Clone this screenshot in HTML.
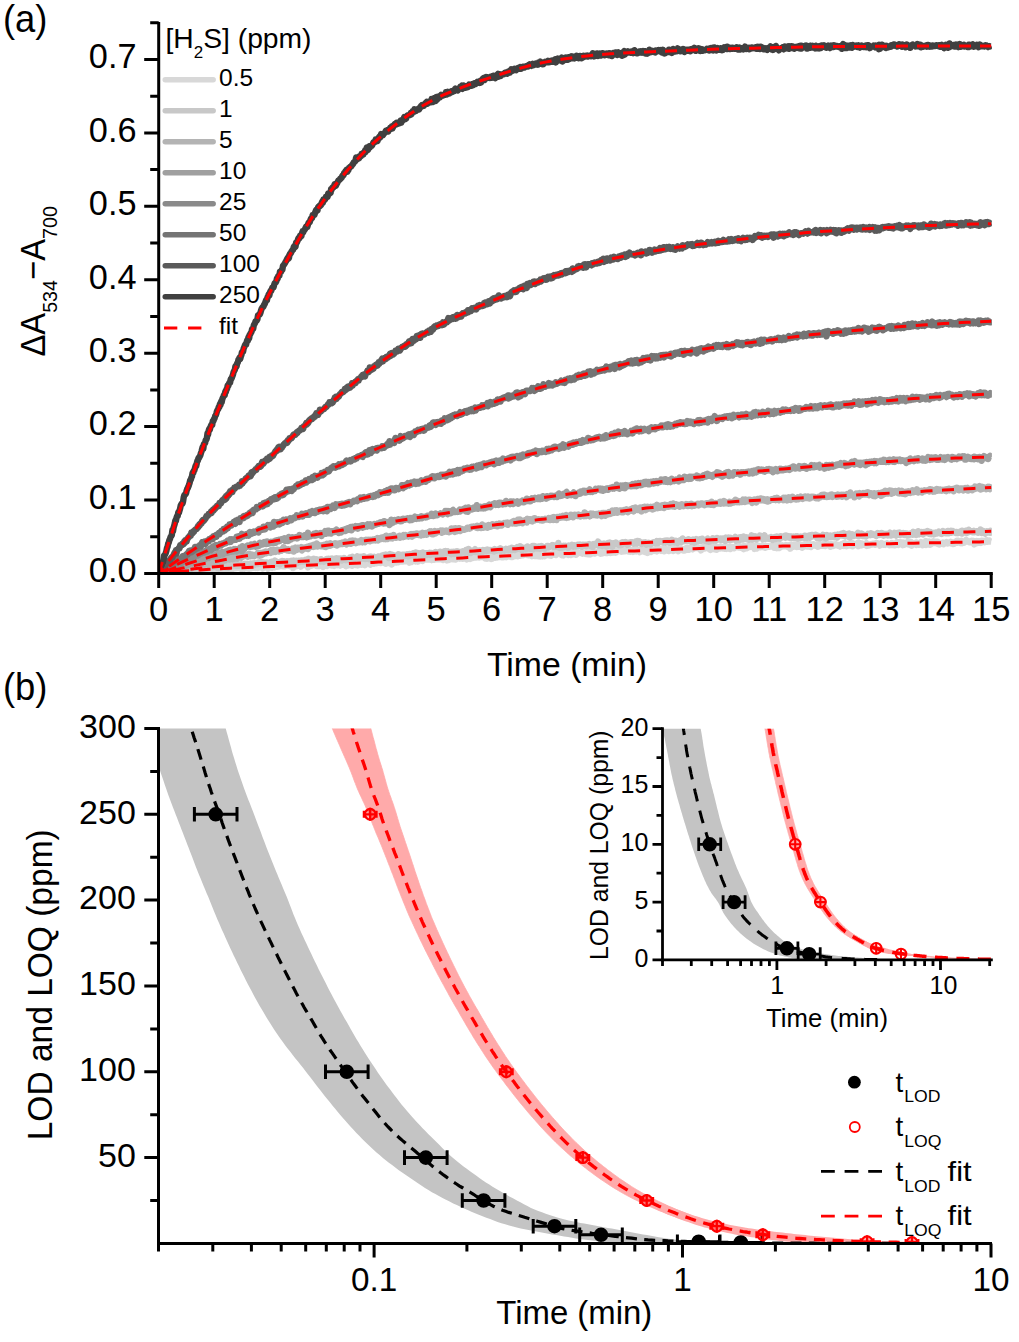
<!DOCTYPE html>
<html><head><meta charset="utf-8"><title>Figure</title>
<style>html,body{margin:0;padding:0;background:#fff}body{width:1019px;height:1342px;overflow:hidden;font-family:"Liberation Sans",sans-serif}</style></head>
<body>
<svg width="1019" height="1342" viewBox="0 0 1019 1342" style="display:block">
<rect width="1019" height="1342" fill="#fff"/>
<defs>
<clipPath id="ca"><rect x="158.7" y="20" width="833.2" height="553.4"/></clipPath>
<clipPath id="cb"><rect x="158.5" y="728.5" width="833" height="515"/></clipPath>
<clipPath id="ci"><rect x="662.5" y="728.7" width="329" height="231.3"/></clipPath>
<clipPath id="cbm"><rect x="150" y="720" width="860" height="523.4"/></clipPath>
<clipPath id="cim"><rect x="650" y="720" width="360" height="239.9"/></clipPath>
</defs>
<g clip-path="url(#ca)" fill="none" stroke-linejoin="round" stroke-linecap="butt">
<path d="M158.7,571.9 L159.3,572.9 L159.9,573.1 L160.5,574.6 L161.1,573.3 L161.7,573.3 L162.3,572.9 L162.9,573.3 L163.5,572.9 L164.1,573.3 L164.6,573.8 L165.2,571.8 L165.8,571.9 L166.4,571.1 L167.0,572.6 L167.6,573.1 L168.2,573.5 L168.8,574.4 L169.4,572.1 L170.0,573.6 L170.6,573.8 L171.2,572.9 L171.8,571.3 L172.4,572.1 L173.0,573.3 L173.6,572.9 L174.2,571.8 L174.8,572.4 L175.3,572.7 L175.9,572.0 L176.5,570.9 L177.1,569.4 L177.7,572.1 L178.3,571.8 L178.9,571.9 L179.5,573.2 L180.1,571.8 L180.7,571.9 L181.3,570.1 L181.9,570.9 L182.5,572.3 L183.1,570.3 L183.7,571.1 L184.3,572.3 L184.9,571.3 L185.5,571.5 L186.1,571.7 L186.6,571.0 L187.2,572.6 L187.8,571.0 L188.4,569.9 L189.0,569.9 L189.6,569.7 L190.2,569.7 L190.8,569.5 L191.4,571.6 L192.0,569.8 L192.6,572.0 L193.2,570.9 L193.8,572.0 L194.4,569.3 L195.0,568.9 L195.6,570.1 L196.2,568.3 L196.8,570.3 L197.4,569.4 L197.9,569.3 L198.5,570.2 L199.1,568.8 L199.7,567.2 L200.3,569.6 L200.9,568.2 L201.5,569.1 L202.1,567.5 L202.7,568.6 L203.3,568.4 L203.9,568.5 L204.5,568.7 L205.1,570.4 L205.7,567.9 L206.3,570.5 L206.9,569.3 L207.5,569.2 L208.1,570.4 L208.6,569.6 L209.2,568.8 L209.8,569.6 L210.4,570.2 L211.0,571.8 L211.6,570.1 L212.2,569.9 L212.8,570.0 L213.4,570.5 L214.0,569.2 L214.6,570.0 L215.2,569.5 L215.8,568.5 L216.4,569.7 L217.0,569.4 L217.6,567.2 L218.2,568.1 L218.8,569.9 L219.4,569.0 L219.9,568.4 L220.5,567.8 L221.1,568.5 L221.7,568.9 L222.3,568.9 L222.9,567.9 L223.5,568.3 L224.1,568.8 L224.7,568.8 L225.3,568.9 L225.9,567.7 L226.5,568.9 L227.1,568.1 L227.7,567.7 L228.3,567.8 L228.9,569.1 L229.5,567.2 L230.1,568.9 L230.7,568.1 L231.2,569.1 L231.8,569.8 L232.4,567.9 L233.0,567.9 L233.6,568.0 L234.2,567.6 L234.8,568.3 L235.4,568.3 L236.0,567.9 L236.6,566.2 L237.2,567.1 L237.8,567.9 L238.4,567.0 L239.0,568.0 L239.6,567.9 L240.2,566.7 L240.8,568.0 L241.4,569.1 L241.9,568.3 L242.5,567.5 L243.1,567.4 L243.7,566.7 L244.3,568.6 L244.9,567.2 L245.5,567.4 L246.1,568.1 L246.7,567.3 L247.3,567.4 L247.9,568.5 L248.5,566.8 L249.1,568.6 L249.7,567.4 L250.3,567.4 L250.9,567.1 L251.5,568.1 L252.1,567.5 L252.7,567.5 L253.2,566.3 L253.8,567.6 L254.4,567.0 L255.0,567.0 L255.6,567.8 L256.2,564.6 L256.8,566.8 L257.4,567.9 L258.0,565.5 L258.6,567.7 L259.2,566.3 L259.8,565.9 L260.4,567.3 L261.0,567.2 L261.6,567.4 L262.2,567.0 L262.8,568.3 L263.4,567.8 L264.0,566.8 L264.5,565.9 L265.1,566.2 L265.7,565.4 L266.3,566.4 L266.9,567.5 L267.5,567.0 L268.1,568.7 L268.7,567.7 L269.3,567.6 L269.9,566.3 L270.5,566.0 L271.1,566.9 L271.7,567.0 L272.3,567.8 L272.9,566.9 L273.5,566.5 L274.1,566.2 L274.7,567.3 L275.2,564.7 L275.8,565.4 L276.4,566.6 L277.0,566.8 L277.6,566.6 L278.2,566.1 L278.8,566.4 L279.4,565.8 L280.0,565.5 L280.6,565.0 L281.2,565.1 L281.8,566.0 L282.4,565.6 L283.0,566.4 L283.6,566.3 L284.2,564.3 L284.8,566.1 L285.4,563.9 L286.0,565.8 L286.5,565.4 L287.1,564.6 L287.7,565.5 L288.3,565.4 L288.9,565.8 L289.5,565.9 L290.1,565.7 L290.7,566.2 L291.3,564.2 L291.9,565.6 L292.5,564.3 L293.1,568.1 L293.7,565.8 L294.3,565.4 L294.9,566.1 L295.5,564.9 L296.1,565.3 L296.7,566.0 L297.3,565.4 L297.8,563.6 L298.4,565.5 L299.0,565.5 L299.6,565.9 L300.2,565.4 L300.8,566.7 L301.4,565.6 L302.0,563.3 L302.6,564.6 L303.2,565.0 L303.8,564.7 L304.4,564.0 L305.0,565.0 L305.6,563.7 L306.2,564.5 L306.8,565.3 L307.4,564.0 L308.0,567.4 L308.6,566.1 L309.1,565.3 L309.7,566.0 L310.3,565.1 L310.9,565.6 L311.5,565.7 L312.1,562.7 L312.7,564.4 L313.3,564.8 L313.9,563.8 L314.5,564.9 L315.1,563.8 L315.7,564.3 L316.3,563.4 L316.9,566.0 L317.5,564.0 L318.1,564.6 L318.7,566.0 L319.3,564.3 L319.8,565.9 L320.4,563.7 L321.0,564.7 L321.6,564.5 L322.2,565.0 L322.8,564.4 L323.4,567.0 L324.0,565.3 L324.6,565.8 L325.2,565.1 L325.8,565.3 L326.4,564.9 L327.0,566.0 L327.6,563.5 L328.2,563.0 L328.8,565.1 L329.4,564.6 L330.0,564.4 L330.6,563.7 L331.1,563.2 L331.7,565.6 L332.3,564.8 L332.9,565.4 L333.5,565.4 L334.1,565.8 L334.7,564.0 L335.3,565.2 L335.9,563.0 L336.5,563.6 L337.1,565.2 L337.7,565.0 L338.3,564.9 L338.9,563.1 L339.5,565.0 L340.1,565.5 L340.7,564.3 L341.3,564.0 L341.8,564.8 L342.4,562.8 L343.0,564.0 L343.6,563.9 L344.2,564.9 L344.8,564.3 L345.4,564.3 L346.0,566.1 L346.6,563.9 L347.2,565.6 L347.8,564.1 L348.4,565.4 L349.0,562.3 L349.6,563.8 L350.2,563.3 L350.8,563.0 L351.4,565.0 L352.0,565.7 L352.6,563.9 L353.1,563.0 L353.7,563.6 L354.3,563.0 L354.9,562.9 L355.5,565.0 L356.1,563.4 L356.7,561.9 L357.3,564.0 L357.9,565.3 L358.5,563.5 L359.1,563.5 L359.7,562.9 L360.3,563.9 L360.9,563.0 L361.5,564.8 L362.1,562.1 L362.7,561.5 L363.3,561.5 L363.9,563.9 L364.4,562.3 L365.0,565.2 L365.6,562.5 L366.2,562.7 L366.8,563.2 L367.4,562.2 L368.0,562.6 L368.6,561.9 L369.2,562.6 L369.8,562.7 L370.4,564.6 L371.0,564.0 L371.6,563.2 L372.2,562.7 L372.8,562.8 L373.4,561.6 L374.0,563.6 L374.6,562.9 L375.1,562.4 L375.7,562.9 L376.3,562.2 L376.9,563.1 L377.5,561.4 L378.1,562.8 L378.7,561.4 L379.3,562.2 L379.9,560.8 L380.5,563.1 L381.1,561.4 L381.7,562.3 L382.3,561.6 L382.9,560.8 L383.5,562.8 L384.1,563.0 L384.7,563.0 L385.3,562.0 L385.9,563.8 L386.4,562.2 L387.0,563.2 L387.6,563.1 L388.2,562.5 L388.8,561.8 L389.4,562.9 L390.0,562.6 L390.6,562.2 L391.2,562.4 L391.8,564.5 L392.4,562.6 L393.0,562.0 L393.6,560.8 L394.2,560.0 L394.8,561.0 L395.4,561.4 L396.0,562.5 L396.6,561.7 L397.2,560.9 L397.7,560.6 L398.3,562.2 L398.9,561.1 L399.5,560.6 L400.1,559.6 L400.7,560.8 L401.3,561.4 L401.9,561.6 L402.5,561.4 L403.1,561.5 L403.7,560.2 L404.3,560.0 L404.9,560.3 L405.5,559.7 L406.1,561.3 L406.7,560.6 L407.3,561.1 L407.9,560.9 L408.4,559.9 L409.0,560.9 L409.6,562.6 L410.2,561.1 L410.8,561.5 L411.4,562.0 L412.0,561.5 L412.6,560.1 L413.2,559.3 L413.8,561.0 L414.4,559.8 L415.0,559.5 L415.6,561.4 L416.2,560.5 L416.8,560.5 L417.4,560.1 L418.0,561.6 L418.6,560.4 L419.2,559.2 L419.7,558.9 L420.3,558.6 L420.9,560.2 L421.5,558.1 L422.1,559.1 L422.7,560.9 L423.3,558.9 L423.9,559.8 L424.5,559.1 L425.1,559.5 L425.7,558.3 L426.3,559.1 L426.9,559.4 L427.5,558.3 L428.1,558.8 L428.7,559.4 L429.3,557.8 L429.9,559.3 L430.5,559.6 L431.0,559.5 L431.6,560.1 L432.2,559.3 L432.8,557.3 L433.4,559.5 L434.0,558.7 L434.6,559.6 L435.2,559.1 L435.8,557.4 L436.4,558.0 L437.0,559.2 L437.6,558.6 L438.2,559.2 L438.8,559.2 L439.4,559.3 L440.0,559.4 L440.6,558.5 L441.2,558.2 L441.7,558.4 L442.3,558.9 L442.9,559.9 L443.5,558.9 L444.1,559.5 L444.7,558.0 L445.3,558.2 L445.9,558.2 L446.5,559.2 L447.1,560.4 L447.7,558.1 L448.3,557.8 L448.9,560.0 L449.5,558.4 L450.1,557.5 L450.7,559.3 L451.3,556.8 L451.9,558.7 L452.5,559.1 L453.0,557.1 L453.6,557.8 L454.2,558.7 L454.8,557.2 L455.4,559.6 L456.0,556.3 L456.6,558.5 L457.2,557.6 L457.8,558.1 L458.4,557.4 L459.0,557.2 L459.6,558.6 L460.2,557.3 L460.8,558.2 L461.4,558.6 L462.0,558.2 L462.6,558.8 L463.2,558.7 L463.8,557.2 L464.3,558.2 L464.9,557.2 L465.5,557.6 L466.1,558.6 L466.7,559.4 L467.3,558.3 L467.9,557.2 L468.5,557.4 L469.1,557.9 L469.7,556.5 L470.3,558.9 L470.9,558.5 L471.5,557.4 L472.1,555.4 L472.7,556.6 L473.3,557.9 L473.9,556.5 L474.5,556.4 L475.1,556.3 L475.6,557.3 L476.2,557.6 L476.8,557.1 L477.4,556.7 L478.0,555.7 L478.6,555.2 L479.2,557.5 L479.8,557.2 L480.4,556.9 L481.0,557.0 L481.6,556.6 L482.2,556.5 L482.8,556.7 L483.4,555.7 L484.0,556.9 L484.6,557.8 L485.2,558.4 L485.8,558.0 L486.3,558.1 L486.9,558.7 L487.5,556.5 L488.1,557.0 L488.7,557.5 L489.3,557.7 L489.9,558.3 L490.5,557.8 L491.1,555.4 L491.7,558.9 L492.3,557.1 L492.9,556.6 L493.5,557.1 L494.1,557.2 L494.7,556.1 L495.3,557.8 L495.9,556.4 L496.5,555.6 L497.1,557.5 L497.6,557.2 L498.2,556.6 L498.8,556.0 L499.4,555.7 L500.0,556.2 L500.6,557.1 L501.2,557.2 L501.8,556.1 L502.4,555.8 L503.0,557.2 L503.6,556.1 L504.2,555.8 L504.8,555.2 L505.4,556.9 L506.0,555.5 L506.6,557.1 L507.2,556.3 L507.8,555.9 L508.3,554.5 L508.9,553.0 L509.5,555.8 L510.1,555.6 L510.7,555.0 L511.3,557.1 L511.9,555.2 L512.5,556.9 L513.1,554.3 L513.7,554.4 L514.3,555.1 L514.9,556.1 L515.5,553.9 L516.1,555.0 L516.7,555.0 L517.3,554.4 L517.9,556.3 L518.5,554.3 L519.1,553.7 L519.6,554.3 L520.2,554.5 L520.8,555.7 L521.4,554.4 L522.0,554.6 L522.6,554.9 L523.2,555.2 L523.8,554.1 L524.4,553.7 L525.0,554.6 L525.6,554.1 L526.2,553.8 L526.8,553.6 L527.4,554.7 L528.0,555.2 L528.6,555.3 L529.2,555.0 L529.8,554.4 L530.4,553.9 L530.9,555.3 L531.5,554.9 L532.1,556.1 L532.7,554.3 L533.3,555.6 L533.9,554.9 L534.5,555.9 L535.1,555.5 L535.7,555.9 L536.3,553.9 L536.9,555.3 L537.5,555.8 L538.1,556.3 L538.7,556.0 L539.3,555.0 L539.9,553.9 L540.5,556.4 L541.1,556.0 L541.7,555.2 L542.2,555.5 L542.8,556.3 L543.4,554.8 L544.0,554.2 L544.6,556.1 L545.2,554.6 L545.8,553.8 L546.4,553.8 L547.0,555.1 L547.6,552.7 L548.2,554.1 L548.8,555.2 L549.4,553.7 L550.0,555.4 L550.6,553.7 L551.2,555.6 L551.8,554.0 L552.4,554.9 L552.9,553.3 L553.5,553.5 L554.1,553.6 L554.7,553.9 L555.3,552.9 L555.9,555.1 L556.5,553.4 L557.1,553.5 L557.7,553.3 L558.3,552.9 L558.9,550.4 L559.5,553.5 L560.1,553.0 L560.7,553.1 L561.3,552.1 L561.9,555.2 L562.5,552.1 L563.1,554.2 L563.7,555.3 L564.2,554.2 L564.8,553.3 L565.4,552.9 L566.0,553.0 L566.6,552.2 L567.2,553.1 L567.8,553.2 L568.4,555.0 L569.0,552.7 L569.6,552.4 L570.2,553.6 L570.8,555.0 L571.4,554.4 L572.0,551.6 L572.6,553.6 L573.2,553.9 L573.8,554.1 L574.4,552.6 L575.0,553.7 L575.5,554.2 L576.1,554.7 L576.7,553.6 L577.3,552.5 L577.9,553.2 L578.5,552.3 L579.1,552.8 L579.7,552.6 L580.3,552.7 L580.9,552.9 L581.5,552.2 L582.1,552.6 L582.7,553.6 L583.3,553.1 L583.9,553.2 L584.5,552.6 L585.1,552.8 L585.7,552.3 L586.2,554.0 L586.8,552.7 L587.4,552.0 L588.0,554.2 L588.6,551.6 L589.2,552.7 L589.8,553.1 L590.4,554.4 L591.0,551.9 L591.6,553.5 L592.2,553.0 L592.8,552.0 L593.4,553.3 L594.0,553.3 L594.6,553.5 L595.2,552.5 L595.8,551.6 L596.4,551.7 L597.0,551.7 L597.5,552.3 L598.1,551.8 L598.7,552.5 L599.3,550.2 L599.9,551.7 L600.5,553.6 L601.1,553.0 L601.7,550.8 L602.3,553.4 L602.9,552.5 L603.5,551.7 L604.1,552.9 L604.7,551.2 L605.3,550.6 L605.9,552.9 L606.5,551.3 L607.1,553.0 L607.7,552.9 L608.2,551.6 L608.8,551.6 L609.4,552.3 L610.0,550.9 L610.6,553.0 L611.2,552.3 L611.8,552.6 L612.4,550.9 L613.0,550.8 L613.6,550.7 L614.2,552.5 L614.8,551.2 L615.4,550.9 L616.0,552.6 L616.6,552.0 L617.2,550.9 L617.8,550.8 L618.4,551.1 L619.0,550.8 L619.5,550.7 L620.1,550.8 L620.7,550.9 L621.3,551.7 L621.9,551.1 L622.5,551.5 L623.1,548.9 L623.7,550.7 L624.3,550.9 L624.9,551.2 L625.5,551.0 L626.1,551.1 L626.7,550.5 L627.3,550.9 L627.9,550.1 L628.5,551.5 L629.1,550.5 L629.7,550.1 L630.3,551.8 L630.8,550.6 L631.4,550.2 L632.0,550.7 L632.6,550.6 L633.2,551.8 L633.8,549.3 L634.4,551.0 L635.0,551.1 L635.6,549.3 L636.2,551.5 L636.8,549.2 L637.4,549.8 L638.0,549.8 L638.6,550.5 L639.2,551.4 L639.8,552.1 L640.4,549.4 L641.0,551.0 L641.5,551.3 L642.1,549.5 L642.7,551.3 L643.3,550.9 L643.9,551.0 L644.5,551.0 L645.1,551.9 L645.7,551.2 L646.3,549.5 L646.9,549.9 L647.5,552.9 L648.1,552.2 L648.7,550.2 L649.3,550.8 L649.9,551.1 L650.5,549.7 L651.1,552.0 L651.7,549.6 L652.3,550.5 L652.8,550.3 L653.4,550.5 L654.0,549.8 L654.6,550.8 L655.2,551.0 L655.8,549.7 L656.4,550.2 L657.0,551.3 L657.6,549.0 L658.2,548.9 L658.8,548.6 L659.4,549.7 L660.0,549.6 L660.6,550.0 L661.2,550.8 L661.8,549.9 L662.4,549.7 L663.0,550.5 L663.6,548.5 L664.1,551.3 L664.7,550.8 L665.3,550.6 L665.9,549.0 L666.5,550.4 L667.1,550.4 L667.7,550.7 L668.3,550.6 L668.9,551.0 L669.5,548.9 L670.1,549.0 L670.7,548.4 L671.3,549.7 L671.9,547.0 L672.5,549.9 L673.1,550.9 L673.7,549.4 L674.3,549.1 L674.9,548.5 L675.4,550.1 L676.0,548.7 L676.6,547.9 L677.2,550.3 L677.8,550.2 L678.4,551.1 L679.0,549.3 L679.6,549.0 L680.2,549.2 L680.8,549.1 L681.4,548.6 L682.0,549.8 L682.6,549.0 L683.2,550.6 L683.8,550.5 L684.4,549.5 L685.0,550.4 L685.6,549.0 L686.1,548.2 L686.7,549.0 L687.3,549.7 L687.9,549.7 L688.5,547.9 L689.1,549.7 L689.7,548.9 L690.3,548.8 L690.9,548.4 L691.5,547.4 L692.1,548.7 L692.7,549.3 L693.3,546.8 L693.9,547.8 L694.5,547.4 L695.1,548.0 L695.7,547.3 L696.3,547.0 L696.9,547.0 L697.4,548.2 L698.0,548.3 L698.6,547.7 L699.2,548.1 L699.8,547.8 L700.4,549.0 L701.0,550.4 L701.6,547.9 L702.2,547.5 L702.8,547.6 L703.4,546.9 L704.0,547.5 L704.6,548.5 L705.2,547.2 L705.8,548.1 L706.4,547.1 L707.0,547.7 L707.6,547.3 L708.2,547.5 L708.7,547.7 L709.3,549.1 L709.9,547.8 L710.5,550.0 L711.1,547.5 L711.7,547.2 L712.3,546.0 L712.9,547.4 L713.5,548.5 L714.1,549.0 L714.7,546.0 L715.3,548.8 L715.9,547.0 L716.5,549.8 L717.1,547.9 L717.7,547.1 L718.3,547.4 L718.9,547.8 L719.4,548.4 L720.0,548.5 L720.6,546.6 L721.2,547.3 L721.8,547.8 L722.4,547.4 L723.0,548.5 L723.6,547.1 L724.2,546.9 L724.8,548.8 L725.4,548.2 L726.0,547.4 L726.6,548.9 L727.2,546.5 L727.8,546.8 L728.4,548.2 L729.0,547.1 L729.6,546.6 L730.2,549.1 L730.7,547.3 L731.3,547.8 L731.9,547.9 L732.5,547.0 L733.1,547.9 L733.7,548.4 L734.3,548.2 L734.9,546.9 L735.5,546.4 L736.1,546.9 L736.7,547.0 L737.3,547.0 L737.9,545.9 L738.5,546.5 L739.1,547.6 L739.7,547.5 L740.3,546.4 L740.9,547.8 L741.5,547.6 L742.0,547.2 L742.6,548.1 L743.2,546.4 L743.8,549.2 L744.4,545.8 L745.0,547.3 L745.6,548.1 L746.2,546.7 L746.8,548.3 L747.4,546.3 L748.0,546.0 L748.6,547.0 L749.2,546.7 L749.8,545.6 L750.4,546.8 L751.0,546.4 L751.6,546.1 L752.2,545.1 L752.7,546.9 L753.3,546.5 L753.9,545.7 L754.5,548.9 L755.1,547.1 L755.7,548.6 L756.3,548.6 L756.9,545.2 L757.5,546.8 L758.1,545.6 L758.7,547.2 L759.3,546.5 L759.9,547.2 L760.5,547.4 L761.1,546.9 L761.7,546.6 L762.3,545.5 L762.9,547.0 L763.5,546.3 L764.0,546.7 L764.6,546.3 L765.2,547.7 L765.8,545.7 L766.4,546.9 L767.0,546.7 L767.6,546.9 L768.2,546.0 L768.8,546.4 L769.4,546.8 L770.0,546.7 L770.6,546.5 L771.2,546.1 L771.8,546.0 L772.4,545.4 L773.0,545.2 L773.6,546.2 L774.2,547.7 L774.8,545.1 L775.3,544.8 L775.9,546.8 L776.5,546.5 L777.1,548.1 L777.7,545.5 L778.3,546.9 L778.9,544.4 L779.5,548.0 L780.1,545.8 L780.7,545.4 L781.3,546.4 L781.9,546.6 L782.5,545.4 L783.1,546.0 L783.7,546.0 L784.3,545.9 L784.9,546.3 L785.5,546.1 L786.0,545.2 L786.6,546.3 L787.2,545.9 L787.8,546.8 L788.4,545.4 L789.0,547.2 L789.6,545.4 L790.2,548.7 L790.8,546.8 L791.4,547.4 L792.0,545.1 L792.6,545.6 L793.2,546.8 L793.8,546.3 L794.4,544.7 L795.0,545.8 L795.6,545.2 L796.2,546.9 L796.8,547.0 L797.3,545.3 L797.9,544.0 L798.5,546.5 L799.1,545.4 L799.7,546.8 L800.3,544.9 L800.9,546.6 L801.5,546.6 L802.1,547.7 L802.7,546.2 L803.3,545.6 L803.9,544.5 L804.5,546.5 L805.1,544.7 L805.7,545.7 L806.3,545.6 L806.9,546.1 L807.5,546.5 L808.0,546.2 L808.6,543.7 L809.2,546.3 L809.8,545.6 L810.4,544.2 L811.0,547.0 L811.6,544.8 L812.2,545.7 L812.8,545.1 L813.4,544.5 L814.0,545.4 L814.6,545.5 L815.2,544.7 L815.8,544.7 L816.4,545.9 L817.0,545.6 L817.6,546.7 L818.2,544.3 L818.8,546.4 L819.3,545.1 L819.9,543.8 L820.5,544.7 L821.1,545.5 L821.7,545.8 L822.3,545.8 L822.9,544.5 L823.5,545.0 L824.1,545.4 L824.7,543.0 L825.3,546.0 L825.9,545.7 L826.5,545.6 L827.1,545.0 L827.7,544.8 L828.3,545.2 L828.9,544.3 L829.5,544.4 L830.1,545.1 L830.6,546.7 L831.2,544.0 L831.8,545.3 L832.4,545.2 L833.0,544.7 L833.6,545.8 L834.2,545.4 L834.8,544.6 L835.4,544.9 L836.0,544.3 L836.6,545.2 L837.2,544.9 L837.8,545.7 L838.4,545.1 L839.0,545.0 L839.6,545.7 L840.2,546.5 L840.8,545.5 L841.4,545.0 L841.9,544.1 L842.5,544.9 L843.1,545.3 L843.7,545.9 L844.3,542.9 L844.9,545.6 L845.5,545.8 L846.1,544.9 L846.7,546.2 L847.3,543.9 L847.9,544.6 L848.5,544.2 L849.1,545.5 L849.7,545.3 L850.3,544.2 L850.9,544.2 L851.5,542.5 L852.1,543.8 L852.6,546.3 L853.2,544.8 L853.8,545.1 L854.4,543.9 L855.0,544.9 L855.6,544.4 L856.2,545.0 L856.8,544.1 L857.4,543.2 L858.0,545.0 L858.6,546.2 L859.2,545.2 L859.8,543.0 L860.4,544.2 L861.0,544.7 L861.6,545.3 L862.2,543.6 L862.8,544.0 L863.4,544.4 L863.9,544.7 L864.5,544.3 L865.1,544.4 L865.7,543.6 L866.3,543.1 L866.9,545.9 L867.5,545.4 L868.1,544.2 L868.7,544.1 L869.3,545.4 L869.9,544.5 L870.5,544.3 L871.1,544.3 L871.7,544.6 L872.3,544.3 L872.9,543.6 L873.5,543.7 L874.1,543.6 L874.7,543.9 L875.2,544.7 L875.8,544.3 L876.4,543.2 L877.0,543.9 L877.6,543.4 L878.2,543.9 L878.8,544.2 L879.4,543.9 L880.0,545.6 L880.6,544.2 L881.2,544.4 L881.8,543.1 L882.4,544.4 L883.0,543.9 L883.6,544.6 L884.2,543.9 L884.8,544.0 L885.4,544.8 L885.9,544.2 L886.5,544.1 L887.1,543.5 L887.7,544.4 L888.3,544.2 L888.9,544.6 L889.5,545.2 L890.1,544.3 L890.7,544.1 L891.3,545.0 L891.9,543.0 L892.5,544.7 L893.1,543.3 L893.7,543.5 L894.3,545.2 L894.9,543.9 L895.5,545.1 L896.1,543.9 L896.7,543.3 L897.2,542.1 L897.8,542.9 L898.4,544.9 L899.0,543.9 L899.6,542.4 L900.2,543.6 L900.8,542.2 L901.4,544.3 L902.0,544.3 L902.6,545.0 L903.2,544.0 L903.8,542.6 L904.4,544.6 L905.0,543.1 L905.6,543.2 L906.2,542.8 L906.8,543.8 L907.4,543.5 L908.0,541.6 L908.5,544.5 L909.1,542.9 L909.7,542.1 L910.3,543.0 L910.9,541.9 L911.5,545.8 L912.1,543.8 L912.7,544.5 L913.3,543.8 L913.9,543.4 L914.5,543.0 L915.1,544.2 L915.7,542.8 L916.3,544.9 L916.9,542.6 L917.5,543.4 L918.1,544.6 L918.7,544.8 L919.2,544.8 L919.8,544.0 L920.4,543.1 L921.0,542.1 L921.6,542.4 L922.2,544.3 L922.8,545.2 L923.4,543.5 L924.0,544.4 L924.6,543.2 L925.2,543.7 L925.8,541.1 L926.4,544.9 L927.0,543.0 L927.6,541.5 L928.2,543.4 L928.8,543.9 L929.4,541.6 L930.0,544.8 L930.5,544.5 L931.1,544.1 L931.7,542.9 L932.3,542.4 L932.9,543.2 L933.5,541.2 L934.1,543.0 L934.7,542.7 L935.3,543.0 L935.9,541.9 L936.5,543.2 L937.1,543.6 L937.7,541.8 L938.3,542.2 L938.9,542.6 L939.5,544.4 L940.1,544.1 L940.7,543.5 L941.2,543.5 L941.8,543.6 L942.4,543.4 L943.0,542.7 L943.6,544.2 L944.2,543.1 L944.8,543.5 L945.4,543.3 L946.0,543.2 L946.6,542.1 L947.2,542.7 L947.8,543.4 L948.4,542.6 L949.0,542.7 L949.6,542.3 L950.2,543.0 L950.8,541.9 L951.4,542.5 L952.0,543.7 L952.5,543.9 L953.1,544.0 L953.7,542.5 L954.3,543.6 L954.9,543.1 L955.5,542.8 L956.1,541.7 L956.7,540.8 L957.3,542.6 L957.9,540.7 L958.5,541.9 L959.1,541.1 L959.7,542.4 L960.3,543.0 L960.9,541.6 L961.5,540.9 L962.1,543.2 L962.7,542.0 L963.3,541.5 L963.8,541.3 L964.4,542.6 L965.0,542.0 L965.6,540.8 L966.2,540.0 L966.8,541.5 L967.4,540.8 L968.0,541.5 L968.6,541.3 L969.2,542.2 L969.8,542.1 L970.4,542.3 L971.0,541.8 L971.6,540.8 L972.2,541.6 L972.8,541.1 L973.4,542.3 L974.0,541.1 L974.5,544.4 L975.1,542.9 L975.7,542.0 L976.3,543.3 L976.9,541.1 L977.5,541.3 L978.1,542.3 L978.7,541.3 L979.3,542.7 L979.9,542.1 L980.5,541.8 L981.1,542.8 L981.7,540.7 L982.3,542.1 L982.9,540.7 L983.5,541.6 L984.1,541.1 L984.7,542.1 L985.3,541.6 L985.8,541.9 L986.4,541.4 L987.0,540.1 L987.6,541.8 L988.2,541.4 L988.8,541.1 L989.4,540.6 L990.0,541.5 L990.6,541.7 L991.2,541.8" stroke="#d8d8d8" stroke-width="6.4"/>
<path d="M158.7,574.5 L159.3,573.0 L159.9,574.3 L160.5,574.0 L161.1,574.5 L161.7,574.2 L162.3,572.7 L162.9,573.6 L163.5,574.0 L164.1,573.9 L164.6,573.4 L165.2,572.7 L165.8,571.6 L166.4,572.4 L167.0,572.4 L167.6,572.5 L168.2,571.8 L168.8,573.2 L169.4,572.2 L170.0,573.0 L170.6,572.9 L171.2,571.2 L171.8,571.7 L172.4,571.9 L173.0,572.6 L173.6,571.4 L174.2,569.8 L174.8,571.1 L175.3,571.0 L175.9,571.5 L176.5,570.4 L177.1,571.4 L177.7,568.6 L178.3,570.6 L178.9,570.8 L179.5,569.8 L180.1,571.8 L180.7,571.3 L181.3,570.9 L181.9,570.5 L182.5,568.8 L183.1,571.0 L183.7,567.9 L184.3,569.0 L184.9,568.3 L185.5,569.4 L186.1,570.6 L186.6,570.1 L187.2,568.0 L187.8,569.4 L188.4,568.8 L189.0,568.8 L189.6,567.6 L190.2,567.8 L190.8,568.6 L191.4,568.6 L192.0,567.9 L192.6,569.8 L193.2,569.7 L193.8,570.2 L194.4,569.8 L195.0,570.3 L195.6,568.4 L196.2,569.1 L196.8,567.4 L197.4,569.0 L197.9,568.5 L198.5,569.1 L199.1,567.9 L199.7,568.0 L200.3,568.8 L200.9,568.3 L201.5,569.0 L202.1,568.7 L202.7,569.0 L203.3,567.3 L203.9,568.8 L204.5,569.0 L205.1,567.4 L205.7,568.1 L206.3,568.9 L206.9,568.6 L207.5,568.2 L208.1,568.3 L208.6,567.2 L209.2,568.0 L209.8,567.9 L210.4,566.4 L211.0,565.5 L211.6,565.7 L212.2,567.2 L212.8,566.4 L213.4,566.8 L214.0,565.2 L214.6,566.3 L215.2,566.4 L215.8,565.1 L216.4,565.6 L217.0,567.0 L217.6,568.0 L218.2,567.4 L218.8,568.2 L219.4,565.6 L219.9,566.9 L220.5,566.3 L221.1,566.5 L221.7,567.4 L222.3,566.5 L222.9,566.3 L223.5,566.8 L224.1,566.6 L224.7,566.3 L225.3,567.4 L225.9,566.3 L226.5,566.5 L227.1,566.9 L227.7,565.9 L228.3,567.7 L228.9,567.1 L229.5,566.0 L230.1,564.4 L230.7,565.0 L231.2,566.2 L231.8,564.1 L232.4,565.0 L233.0,565.6 L233.6,565.3 L234.2,563.7 L234.8,564.4 L235.4,565.6 L236.0,565.8 L236.6,564.6 L237.2,565.8 L237.8,565.2 L238.4,564.0 L239.0,565.7 L239.6,565.3 L240.2,564.6 L240.8,565.2 L241.4,564.2 L241.9,565.2 L242.5,564.5 L243.1,564.5 L243.7,565.5 L244.3,564.3 L244.9,563.8 L245.5,564.9 L246.1,565.3 L246.7,565.1 L247.3,563.7 L247.9,564.7 L248.5,565.1 L249.1,565.5 L249.7,564.4 L250.3,565.3 L250.9,563.5 L251.5,565.0 L252.1,565.5 L252.7,563.4 L253.2,564.0 L253.8,563.8 L254.4,564.9 L255.0,563.4 L255.6,563.7 L256.2,563.9 L256.8,563.4 L257.4,563.2 L258.0,564.0 L258.6,562.5 L259.2,563.2 L259.8,563.5 L260.4,562.8 L261.0,563.0 L261.6,561.9 L262.2,562.9 L262.8,563.3 L263.4,563.1 L264.0,562.6 L264.5,564.4 L265.1,564.2 L265.7,563.3 L266.3,562.5 L266.9,562.4 L267.5,563.1 L268.1,564.1 L268.7,564.8 L269.3,563.1 L269.9,563.4 L270.5,562.9 L271.1,562.1 L271.7,563.5 L272.3,561.7 L272.9,563.1 L273.5,562.9 L274.1,562.4 L274.7,564.0 L275.2,560.6 L275.8,562.7 L276.4,561.5 L277.0,562.9 L277.6,563.6 L278.2,563.1 L278.8,563.1 L279.4,563.7 L280.0,564.4 L280.6,561.6 L281.2,562.7 L281.8,562.0 L282.4,561.2 L283.0,562.6 L283.6,562.1 L284.2,561.3 L284.8,561.8 L285.4,562.0 L286.0,563.0 L286.5,562.9 L287.1,561.4 L287.7,562.3 L288.3,561.4 L288.9,561.3 L289.5,561.7 L290.1,561.5 L290.7,561.8 L291.3,560.9 L291.9,563.6 L292.5,562.6 L293.1,561.7 L293.7,560.5 L294.3,563.2 L294.9,562.3 L295.5,561.4 L296.1,560.9 L296.7,561.9 L297.3,563.0 L297.8,561.2 L298.4,560.7 L299.0,560.9 L299.6,560.8 L300.2,560.7 L300.8,561.8 L301.4,560.5 L302.0,560.4 L302.6,561.1 L303.2,561.7 L303.8,561.4 L304.4,560.4 L305.0,561.3 L305.6,559.9 L306.2,560.6 L306.8,560.8 L307.4,559.8 L308.0,560.6 L308.6,558.7 L309.1,559.2 L309.7,561.0 L310.3,560.7 L310.9,562.0 L311.5,559.5 L312.1,559.7 L312.7,559.9 L313.3,561.2 L313.9,558.8 L314.5,559.0 L315.1,560.5 L315.7,560.8 L316.3,560.6 L316.9,559.4 L317.5,559.8 L318.1,560.2 L318.7,560.3 L319.3,561.1 L319.8,560.4 L320.4,561.4 L321.0,559.2 L321.6,560.2 L322.2,560.1 L322.8,560.4 L323.4,561.0 L324.0,561.8 L324.6,560.6 L325.2,560.2 L325.8,560.1 L326.4,559.0 L327.0,559.0 L327.6,560.3 L328.2,560.3 L328.8,558.7 L329.4,561.3 L330.0,559.8 L330.6,558.8 L331.1,559.3 L331.7,559.9 L332.3,558.7 L332.9,559.8 L333.5,560.0 L334.1,559.3 L334.7,559.6 L335.3,559.1 L335.9,558.4 L336.5,558.3 L337.1,561.3 L337.7,559.1 L338.3,558.9 L338.9,558.6 L339.5,559.2 L340.1,559.2 L340.7,558.7 L341.3,559.7 L341.8,560.5 L342.4,558.4 L343.0,558.4 L343.6,559.8 L344.2,558.1 L344.8,559.8 L345.4,558.9 L346.0,560.3 L346.6,559.0 L347.2,559.7 L347.8,559.3 L348.4,558.8 L349.0,558.4 L349.6,559.6 L350.2,557.4 L350.8,559.0 L351.4,560.0 L352.0,558.8 L352.6,556.9 L353.1,558.6 L353.7,559.2 L354.3,558.5 L354.9,557.7 L355.5,557.6 L356.1,557.6 L356.7,557.1 L357.3,556.3 L357.9,558.0 L358.5,557.7 L359.1,558.1 L359.7,557.8 L360.3,556.8 L360.9,557.6 L361.5,558.7 L362.1,557.2 L362.7,556.7 L363.3,557.8 L363.9,556.3 L364.4,556.9 L365.0,559.1 L365.6,558.2 L366.2,558.7 L366.8,558.2 L367.4,558.4 L368.0,557.5 L368.6,557.1 L369.2,559.2 L369.8,556.7 L370.4,557.5 L371.0,556.5 L371.6,557.8 L372.2,559.4 L372.8,557.6 L373.4,557.1 L374.0,556.8 L374.6,557.4 L375.1,558.1 L375.7,557.9 L376.3,557.7 L376.9,557.8 L377.5,556.9 L378.1,556.6 L378.7,556.4 L379.3,556.6 L379.9,557.0 L380.5,556.2 L381.1,556.4 L381.7,557.2 L382.3,555.5 L382.9,556.3 L383.5,556.2 L384.1,555.0 L384.7,555.6 L385.3,555.5 L385.9,554.5 L386.4,555.2 L387.0,555.3 L387.6,555.9 L388.2,557.6 L388.8,558.0 L389.4,556.6 L390.0,554.1 L390.6,556.0 L391.2,556.4 L391.8,555.6 L392.4,554.9 L393.0,555.6 L393.6,555.4 L394.2,555.5 L394.8,556.1 L395.4,556.0 L396.0,557.5 L396.6,555.5 L397.2,555.4 L397.7,555.1 L398.3,554.4 L398.9,556.3 L399.5,556.3 L400.1,554.7 L400.7,556.6 L401.3,555.2 L401.9,555.4 L402.5,554.9 L403.1,555.9 L403.7,554.9 L404.3,556.4 L404.9,554.8 L405.5,555.5 L406.1,555.8 L406.7,555.2 L407.3,554.4 L407.9,556.3 L408.4,555.4 L409.0,556.1 L409.6,554.0 L410.2,554.1 L410.8,555.2 L411.4,554.7 L412.0,555.3 L412.6,554.2 L413.2,553.4 L413.8,554.5 L414.4,554.2 L415.0,555.5 L415.6,552.4 L416.2,554.9 L416.8,553.7 L417.4,554.1 L418.0,553.2 L418.6,554.3 L419.2,554.5 L419.7,555.5 L420.3,553.3 L420.9,555.9 L421.5,553.0 L422.1,553.1 L422.7,552.6 L423.3,554.9 L423.9,554.8 L424.5,554.2 L425.1,553.5 L425.7,555.1 L426.3,553.2 L426.9,554.9 L427.5,553.3 L428.1,553.8 L428.7,553.4 L429.3,553.7 L429.9,552.9 L430.5,555.0 L431.0,552.9 L431.6,554.3 L432.2,553.8 L432.8,554.2 L433.4,552.9 L434.0,553.0 L434.6,553.6 L435.2,554.2 L435.8,552.0 L436.4,553.6 L437.0,552.9 L437.6,553.6 L438.2,552.3 L438.8,552.2 L439.4,552.5 L440.0,551.8 L440.6,551.8 L441.2,554.9 L441.7,553.6 L442.3,554.0 L442.9,552.3 L443.5,552.5 L444.1,553.7 L444.7,551.3 L445.3,552.5 L445.9,551.1 L446.5,553.2 L447.1,552.0 L447.7,551.5 L448.3,552.8 L448.9,552.0 L449.5,552.2 L450.1,552.7 L450.7,552.2 L451.3,554.2 L451.9,552.0 L452.5,552.6 L453.0,553.6 L453.6,551.9 L454.2,554.0 L454.8,553.6 L455.4,551.7 L456.0,552.0 L456.6,552.9 L457.2,551.3 L457.8,552.9 L458.4,552.8 L459.0,552.4 L459.6,551.9 L460.2,552.0 L460.8,553.1 L461.4,552.5 L462.0,551.7 L462.6,551.4 L463.2,552.1 L463.8,551.4 L464.3,551.2 L464.9,552.7 L465.5,552.2 L466.1,550.1 L466.7,552.0 L467.3,551.3 L467.9,552.8 L468.5,549.0 L469.1,552.2 L469.7,551.0 L470.3,551.2 L470.9,552.9 L471.5,551.6 L472.1,550.6 L472.7,551.8 L473.3,550.6 L473.9,551.7 L474.5,550.1 L475.1,549.2 L475.6,552.0 L476.2,550.4 L476.8,551.4 L477.4,551.7 L478.0,550.9 L478.6,550.7 L479.2,550.4 L479.8,550.5 L480.4,552.7 L481.0,551.2 L481.6,552.6 L482.2,550.5 L482.8,550.0 L483.4,550.6 L484.0,551.1 L484.6,550.3 L485.2,550.0 L485.8,550.3 L486.3,551.2 L486.9,550.9 L487.5,549.7 L488.1,550.8 L488.7,550.6 L489.3,550.5 L489.9,549.9 L490.5,549.9 L491.1,550.6 L491.7,550.7 L492.3,550.6 L492.9,550.3 L493.5,549.8 L494.1,551.5 L494.7,549.0 L495.3,550.8 L495.9,549.7 L496.5,550.7 L497.1,550.2 L497.6,549.7 L498.2,549.3 L498.8,549.5 L499.4,549.0 L500.0,549.9 L500.6,548.4 L501.2,550.9 L501.8,549.4 L502.4,549.4 L503.0,550.2 L503.6,549.8 L504.2,550.5 L504.8,549.5 L505.4,549.9 L506.0,548.9 L506.6,549.3 L507.2,549.3 L507.8,549.5 L508.3,550.2 L508.9,548.7 L509.5,548.6 L510.1,549.4 L510.7,550.0 L511.3,549.7 L511.9,547.9 L512.5,550.0 L513.1,548.4 L513.7,549.1 L514.3,548.3 L514.9,550.0 L515.5,548.3 L516.1,549.5 L516.7,548.3 L517.3,547.2 L517.9,548.8 L518.5,547.1 L519.1,548.5 L519.6,547.9 L520.2,546.2 L520.8,547.3 L521.4,547.9 L522.0,550.3 L522.6,548.8 L523.2,547.9 L523.8,549.0 L524.4,549.0 L525.0,547.8 L525.6,549.3 L526.2,549.1 L526.8,547.8 L527.4,546.5 L528.0,548.6 L528.6,547.9 L529.2,547.7 L529.8,548.8 L530.4,548.8 L530.9,547.4 L531.5,548.7 L532.1,548.3 L532.7,546.0 L533.3,549.3 L533.9,546.0 L534.5,546.3 L535.1,548.0 L535.7,546.4 L536.3,547.3 L536.9,548.5 L537.5,548.4 L538.1,548.5 L538.7,546.4 L539.3,548.7 L539.9,549.0 L540.5,548.3 L541.1,548.4 L541.7,546.0 L542.2,548.3 L542.8,548.5 L543.4,548.3 L544.0,548.3 L544.6,549.0 L545.2,547.2 L545.8,547.7 L546.4,547.1 L547.0,545.9 L547.6,546.0 L548.2,545.9 L548.8,547.1 L549.4,546.4 L550.0,546.9 L550.6,546.5 L551.2,546.1 L551.8,546.5 L552.4,545.2 L552.9,546.8 L553.5,545.2 L554.1,546.1 L554.7,546.7 L555.3,546.1 L555.9,546.7 L556.5,546.6 L557.1,545.6 L557.7,546.8 L558.3,543.0 L558.9,547.4 L559.5,547.8 L560.1,545.7 L560.7,547.0 L561.3,547.2 L561.9,547.6 L562.5,546.8 L563.1,547.2 L563.7,545.8 L564.2,546.9 L564.8,546.3 L565.4,545.7 L566.0,546.1 L566.6,546.7 L567.2,547.1 L567.8,547.5 L568.4,547.5 L569.0,545.5 L569.6,546.5 L570.2,546.3 L570.8,545.6 L571.4,545.4 L572.0,544.8 L572.6,545.2 L573.2,545.8 L573.8,546.7 L574.4,545.3 L575.0,545.8 L575.5,545.7 L576.1,546.5 L576.7,545.3 L577.3,544.9 L577.9,545.8 L578.5,545.2 L579.1,545.7 L579.7,546.0 L580.3,544.7 L580.9,545.9 L581.5,545.4 L582.1,546.8 L582.7,544.7 L583.3,545.9 L583.9,545.4 L584.5,545.4 L585.1,544.8 L585.7,545.8 L586.2,546.1 L586.8,544.8 L587.4,544.5 L588.0,545.3 L588.6,544.4 L589.2,544.0 L589.8,545.6 L590.4,544.5 L591.0,544.8 L591.6,546.5 L592.2,546.1 L592.8,547.0 L593.4,544.1 L594.0,545.4 L594.6,545.3 L595.2,544.3 L595.8,543.7 L596.4,544.6 L597.0,543.3 L597.5,543.6 L598.1,541.6 L598.7,545.5 L599.3,545.2 L599.9,545.3 L600.5,544.0 L601.1,545.3 L601.7,543.9 L602.3,546.0 L602.9,543.9 L603.5,544.4 L604.1,543.5 L604.7,544.1 L605.3,544.5 L605.9,544.5 L606.5,546.5 L607.1,544.9 L607.7,544.6 L608.2,543.0 L608.8,544.2 L609.4,545.6 L610.0,542.6 L610.6,545.3 L611.2,544.4 L611.8,545.0 L612.4,546.8 L613.0,543.2 L613.6,544.5 L614.2,543.3 L614.8,544.5 L615.4,543.4 L616.0,542.6 L616.6,543.4 L617.2,544.2 L617.8,544.7 L618.4,544.3 L619.0,545.1 L619.5,543.9 L620.1,543.5 L620.7,545.2 L621.3,545.1 L621.9,542.5 L622.5,543.8 L623.1,542.3 L623.7,543.3 L624.3,543.1 L624.9,543.5 L625.5,542.1 L626.1,542.3 L626.7,543.4 L627.3,544.9 L627.9,544.3 L628.5,543.3 L629.1,543.9 L629.7,542.5 L630.3,542.4 L630.8,542.3 L631.4,542.1 L632.0,542.5 L632.6,542.3 L633.2,542.4 L633.8,543.6 L634.4,542.6 L635.0,542.5 L635.6,541.7 L636.2,542.9 L636.8,543.3 L637.4,540.9 L638.0,541.9 L638.6,541.6 L639.2,541.3 L639.8,543.0 L640.4,542.0 L641.0,542.9 L641.5,544.0 L642.1,542.8 L642.7,542.7 L643.3,542.5 L643.9,543.4 L644.5,543.3 L645.1,543.9 L645.7,542.4 L646.3,544.8 L646.9,543.0 L647.5,543.5 L648.1,543.4 L648.7,542.8 L649.3,543.3 L649.9,544.4 L650.5,544.5 L651.1,544.1 L651.7,543.3 L652.3,542.8 L652.8,542.5 L653.4,542.3 L654.0,542.3 L654.6,542.8 L655.2,543.4 L655.8,542.7 L656.4,543.0 L657.0,541.1 L657.6,541.6 L658.2,543.1 L658.8,542.3 L659.4,541.1 L660.0,542.0 L660.6,541.2 L661.2,541.9 L661.8,542.0 L662.4,541.5 L663.0,542.5 L663.6,542.5 L664.1,542.3 L664.7,540.8 L665.3,541.4 L665.9,542.6 L666.5,540.6 L667.1,541.0 L667.7,540.5 L668.3,541.1 L668.9,541.2 L669.5,542.8 L670.1,540.9 L670.7,542.6 L671.3,541.4 L671.9,539.7 L672.5,541.1 L673.1,540.9 L673.7,541.7 L674.3,541.0 L674.9,542.4 L675.4,541.5 L676.0,540.8 L676.6,541.4 L677.2,542.2 L677.8,543.1 L678.4,541.7 L679.0,541.9 L679.6,541.5 L680.2,540.3 L680.8,542.2 L681.4,539.9 L682.0,541.7 L682.6,538.5 L683.2,539.3 L683.8,539.8 L684.4,541.1 L685.0,540.3 L685.6,540.4 L686.1,541.1 L686.7,541.2 L687.3,539.8 L687.9,540.6 L688.5,539.2 L689.1,539.8 L689.7,540.8 L690.3,540.4 L690.9,540.6 L691.5,541.8 L692.1,540.4 L692.7,541.5 L693.3,539.6 L693.9,539.8 L694.5,542.7 L695.1,540.5 L695.7,541.6 L696.3,539.1 L696.9,540.4 L697.4,539.9 L698.0,539.7 L698.6,541.1 L699.2,540.0 L699.8,539.3 L700.4,540.9 L701.0,540.0 L701.6,540.8 L702.2,538.7 L702.8,539.0 L703.4,540.6 L704.0,540.7 L704.6,539.9 L705.2,540.6 L705.8,540.7 L706.4,541.1 L707.0,539.2 L707.6,538.7 L708.2,540.2 L708.7,541.8 L709.3,541.7 L709.9,539.8 L710.5,540.6 L711.1,540.3 L711.7,539.5 L712.3,539.9 L712.9,538.3 L713.5,540.5 L714.1,538.9 L714.7,540.0 L715.3,538.8 L715.9,540.5 L716.5,539.3 L717.1,538.0 L717.7,539.6 L718.3,538.5 L718.9,539.4 L719.4,539.0 L720.0,539.4 L720.6,538.7 L721.2,540.1 L721.8,539.4 L722.4,538.6 L723.0,539.8 L723.6,538.6 L724.2,538.7 L724.8,539.1 L725.4,540.9 L726.0,537.6 L726.6,540.2 L727.2,539.1 L727.8,538.6 L728.4,537.7 L729.0,539.1 L729.6,540.0 L730.2,538.7 L730.7,537.8 L731.3,540.0 L731.9,538.8 L732.5,539.3 L733.1,538.9 L733.7,539.2 L734.3,538.7 L734.9,538.4 L735.5,536.9 L736.1,540.7 L736.7,537.7 L737.3,538.9 L737.9,539.6 L738.5,539.9 L739.1,537.4 L739.7,540.2 L740.3,537.2 L740.9,539.7 L741.5,538.1 L742.0,539.2 L742.6,539.5 L743.2,538.7 L743.8,536.6 L744.4,538.1 L745.0,538.1 L745.6,537.4 L746.2,537.3 L746.8,539.2 L747.4,538.0 L748.0,538.3 L748.6,538.5 L749.2,539.9 L749.8,537.3 L750.4,537.7 L751.0,538.8 L751.6,535.3 L752.2,539.5 L752.7,538.5 L753.3,537.9 L753.9,538.6 L754.5,537.7 L755.1,536.2 L755.7,538.5 L756.3,539.4 L756.9,538.1 L757.5,538.6 L758.1,538.2 L758.7,538.3 L759.3,537.5 L759.9,535.5 L760.5,537.5 L761.1,535.8 L761.7,537.7 L762.3,538.1 L762.9,539.3 L763.5,537.5 L764.0,537.4 L764.6,535.4 L765.2,539.1 L765.8,538.3 L766.4,538.0 L767.0,537.9 L767.6,537.9 L768.2,538.6 L768.8,538.0 L769.4,538.9 L770.0,539.0 L770.6,537.9 L771.2,537.2 L771.8,538.9 L772.4,539.9 L773.0,538.5 L773.6,538.1 L774.2,538.1 L774.8,537.0 L775.3,539.1 L775.9,538.4 L776.5,538.7 L777.1,536.6 L777.7,537.6 L778.3,537.9 L778.9,538.4 L779.5,536.7 L780.1,538.6 L780.7,536.2 L781.3,536.3 L781.9,536.7 L782.5,537.0 L783.1,537.0 L783.7,536.3 L784.3,537.0 L784.9,535.9 L785.5,537.8 L786.0,535.6 L786.6,537.0 L787.2,535.8 L787.8,536.6 L788.4,537.4 L789.0,537.0 L789.6,537.6 L790.2,536.4 L790.8,538.4 L791.4,538.4 L792.0,536.5 L792.6,536.9 L793.2,538.0 L793.8,536.6 L794.4,538.0 L795.0,536.9 L795.6,538.0 L796.2,536.2 L796.8,536.7 L797.3,536.4 L797.9,538.4 L798.5,537.5 L799.1,537.9 L799.7,537.0 L800.3,536.7 L800.9,538.1 L801.5,537.2 L802.1,536.9 L802.7,536.6 L803.3,537.3 L803.9,536.8 L804.5,535.8 L805.1,538.2 L805.7,535.9 L806.3,538.2 L806.9,536.9 L807.5,537.5 L808.0,536.7 L808.6,537.0 L809.2,535.6 L809.8,537.8 L810.4,535.3 L811.0,535.9 L811.6,535.2 L812.2,536.6 L812.8,535.0 L813.4,536.0 L814.0,535.7 L814.6,536.1 L815.2,535.7 L815.8,534.9 L816.4,536.5 L817.0,537.9 L817.6,536.1 L818.2,535.8 L818.8,537.3 L819.3,537.2 L819.9,538.1 L820.5,536.4 L821.1,537.8 L821.7,535.9 L822.3,535.7 L822.9,535.0 L823.5,535.6 L824.1,535.6 L824.7,536.8 L825.3,535.2 L825.9,538.5 L826.5,537.9 L827.1,535.1 L827.7,537.1 L828.3,537.5 L828.9,537.2 L829.5,535.9 L830.1,535.6 L830.6,536.1 L831.2,537.1 L831.8,536.8 L832.4,535.9 L833.0,536.7 L833.6,535.8 L834.2,537.2 L834.8,534.9 L835.4,535.8 L836.0,536.1 L836.6,536.4 L837.2,537.6 L837.8,534.4 L838.4,535.8 L839.0,535.4 L839.6,535.4 L840.2,534.6 L840.8,535.4 L841.4,533.7 L841.9,534.8 L842.5,535.6 L843.1,535.8 L843.7,533.1 L844.3,535.9 L844.9,535.4 L845.5,536.3 L846.1,535.2 L846.7,535.4 L847.3,534.2 L847.9,536.1 L848.5,536.4 L849.1,533.5 L849.7,537.5 L850.3,535.1 L850.9,536.6 L851.5,534.6 L852.1,535.6 L852.6,534.4 L853.2,535.4 L853.8,534.8 L854.4,536.0 L855.0,535.0 L855.6,535.0 L856.2,535.1 L856.8,534.1 L857.4,534.3 L858.0,532.8 L858.6,536.3 L859.2,534.8 L859.8,535.1 L860.4,534.7 L861.0,534.2 L861.6,533.6 L862.2,534.0 L862.8,536.1 L863.4,535.9 L863.9,535.9 L864.5,534.9 L865.1,536.1 L865.7,535.3 L866.3,536.3 L866.9,534.9 L867.5,534.7 L868.1,533.9 L868.7,535.0 L869.3,535.0 L869.9,533.9 L870.5,535.1 L871.1,533.3 L871.7,534.6 L872.3,534.0 L872.9,534.8 L873.5,534.6 L874.1,535.1 L874.7,535.1 L875.2,534.7 L875.8,534.2 L876.4,535.9 L877.0,534.4 L877.6,533.2 L878.2,534.4 L878.8,533.2 L879.4,533.4 L880.0,534.9 L880.6,534.4 L881.2,532.9 L881.8,532.9 L882.4,533.4 L883.0,533.5 L883.6,535.7 L884.2,533.7 L884.8,535.2 L885.4,533.9 L885.9,534.0 L886.5,534.2 L887.1,533.8 L887.7,534.3 L888.3,535.5 L888.9,535.1 L889.5,533.8 L890.1,532.7 L890.7,535.6 L891.3,534.3 L891.9,533.8 L892.5,534.4 L893.1,534.8 L893.7,533.5 L894.3,532.9 L894.9,534.1 L895.5,535.0 L896.1,535.5 L896.7,533.8 L897.2,533.2 L897.8,534.4 L898.4,534.2 L899.0,534.5 L899.6,532.5 L900.2,535.1 L900.8,533.5 L901.4,534.7 L902.0,533.5 L902.6,533.7 L903.2,533.1 L903.8,534.4 L904.4,535.0 L905.0,534.8 L905.6,535.0 L906.2,533.4 L906.8,534.1 L907.4,535.4 L908.0,533.7 L908.5,534.3 L909.1,535.2 L909.7,534.0 L910.3,533.5 L910.9,534.1 L911.5,533.9 L912.1,534.7 L912.7,534.8 L913.3,531.8 L913.9,534.3 L914.5,532.6 L915.1,532.8 L915.7,533.2 L916.3,535.0 L916.9,532.1 L917.5,533.7 L918.1,531.2 L918.7,533.5 L919.2,534.3 L919.8,532.3 L920.4,533.6 L921.0,532.8 L921.6,532.2 L922.2,534.0 L922.8,534.4 L923.4,533.2 L924.0,532.2 L924.6,533.1 L925.2,533.3 L925.8,531.8 L926.4,532.1 L927.0,532.9 L927.6,531.0 L928.2,533.2 L928.8,532.5 L929.4,533.8 L930.0,532.6 L930.5,532.1 L931.1,533.0 L931.7,534.2 L932.3,532.8 L932.9,533.3 L933.5,533.0 L934.1,534.4 L934.7,533.0 L935.3,533.9 L935.9,532.7 L936.5,533.4 L937.1,533.6 L937.7,533.1 L938.3,532.4 L938.9,531.6 L939.5,533.0 L940.1,532.7 L940.7,533.5 L941.2,532.9 L941.8,533.8 L942.4,532.7 L943.0,531.1 L943.6,532.4 L944.2,532.7 L944.8,532.6 L945.4,533.1 L946.0,531.8 L946.6,532.9 L947.2,533.2 L947.8,530.9 L948.4,531.6 L949.0,532.2 L949.6,533.0 L950.2,531.3 L950.8,530.8 L951.4,532.6 L952.0,532.4 L952.5,532.0 L953.1,531.2 L953.7,532.0 L954.3,532.1 L954.9,532.4 L955.5,532.9 L956.1,531.9 L956.7,532.1 L957.3,532.5 L957.9,533.1 L958.5,532.5 L959.1,532.8 L959.7,532.1 L960.3,531.3 L960.9,531.2 L961.5,530.8 L962.1,533.6 L962.7,530.8 L963.3,532.9 L963.8,531.6 L964.4,531.8 L965.0,531.2 L965.6,532.3 L966.2,530.9 L966.8,533.0 L967.4,530.4 L968.0,532.4 L968.6,529.7 L969.2,531.9 L969.8,531.7 L970.4,531.8 L971.0,531.2 L971.6,531.8 L972.2,531.9 L972.8,532.3 L973.4,531.9 L974.0,530.9 L974.5,532.3 L975.1,531.7 L975.7,532.0 L976.3,531.8 L976.9,531.2 L977.5,531.1 L978.1,532.7 L978.7,531.2 L979.3,531.6 L979.9,531.3 L980.5,529.6 L981.1,531.5 L981.7,533.0 L982.3,530.5 L982.9,532.4 L983.5,532.4 L984.1,532.4 L984.7,531.6 L985.3,533.6 L985.8,532.6 L986.4,532.8 L987.0,531.3 L987.6,531.7 L988.2,532.0 L988.8,531.9 L989.4,532.6 L990.0,532.8 L990.6,530.9 L991.2,532.1" stroke="#c8c8c8" stroke-width="6.4"/>
<path d="M158.7,576.4 L159.3,572.4 L159.9,572.9 L160.5,574.7 L161.1,573.6 L161.7,574.2 L162.3,572.1 L162.9,573.3 L163.5,571.6 L164.1,571.9 L164.6,571.4 L165.2,573.0 L165.8,571.2 L166.4,572.1 L167.0,571.6 L167.6,571.6 L168.2,572.1 L168.8,570.1 L169.4,571.3 L170.0,570.4 L170.6,571.3 L171.2,571.3 L171.8,570.6 L172.4,571.2 L173.0,569.9 L173.6,569.6 L174.2,570.9 L174.8,570.2 L175.3,568.5 L175.9,570.3 L176.5,570.4 L177.1,570.4 L177.7,568.8 L178.3,567.6 L178.9,569.6 L179.5,569.3 L180.1,568.2 L180.7,569.2 L181.3,568.3 L181.9,567.4 L182.5,567.9 L183.1,567.2 L183.7,567.7 L184.3,566.8 L184.9,567.5 L185.5,565.4 L186.1,567.2 L186.6,568.2 L187.2,566.8 L187.8,565.9 L188.4,566.8 L189.0,566.0 L189.6,565.7 L190.2,566.6 L190.8,565.6 L191.4,568.5 L192.0,564.7 L192.6,565.7 L193.2,566.9 L193.8,566.8 L194.4,565.6 L195.0,564.9 L195.6,565.1 L196.2,566.1 L196.8,567.1 L197.4,565.8 L197.9,565.2 L198.5,565.0 L199.1,565.7 L199.7,565.3 L200.3,564.1 L200.9,564.3 L201.5,564.5 L202.1,563.8 L202.7,562.7 L203.3,563.0 L203.9,561.5 L204.5,564.7 L205.1,564.2 L205.7,563.9 L206.3,562.4 L206.9,562.6 L207.5,563.8 L208.1,564.6 L208.6,562.2 L209.2,562.8 L209.8,561.9 L210.4,562.2 L211.0,560.8 L211.6,561.3 L212.2,561.3 L212.8,562.4 L213.4,561.2 L214.0,562.4 L214.6,560.5 L215.2,562.3 L215.8,561.2 L216.4,562.3 L217.0,562.2 L217.6,560.7 L218.2,560.3 L218.8,560.9 L219.4,560.8 L219.9,562.0 L220.5,560.4 L221.1,560.5 L221.7,560.3 L222.3,559.2 L222.9,561.3 L223.5,560.0 L224.1,560.1 L224.7,557.4 L225.3,560.4 L225.9,559.5 L226.5,558.4 L227.1,558.2 L227.7,559.1 L228.3,559.0 L228.9,559.4 L229.5,558.2 L230.1,559.3 L230.7,558.6 L231.2,557.8 L231.8,557.7 L232.4,555.5 L233.0,559.2 L233.6,558.5 L234.2,558.3 L234.8,556.7 L235.4,556.5 L236.0,558.6 L236.6,557.3 L237.2,558.7 L237.8,557.3 L238.4,557.2 L239.0,557.4 L239.6,557.1 L240.2,555.6 L240.8,556.7 L241.4,557.8 L241.9,556.4 L242.5,556.7 L243.1,555.3 L243.7,555.6 L244.3,555.6 L244.9,555.5 L245.5,555.0 L246.1,555.9 L246.7,554.8 L247.3,555.1 L247.9,556.7 L248.5,556.3 L249.1,553.8 L249.7,554.1 L250.3,556.2 L250.9,554.2 L251.5,555.0 L252.1,556.0 L252.7,554.8 L253.2,555.0 L253.8,555.1 L254.4,556.1 L255.0,555.1 L255.6,554.7 L256.2,554.7 L256.8,554.5 L257.4,555.1 L258.0,552.8 L258.6,555.0 L259.2,552.9 L259.8,555.7 L260.4,552.9 L261.0,554.1 L261.6,553.7 L262.2,554.8 L262.8,552.7 L263.4,554.0 L264.0,552.2 L264.5,552.3 L265.1,551.9 L265.7,551.5 L266.3,553.3 L266.9,552.0 L267.5,552.1 L268.1,552.2 L268.7,551.6 L269.3,551.1 L269.9,552.6 L270.5,552.9 L271.1,551.7 L271.7,549.7 L272.3,551.8 L272.9,550.7 L273.5,552.0 L274.1,549.9 L274.7,551.2 L275.2,550.8 L275.8,551.8 L276.4,550.0 L277.0,549.8 L277.6,549.8 L278.2,550.1 L278.8,551.5 L279.4,550.1 L280.0,550.7 L280.6,550.9 L281.2,550.8 L281.8,550.5 L282.4,548.9 L283.0,549.7 L283.6,547.3 L284.2,549.7 L284.8,549.7 L285.4,548.7 L286.0,550.0 L286.5,549.4 L287.1,550.3 L287.7,549.7 L288.3,549.3 L288.9,550.6 L289.5,549.9 L290.1,550.7 L290.7,550.4 L291.3,550.3 L291.9,549.6 L292.5,548.6 L293.1,548.9 L293.7,551.6 L294.3,549.2 L294.9,550.1 L295.5,547.6 L296.1,549.6 L296.7,550.0 L297.3,549.5 L297.8,547.7 L298.4,549.0 L299.0,548.3 L299.6,548.0 L300.2,548.1 L300.8,548.2 L301.4,547.1 L302.0,550.5 L302.6,548.1 L303.2,549.4 L303.8,548.7 L304.4,547.7 L305.0,548.5 L305.6,547.7 L306.2,548.1 L306.8,546.8 L307.4,546.7 L308.0,549.1 L308.6,547.5 L309.1,547.7 L309.7,546.0 L310.3,546.1 L310.9,546.7 L311.5,545.6 L312.1,546.0 L312.7,546.1 L313.3,546.9 L313.9,544.7 L314.5,545.9 L315.1,546.3 L315.7,544.2 L316.3,545.4 L316.9,543.6 L317.5,546.6 L318.1,544.8 L318.7,545.1 L319.3,545.7 L319.8,545.3 L320.4,545.4 L321.0,546.1 L321.6,545.6 L322.2,546.2 L322.8,546.0 L323.4,545.3 L324.0,544.8 L324.6,546.8 L325.2,546.0 L325.8,547.0 L326.4,545.2 L327.0,543.8 L327.6,545.4 L328.2,546.0 L328.8,546.0 L329.4,545.3 L330.0,545.6 L330.6,543.3 L331.1,544.5 L331.7,545.1 L332.3,544.3 L332.9,543.9 L333.5,544.1 L334.1,543.6 L334.7,544.6 L335.3,543.2 L335.9,544.7 L336.5,543.7 L337.1,545.5 L337.7,543.9 L338.3,544.3 L338.9,544.3 L339.5,543.4 L340.1,544.2 L340.7,543.3 L341.3,543.8 L341.8,542.9 L342.4,544.0 L343.0,542.7 L343.6,543.8 L344.2,543.6 L344.8,542.8 L345.4,541.6 L346.0,543.7 L346.6,544.4 L347.2,543.4 L347.8,542.9 L348.4,543.0 L349.0,542.4 L349.6,541.8 L350.2,540.9 L350.8,543.8 L351.4,541.6 L352.0,542.4 L352.6,540.5 L353.1,542.9 L353.7,542.1 L354.3,541.4 L354.9,540.9 L355.5,541.9 L356.1,543.2 L356.7,541.2 L357.3,541.7 L357.9,542.4 L358.5,541.5 L359.1,541.5 L359.7,542.0 L360.3,540.8 L360.9,541.3 L361.5,540.1 L362.1,541.5 L362.7,542.3 L363.3,541.1 L363.9,541.2 L364.4,540.3 L365.0,542.1 L365.6,541.7 L366.2,539.9 L366.8,540.7 L367.4,539.9 L368.0,539.7 L368.6,540.7 L369.2,540.5 L369.8,541.2 L370.4,539.8 L371.0,540.0 L371.6,540.4 L372.2,540.5 L372.8,539.5 L373.4,539.7 L374.0,539.9 L374.6,539.4 L375.1,539.1 L375.7,540.3 L376.3,539.9 L376.9,539.5 L377.5,538.2 L378.1,540.4 L378.7,538.2 L379.3,538.6 L379.9,539.3 L380.5,539.1 L381.1,539.0 L381.7,537.6 L382.3,538.4 L382.9,537.6 L383.5,538.9 L384.1,537.1 L384.7,537.8 L385.3,537.4 L385.9,539.1 L386.4,535.7 L387.0,537.9 L387.6,539.0 L388.2,536.4 L388.8,536.8 L389.4,537.6 L390.0,538.1 L390.6,536.0 L391.2,536.7 L391.8,537.8 L392.4,538.4 L393.0,536.7 L393.6,535.1 L394.2,537.1 L394.8,537.0 L395.4,537.6 L396.0,536.9 L396.6,537.6 L397.2,537.3 L397.7,536.8 L398.3,536.8 L398.9,536.3 L399.5,535.8 L400.1,537.7 L400.7,536.8 L401.3,537.1 L401.9,536.3 L402.5,536.5 L403.1,537.0 L403.7,535.1 L404.3,536.8 L404.9,536.7 L405.5,535.1 L406.1,536.1 L406.7,536.2 L407.3,536.2 L407.9,536.0 L408.4,536.5 L409.0,535.3 L409.6,536.0 L410.2,534.4 L410.8,534.1 L411.4,535.8 L412.0,536.5 L412.6,534.8 L413.2,534.2 L413.8,535.6 L414.4,535.0 L415.0,534.7 L415.6,534.0 L416.2,534.5 L416.8,533.6 L417.4,534.5 L418.0,533.9 L418.6,535.0 L419.2,534.9 L419.7,533.8 L420.3,534.4 L420.9,535.4 L421.5,533.7 L422.1,534.4 L422.7,532.9 L423.3,533.6 L423.9,534.8 L424.5,534.2 L425.1,534.4 L425.7,533.2 L426.3,534.7 L426.9,534.7 L427.5,533.1 L428.1,533.3 L428.7,532.0 L429.3,532.3 L429.9,531.3 L430.5,531.8 L431.0,531.4 L431.6,532.5 L432.2,534.1 L432.8,533.1 L433.4,534.2 L434.0,531.8 L434.6,531.2 L435.2,532.3 L435.8,533.3 L436.4,531.5 L437.0,531.4 L437.6,532.1 L438.2,531.4 L438.8,531.7 L439.4,531.7 L440.0,531.3 L440.6,530.7 L441.2,531.8 L441.7,532.7 L442.3,531.6 L442.9,530.5 L443.5,532.1 L444.1,531.0 L444.7,531.0 L445.3,530.8 L445.9,531.1 L446.5,530.7 L447.1,531.8 L447.7,531.9 L448.3,531.6 L448.9,532.1 L449.5,530.7 L450.1,530.5 L450.7,531.5 L451.3,528.4 L451.9,530.3 L452.5,530.5 L453.0,529.1 L453.6,528.6 L454.2,531.3 L454.8,531.9 L455.4,528.2 L456.0,529.5 L456.6,530.3 L457.2,531.1 L457.8,528.5 L458.4,528.3 L459.0,529.0 L459.6,528.4 L460.2,531.1 L460.8,529.3 L461.4,529.9 L462.0,529.2 L462.6,529.8 L463.2,529.5 L463.8,529.7 L464.3,529.8 L464.9,529.1 L465.5,529.1 L466.1,528.9 L466.7,529.0 L467.3,527.7 L467.9,527.8 L468.5,527.6 L469.1,527.9 L469.7,528.7 L470.3,528.3 L470.9,527.1 L471.5,527.3 L472.1,526.8 L472.7,526.9 L473.3,526.6 L473.9,526.5 L474.5,526.7 L475.1,527.0 L475.6,526.8 L476.2,527.6 L476.8,527.9 L477.4,525.8 L478.0,528.0 L478.6,527.1 L479.2,527.3 L479.8,527.0 L480.4,526.6 L481.0,528.0 L481.6,525.2 L482.2,524.6 L482.8,527.1 L483.4,527.7 L484.0,525.8 L484.6,526.2 L485.2,526.0 L485.8,527.2 L486.3,526.6 L486.9,526.0 L487.5,527.7 L488.1,526.8 L488.7,525.0 L489.3,525.6 L489.9,525.5 L490.5,526.7 L491.1,526.5 L491.7,525.4 L492.3,524.3 L492.9,525.5 L493.5,524.7 L494.1,525.8 L494.7,525.9 L495.3,525.6 L495.9,525.0 L496.5,524.1 L497.1,524.9 L497.6,526.3 L498.2,525.1 L498.8,524.5 L499.4,523.7 L500.0,524.3 L500.6,525.3 L501.2,523.7 L501.8,525.4 L502.4,524.5 L503.0,524.2 L503.6,523.9 L504.2,523.1 L504.8,523.7 L505.4,523.0 L506.0,523.4 L506.6,522.7 L507.2,522.6 L507.8,524.8 L508.3,523.0 L508.9,523.6 L509.5,523.4 L510.1,522.8 L510.7,522.5 L511.3,523.2 L511.9,523.5 L512.5,521.9 L513.1,523.4 L513.7,520.9 L514.3,522.9 L514.9,523.5 L515.5,523.0 L516.1,521.4 L516.7,523.4 L517.3,522.0 L517.9,519.7 L518.5,522.9 L519.1,523.0 L519.6,521.7 L520.2,519.6 L520.8,521.4 L521.4,521.6 L522.0,521.7 L522.6,523.2 L523.2,522.2 L523.8,521.1 L524.4,521.8 L525.0,520.3 L525.6,521.8 L526.2,522.2 L526.8,522.4 L527.4,518.8 L528.0,519.5 L528.6,521.1 L529.2,520.2 L529.8,519.3 L530.4,520.2 L530.9,519.6 L531.5,521.1 L532.1,521.4 L532.7,519.4 L533.3,520.5 L533.9,518.5 L534.5,520.4 L535.1,518.4 L535.7,519.9 L536.3,519.9 L536.9,519.9 L537.5,519.9 L538.1,519.8 L538.7,519.3 L539.3,519.8 L539.9,519.9 L540.5,520.3 L541.1,519.9 L541.7,520.4 L542.2,519.2 L542.8,520.5 L543.4,520.3 L544.0,519.9 L544.6,519.7 L545.2,518.8 L545.8,519.3 L546.4,519.4 L547.0,519.6 L547.6,519.3 L548.2,519.7 L548.8,518.1 L549.4,519.0 L550.0,520.0 L550.6,519.0 L551.2,518.4 L551.8,517.8 L552.4,518.2 L552.9,517.4 L553.5,520.0 L554.1,517.1 L554.7,518.8 L555.3,518.3 L555.9,517.8 L556.5,520.1 L557.1,516.9 L557.7,518.7 L558.3,517.4 L558.9,517.7 L559.5,517.3 L560.1,516.6 L560.7,517.6 L561.3,516.7 L561.9,516.5 L562.5,517.3 L563.1,515.9 L563.7,516.4 L564.2,517.4 L564.8,516.0 L565.4,515.7 L566.0,515.2 L566.6,517.9 L567.2,515.7 L567.8,515.9 L568.4,517.5 L569.0,517.0 L569.6,515.7 L570.2,516.1 L570.8,514.8 L571.4,516.6 L572.0,515.0 L572.6,516.7 L573.2,517.2 L573.8,515.4 L574.4,514.9 L575.0,515.5 L575.5,515.4 L576.1,515.1 L576.7,514.9 L577.3,516.0 L577.9,515.5 L578.5,514.5 L579.1,515.7 L579.7,515.2 L580.3,516.5 L580.9,516.2 L581.5,515.7 L582.1,515.2 L582.7,515.0 L583.3,515.4 L583.9,516.2 L584.5,512.5 L585.1,515.5 L585.7,515.0 L586.2,515.9 L586.8,513.8 L587.4,514.5 L588.0,514.3 L588.6,514.5 L589.2,515.2 L589.8,516.3 L590.4,515.6 L591.0,513.6 L591.6,514.1 L592.2,514.7 L592.8,514.0 L593.4,514.9 L594.0,514.1 L594.6,514.7 L595.2,515.1 L595.8,514.1 L596.4,514.0 L597.0,514.6 L597.5,515.3 L598.1,514.1 L598.7,513.7 L599.3,514.4 L599.9,514.1 L600.5,514.3 L601.1,514.8 L601.7,516.1 L602.3,513.1 L602.9,513.8 L603.5,513.0 L604.1,512.9 L604.7,514.4 L605.3,515.8 L605.9,513.1 L606.5,514.3 L607.1,513.7 L607.7,513.6 L608.2,514.4 L608.8,512.2 L609.4,511.9 L610.0,512.5 L610.6,513.9 L611.2,513.1 L611.8,513.2 L612.4,510.6 L613.0,512.3 L613.6,511.3 L614.2,512.7 L614.8,512.0 L615.4,510.4 L616.0,511.0 L616.6,510.5 L617.2,512.7 L617.8,512.2 L618.4,511.3 L619.0,511.9 L619.5,511.3 L620.1,510.6 L620.7,510.9 L621.3,510.6 L621.9,512.2 L622.5,511.4 L623.1,511.5 L623.7,512.0 L624.3,509.9 L624.9,511.3 L625.5,509.7 L626.1,510.8 L626.7,509.4 L627.3,510.2 L627.9,512.2 L628.5,510.3 L629.1,509.9 L629.7,510.6 L630.3,509.7 L630.8,510.6 L631.4,509.5 L632.0,510.3 L632.6,508.3 L633.2,508.1 L633.8,511.4 L634.4,509.8 L635.0,509.7 L635.6,507.6 L636.2,508.1 L636.8,509.5 L637.4,509.9 L638.0,508.8 L638.6,508.9 L639.2,508.3 L639.8,509.3 L640.4,507.5 L641.0,508.9 L641.5,511.4 L642.1,510.7 L642.7,507.3 L643.3,507.8 L643.9,509.6 L644.5,506.7 L645.1,509.1 L645.7,510.1 L646.3,507.7 L646.9,508.2 L647.5,506.8 L648.1,508.7 L648.7,507.5 L649.3,507.7 L649.9,508.3 L650.5,508.5 L651.1,506.9 L651.7,507.4 L652.3,507.3 L652.8,509.4 L653.4,508.3 L654.0,506.6 L654.6,508.7 L655.2,507.1 L655.8,506.7 L656.4,507.8 L657.0,504.8 L657.6,508.2 L658.2,507.9 L658.8,507.3 L659.4,507.0 L660.0,506.4 L660.6,507.7 L661.2,505.7 L661.8,507.0 L662.4,505.2 L663.0,505.4 L663.6,505.7 L664.1,508.0 L664.7,504.8 L665.3,505.5 L665.9,505.1 L666.5,505.5 L667.1,505.3 L667.7,506.9 L668.3,506.9 L668.9,506.0 L669.5,506.4 L670.1,505.5 L670.7,504.2 L671.3,505.9 L671.9,505.9 L672.5,506.3 L673.1,503.4 L673.7,506.5 L674.3,504.7 L674.9,506.6 L675.4,504.8 L676.0,504.3 L676.6,505.0 L677.2,504.9 L677.8,504.9 L678.4,505.0 L679.0,505.5 L679.6,506.6 L680.2,505.3 L680.8,504.7 L681.4,504.3 L682.0,504.9 L682.6,505.9 L683.2,504.7 L683.8,506.1 L684.4,505.1 L685.0,505.2 L685.6,504.9 L686.1,504.2 L686.7,505.7 L687.3,504.3 L687.9,505.9 L688.5,505.3 L689.1,504.6 L689.7,505.2 L690.3,505.2 L690.9,505.7 L691.5,503.7 L692.1,506.2 L692.7,505.1 L693.3,505.7 L693.9,504.9 L694.5,504.7 L695.1,505.5 L695.7,504.8 L696.3,504.8 L696.9,504.7 L697.4,504.0 L698.0,504.6 L698.6,505.4 L699.2,503.9 L699.8,504.2 L700.4,504.0 L701.0,503.6 L701.6,503.4 L702.2,504.4 L702.8,503.6 L703.4,503.9 L704.0,504.6 L704.6,505.2 L705.2,504.8 L705.8,504.6 L706.4,503.2 L707.0,503.9 L707.6,503.4 L708.2,504.3 L708.7,503.6 L709.3,503.5 L709.9,502.8 L710.5,504.6 L711.1,503.4 L711.7,501.8 L712.3,502.6 L712.9,503.0 L713.5,505.1 L714.1,504.2 L714.7,503.4 L715.3,504.0 L715.9,503.1 L716.5,503.5 L717.1,503.4 L717.7,503.2 L718.3,503.5 L718.9,503.0 L719.4,502.3 L720.0,501.8 L720.6,503.8 L721.2,503.4 L721.8,502.1 L722.4,503.0 L723.0,502.4 L723.6,503.4 L724.2,501.0 L724.8,503.0 L725.4,503.3 L726.0,502.8 L726.6,503.2 L727.2,502.5 L727.8,502.8 L728.4,503.5 L729.0,502.7 L729.6,501.9 L730.2,503.1 L730.7,503.4 L731.3,502.8 L731.9,503.1 L732.5,502.6 L733.1,502.4 L733.7,501.3 L734.3,502.3 L734.9,501.4 L735.5,499.8 L736.1,500.8 L736.7,501.3 L737.3,502.2 L737.9,501.8 L738.5,501.1 L739.1,502.2 L739.7,501.1 L740.3,501.1 L740.9,501.8 L741.5,501.4 L742.0,501.9 L742.6,501.0 L743.2,499.6 L743.8,500.9 L744.4,501.1 L745.0,501.8 L745.6,499.6 L746.2,501.5 L746.8,500.7 L747.4,501.3 L748.0,500.9 L748.6,499.8 L749.2,500.5 L749.8,501.0 L750.4,499.8 L751.0,500.3 L751.6,500.9 L752.2,502.9 L752.7,501.2 L753.3,500.6 L753.9,501.3 L754.5,499.6 L755.1,501.9 L755.7,500.3 L756.3,502.5 L756.9,501.4 L757.5,499.1 L758.1,498.9 L758.7,500.1 L759.3,499.6 L759.9,500.1 L760.5,498.5 L761.1,498.4 L761.7,500.3 L762.3,500.4 L762.9,500.0 L763.5,500.3 L764.0,499.1 L764.6,500.5 L765.2,500.7 L765.8,499.9 L766.4,499.4 L767.0,499.3 L767.6,501.6 L768.2,499.9 L768.8,500.5 L769.4,500.9 L770.0,499.6 L770.6,499.7 L771.2,500.0 L771.8,499.2 L772.4,499.4 L773.0,499.7 L773.6,498.8 L774.2,499.3 L774.8,498.5 L775.3,499.2 L775.9,500.0 L776.5,499.0 L777.1,497.9 L777.7,499.1 L778.3,499.1 L778.9,500.2 L779.5,499.2 L780.1,499.3 L780.7,499.1 L781.3,499.1 L781.9,499.6 L782.5,499.5 L783.1,500.0 L783.7,497.8 L784.3,499.9 L784.9,499.5 L785.5,499.3 L786.0,497.8 L786.6,499.2 L787.2,500.4 L787.8,497.8 L788.4,498.3 L789.0,497.4 L789.6,498.3 L790.2,498.1 L790.8,500.0 L791.4,497.5 L792.0,498.5 L792.6,496.8 L793.2,498.8 L793.8,499.1 L794.4,499.0 L795.0,498.1 L795.6,498.5 L796.2,499.5 L796.8,498.6 L797.3,498.1 L797.9,497.3 L798.5,499.2 L799.1,498.1 L799.7,498.0 L800.3,497.9 L800.9,496.6 L801.5,497.9 L802.1,498.3 L802.7,498.9 L803.3,498.5 L803.9,498.3 L804.5,498.2 L805.1,496.5 L805.7,496.6 L806.3,498.0 L806.9,496.8 L807.5,496.7 L808.0,496.5 L808.6,496.7 L809.2,498.5 L809.8,498.5 L810.4,497.2 L811.0,496.8 L811.6,497.6 L812.2,497.3 L812.8,496.7 L813.4,496.8 L814.0,497.0 L814.6,496.9 L815.2,497.4 L815.8,498.3 L816.4,498.2 L817.0,497.9 L817.6,497.9 L818.2,498.4 L818.8,496.7 L819.3,497.0 L819.9,496.8 L820.5,497.1 L821.1,496.4 L821.7,495.0 L822.3,495.9 L822.9,496.2 L823.5,494.7 L824.1,496.7 L824.7,494.9 L825.3,495.5 L825.9,496.3 L826.5,497.0 L827.1,496.6 L827.7,495.7 L828.3,496.7 L828.9,496.8 L829.5,496.6 L830.1,496.0 L830.6,494.7 L831.2,495.2 L831.8,494.7 L832.4,497.0 L833.0,496.7 L833.6,496.1 L834.2,496.3 L834.8,495.4 L835.4,496.1 L836.0,495.4 L836.6,496.8 L837.2,495.4 L837.8,494.5 L838.4,495.3 L839.0,496.3 L839.6,495.6 L840.2,495.9 L840.8,496.2 L841.4,494.8 L841.9,496.8 L842.5,495.8 L843.1,494.8 L843.7,495.8 L844.3,495.1 L844.9,494.9 L845.5,496.4 L846.1,496.0 L846.7,497.2 L847.3,494.1 L847.9,494.6 L848.5,495.9 L849.1,495.5 L849.7,495.6 L850.3,492.5 L850.9,495.0 L851.5,494.0 L852.1,494.6 L852.6,495.1 L853.2,494.5 L853.8,494.8 L854.4,497.3 L855.0,495.2 L855.6,494.9 L856.2,493.6 L856.8,495.3 L857.4,493.5 L858.0,495.5 L858.6,495.4 L859.2,496.5 L859.8,493.1 L860.4,495.0 L861.0,495.2 L861.6,494.4 L862.2,494.7 L862.8,494.5 L863.4,493.1 L863.9,494.5 L864.5,493.7 L865.1,494.6 L865.7,494.6 L866.3,492.9 L866.9,493.6 L867.5,494.4 L868.1,492.3 L868.7,495.2 L869.3,495.3 L869.9,493.6 L870.5,493.2 L871.1,493.2 L871.7,494.0 L872.3,494.8 L872.9,494.0 L873.5,496.0 L874.1,493.2 L874.7,494.4 L875.2,496.2 L875.8,494.0 L876.4,493.9 L877.0,494.8 L877.6,493.4 L878.2,494.0 L878.8,493.1 L879.4,494.7 L880.0,493.6 L880.6,493.2 L881.2,495.9 L881.8,492.4 L882.4,492.7 L883.0,492.8 L883.6,494.4 L884.2,491.5 L884.8,492.6 L885.4,490.8 L885.9,493.7 L886.5,492.5 L887.1,491.9 L887.7,493.1 L888.3,493.5 L888.9,493.3 L889.5,490.4 L890.1,491.7 L890.7,493.5 L891.3,493.7 L891.9,490.8 L892.5,491.3 L893.1,492.3 L893.7,492.8 L894.3,492.4 L894.9,491.7 L895.5,491.1 L896.1,492.0 L896.7,491.8 L897.2,491.2 L897.8,491.4 L898.4,493.1 L899.0,490.6 L899.6,493.4 L900.2,492.3 L900.8,491.3 L901.4,493.4 L902.0,490.8 L902.6,492.4 L903.2,493.7 L903.8,492.8 L904.4,493.8 L905.0,492.5 L905.6,494.1 L906.2,491.7 L906.8,492.5 L907.4,492.7 L908.0,492.6 L908.5,491.3 L909.1,492.7 L909.7,492.4 L910.3,492.8 L910.9,491.5 L911.5,491.1 L912.1,492.4 L912.7,490.4 L913.3,492.0 L913.9,492.2 L914.5,491.9 L915.1,491.9 L915.7,490.8 L916.3,490.5 L916.9,489.3 L917.5,491.4 L918.1,492.5 L918.7,491.6 L919.2,490.9 L919.8,492.0 L920.4,491.4 L921.0,490.9 L921.6,490.7 L922.2,492.4 L922.8,491.4 L923.4,490.8 L924.0,491.1 L924.6,490.4 L925.2,491.1 L925.8,490.8 L926.4,490.4 L927.0,490.6 L927.6,490.1 L928.2,490.1 L928.8,490.8 L929.4,491.4 L930.0,489.2 L930.5,490.9 L931.1,489.8 L931.7,489.5 L932.3,490.9 L932.9,491.7 L933.5,490.1 L934.1,490.2 L934.7,491.5 L935.3,490.2 L935.9,489.5 L936.5,489.1 L937.1,489.7 L937.7,490.5 L938.3,489.4 L938.9,490.6 L939.5,490.5 L940.1,489.5 L940.7,489.6 L941.2,489.9 L941.8,490.7 L942.4,489.8 L943.0,490.1 L943.6,490.0 L944.2,489.7 L944.8,489.9 L945.4,490.8 L946.0,491.1 L946.6,489.3 L947.2,489.5 L947.8,489.3 L948.4,489.8 L949.0,489.0 L949.6,490.4 L950.2,489.2 L950.8,489.8 L951.4,489.3 L952.0,489.0 L952.5,490.1 L953.1,489.5 L953.7,491.2 L954.3,489.4 L954.9,488.6 L955.5,488.8 L956.1,489.1 L956.7,487.9 L957.3,488.8 L957.9,488.2 L958.5,488.8 L959.1,490.3 L959.7,489.5 L960.3,488.7 L960.9,489.0 L961.5,488.4 L962.1,488.7 L962.7,488.5 L963.3,490.4 L963.8,488.5 L964.4,488.5 L965.0,488.1 L965.6,488.6 L966.2,488.4 L966.8,488.3 L967.4,487.9 L968.0,490.6 L968.6,489.5 L969.2,489.9 L969.8,489.1 L970.4,488.8 L971.0,488.7 L971.6,488.8 L972.2,490.3 L972.8,488.3 L973.4,488.4 L974.0,487.9 L974.5,489.0 L975.1,486.6 L975.7,488.2 L976.3,488.4 L976.9,487.2 L977.5,487.7 L978.1,487.4 L978.7,486.6 L979.3,486.2 L979.9,489.2 L980.5,489.4 L981.1,486.6 L981.7,489.1 L982.3,487.9 L982.9,487.2 L983.5,488.6 L984.1,487.5 L984.7,487.5 L985.3,488.6 L985.8,488.3 L986.4,489.2 L987.0,488.8 L987.6,488.3 L988.2,486.8 L988.8,487.4 L989.4,487.1 L990.0,489.1 L990.6,487.3 L991.2,488.2" stroke="#b4b4b4" stroke-width="6.4"/>
<path d="M158.7,574.9 L159.3,571.6 L159.9,571.8 L160.5,573.1 L161.1,572.9 L161.7,571.3 L162.3,572.7 L162.9,572.2 L163.5,570.6 L164.1,568.8 L164.6,571.5 L165.2,569.9 L165.8,570.4 L166.4,571.2 L167.0,571.8 L167.6,569.6 L168.2,570.5 L168.8,570.1 L169.4,568.7 L170.0,570.4 L170.6,568.9 L171.2,569.0 L171.8,569.6 L172.4,568.5 L173.0,569.3 L173.6,568.2 L174.2,568.2 L174.8,568.2 L175.3,568.1 L175.9,567.0 L176.5,567.8 L177.1,567.0 L177.7,566.1 L178.3,566.4 L178.9,566.3 L179.5,568.8 L180.1,566.5 L180.7,566.4 L181.3,566.0 L181.9,565.8 L182.5,563.9 L183.1,566.0 L183.7,565.0 L184.3,567.0 L184.9,566.3 L185.5,564.4 L186.1,563.2 L186.6,564.8 L187.2,564.3 L187.8,565.0 L188.4,563.1 L189.0,563.6 L189.6,563.6 L190.2,563.3 L190.8,562.8 L191.4,562.4 L192.0,562.2 L192.6,563.5 L193.2,561.0 L193.8,562.7 L194.4,560.7 L195.0,561.4 L195.6,560.7 L196.2,560.3 L196.8,561.4 L197.4,560.6 L197.9,561.0 L198.5,561.4 L199.1,558.3 L199.7,558.8 L200.3,557.9 L200.9,559.6 L201.5,560.3 L202.1,560.5 L202.7,559.2 L203.3,558.9 L203.9,559.0 L204.5,558.8 L205.1,559.3 L205.7,557.5 L206.3,557.0 L206.9,557.5 L207.5,556.7 L208.1,556.3 L208.6,558.1 L209.2,555.5 L209.8,555.4 L210.4,555.5 L211.0,555.5 L211.6,554.9 L212.2,556.6 L212.8,556.6 L213.4,555.3 L214.0,555.6 L214.6,555.5 L215.2,556.1 L215.8,556.6 L216.4,554.3 L217.0,554.1 L217.6,554.5 L218.2,554.6 L218.8,555.5 L219.4,552.6 L219.9,553.2 L220.5,554.3 L221.1,553.5 L221.7,553.9 L222.3,552.1 L222.9,554.5 L223.5,553.5 L224.1,553.5 L224.7,552.2 L225.3,553.0 L225.9,552.5 L226.5,551.3 L227.1,552.1 L227.7,552.7 L228.3,552.5 L228.9,550.3 L229.5,551.6 L230.1,551.5 L230.7,549.7 L231.2,551.8 L231.8,550.5 L232.4,550.2 L233.0,549.8 L233.6,551.5 L234.2,549.0 L234.8,550.2 L235.4,550.5 L236.0,549.2 L236.6,551.4 L237.2,550.3 L237.8,549.7 L238.4,549.6 L239.0,549.3 L239.6,549.0 L240.2,547.5 L240.8,549.0 L241.4,549.8 L241.9,551.5 L242.5,546.2 L243.1,549.1 L243.7,548.4 L244.3,549.0 L244.9,547.2 L245.5,547.1 L246.1,547.3 L246.7,546.2 L247.3,545.7 L247.9,546.4 L248.5,545.9 L249.1,545.5 L249.7,546.1 L250.3,546.9 L250.9,544.4 L251.5,546.2 L252.1,546.5 L252.7,545.0 L253.2,545.0 L253.8,544.3 L254.4,543.9 L255.0,544.7 L255.6,546.7 L256.2,545.2 L256.8,545.3 L257.4,546.1 L258.0,544.6 L258.6,544.7 L259.2,545.7 L259.8,542.7 L260.4,544.3 L261.0,543.4 L261.6,544.7 L262.2,543.1 L262.8,544.3 L263.4,543.9 L264.0,543.3 L264.5,542.1 L265.1,543.3 L265.7,542.0 L266.3,544.0 L266.9,543.7 L267.5,541.5 L268.1,543.7 L268.7,542.6 L269.3,543.4 L269.9,542.9 L270.5,542.9 L271.1,541.8 L271.7,542.1 L272.3,541.7 L272.9,541.9 L273.5,543.2 L274.1,541.9 L274.7,541.5 L275.2,540.9 L275.8,542.8 L276.4,541.7 L277.0,540.2 L277.6,540.1 L278.2,540.3 L278.8,539.8 L279.4,541.1 L280.0,540.2 L280.6,540.2 L281.2,539.3 L281.8,539.8 L282.4,539.2 L283.0,538.8 L283.6,539.0 L284.2,538.5 L284.8,539.2 L285.4,541.0 L286.0,538.4 L286.5,538.6 L287.1,539.6 L287.7,539.8 L288.3,541.0 L288.9,536.9 L289.5,538.7 L290.1,539.0 L290.7,538.8 L291.3,539.3 L291.9,538.2 L292.5,537.4 L293.1,537.8 L293.7,538.2 L294.3,537.6 L294.9,537.4 L295.5,537.8 L296.1,537.1 L296.7,537.0 L297.3,538.4 L297.8,538.1 L298.4,537.5 L299.0,537.0 L299.6,535.0 L300.2,536.8 L300.8,536.8 L301.4,537.0 L302.0,536.2 L302.6,536.7 L303.2,536.2 L303.8,536.9 L304.4,535.5 L305.0,535.0 L305.6,535.5 L306.2,535.9 L306.8,537.4 L307.4,534.7 L308.0,532.7 L308.6,535.5 L309.1,536.6 L309.7,536.3 L310.3,536.4 L310.9,535.3 L311.5,535.2 L312.1,535.4 L312.7,535.5 L313.3,535.4 L313.9,533.8 L314.5,534.6 L315.1,535.7 L315.7,535.6 L316.3,533.0 L316.9,534.7 L317.5,534.9 L318.1,533.6 L318.7,534.3 L319.3,534.7 L319.8,534.1 L320.4,533.0 L321.0,534.0 L321.6,536.0 L322.2,533.0 L322.8,533.1 L323.4,533.0 L324.0,532.8 L324.6,532.4 L325.2,531.2 L325.8,533.8 L326.4,532.0 L327.0,532.2 L327.6,530.8 L328.2,533.2 L328.8,530.7 L329.4,532.1 L330.0,532.5 L330.6,531.3 L331.1,533.6 L331.7,531.2 L332.3,531.5 L332.9,532.4 L333.5,531.8 L334.1,530.8 L334.7,530.5 L335.3,531.8 L335.9,530.4 L336.5,529.7 L337.1,531.4 L337.7,531.3 L338.3,531.0 L338.9,533.0 L339.5,532.1 L340.1,531.0 L340.7,531.6 L341.3,532.3 L341.8,530.2 L342.4,530.1 L343.0,531.0 L343.6,529.9 L344.2,530.8 L344.8,529.9 L345.4,531.0 L346.0,528.9 L346.6,530.3 L347.2,530.2 L347.8,528.3 L348.4,529.6 L349.0,528.2 L349.6,527.7 L350.2,528.5 L350.8,527.2 L351.4,530.3 L352.0,527.6 L352.6,526.9 L353.1,527.3 L353.7,528.4 L354.3,527.0 L354.9,527.0 L355.5,526.1 L356.1,527.3 L356.7,527.0 L357.3,526.3 L357.9,528.7 L358.5,526.5 L359.1,526.7 L359.7,526.2 L360.3,527.3 L360.9,527.4 L361.5,526.1 L362.1,525.4 L362.7,527.7 L363.3,525.2 L363.9,525.9 L364.4,527.0 L365.0,526.4 L365.6,525.6 L366.2,526.4 L366.8,525.7 L367.4,526.5 L368.0,524.3 L368.6,524.8 L369.2,525.8 L369.8,525.1 L370.4,524.4 L371.0,526.0 L371.6,525.5 L372.2,526.4 L372.8,525.2 L373.4,524.6 L374.0,524.2 L374.6,524.9 L375.1,524.3 L375.7,524.6 L376.3,524.3 L376.9,523.8 L377.5,523.5 L378.1,523.2 L378.7,523.7 L379.3,523.5 L379.9,522.5 L380.5,522.9 L381.1,522.3 L381.7,523.1 L382.3,522.9 L382.9,522.2 L383.5,523.5 L384.1,521.2 L384.7,522.4 L385.3,523.0 L385.9,522.2 L386.4,523.1 L387.0,522.2 L387.6,523.0 L388.2,522.3 L388.8,523.3 L389.4,524.9 L390.0,521.3 L390.6,523.5 L391.2,519.7 L391.8,523.3 L392.4,522.5 L393.0,522.5 L393.6,521.5 L394.2,521.4 L394.8,520.0 L395.4,520.3 L396.0,521.3 L396.6,520.1 L397.2,520.9 L397.7,519.5 L398.3,519.3 L398.9,520.4 L399.5,520.7 L400.1,521.4 L400.7,521.4 L401.3,520.0 L401.9,521.0 L402.5,519.1 L403.1,519.9 L403.7,518.8 L404.3,519.6 L404.9,519.8 L405.5,519.1 L406.1,518.9 L406.7,518.6 L407.3,518.3 L407.9,519.3 L408.4,518.8 L409.0,519.2 L409.6,520.2 L410.2,518.1 L410.8,520.0 L411.4,518.0 L412.0,519.9 L412.6,519.1 L413.2,518.2 L413.8,519.1 L414.4,519.1 L415.0,516.5 L415.6,518.8 L416.2,518.0 L416.8,518.8 L417.4,517.9 L418.0,517.3 L418.6,517.5 L419.2,518.5 L419.7,518.4 L420.3,517.3 L420.9,518.2 L421.5,516.2 L422.1,518.1 L422.7,517.3 L423.3,517.2 L423.9,516.8 L424.5,517.2 L425.1,517.5 L425.7,516.5 L426.3,516.7 L426.9,517.1 L427.5,515.7 L428.1,515.6 L428.7,516.3 L429.3,515.9 L429.9,515.8 L430.5,515.8 L431.0,515.6 L431.6,513.8 L432.2,514.6 L432.8,514.4 L433.4,516.0 L434.0,514.6 L434.6,514.9 L435.2,515.3 L435.8,513.5 L436.4,515.2 L437.0,515.3 L437.6,514.6 L438.2,514.4 L438.8,514.4 L439.4,514.0 L440.0,513.9 L440.6,513.3 L441.2,513.7 L441.7,513.6 L442.3,513.6 L442.9,514.3 L443.5,513.8 L444.1,513.5 L444.7,513.5 L445.3,511.1 L445.9,513.0 L446.5,511.0 L447.1,512.3 L447.7,514.1 L448.3,511.1 L448.9,511.6 L449.5,512.4 L450.1,511.6 L450.7,513.2 L451.3,513.0 L451.9,511.1 L452.5,510.4 L453.0,510.0 L453.6,512.1 L454.2,511.1 L454.8,512.0 L455.4,512.0 L456.0,511.8 L456.6,511.7 L457.2,512.0 L457.8,511.7 L458.4,511.8 L459.0,510.6 L459.6,509.7 L460.2,511.4 L460.8,509.7 L461.4,510.0 L462.0,510.2 L462.6,510.1 L463.2,509.1 L463.8,510.1 L464.3,510.1 L464.9,508.5 L465.5,508.0 L466.1,511.6 L466.7,508.3 L467.3,509.2 L467.9,511.8 L468.5,507.5 L469.1,508.1 L469.7,508.9 L470.3,509.7 L470.9,509.4 L471.5,508.8 L472.1,509.3 L472.7,507.8 L473.3,507.7 L473.9,508.9 L474.5,508.0 L475.1,507.8 L475.6,508.1 L476.2,507.4 L476.8,505.2 L477.4,506.7 L478.0,508.8 L478.6,506.9 L479.2,508.4 L479.8,507.5 L480.4,506.9 L481.0,507.7 L481.6,508.2 L482.2,507.4 L482.8,507.4 L483.4,508.3 L484.0,506.4 L484.6,506.3 L485.2,508.1 L485.8,506.7 L486.3,507.1 L486.9,506.0 L487.5,507.4 L488.1,506.7 L488.7,505.6 L489.3,504.7 L489.9,505.3 L490.5,507.1 L491.1,506.1 L491.7,504.7 L492.3,504.3 L492.9,504.8 L493.5,504.6 L494.1,504.6 L494.7,503.2 L495.3,503.9 L495.9,505.0 L496.5,504.7 L497.1,503.9 L497.6,504.6 L498.2,503.7 L498.8,504.9 L499.4,502.7 L500.0,504.0 L500.6,503.7 L501.2,502.8 L501.8,503.9 L502.4,504.4 L503.0,503.2 L503.6,503.0 L504.2,502.7 L504.8,503.1 L505.4,504.0 L506.0,501.0 L506.6,502.0 L507.2,502.6 L507.8,502.8 L508.3,502.6 L508.9,503.3 L509.5,503.5 L510.1,504.0 L510.7,501.4 L511.3,503.3 L511.9,503.1 L512.5,501.7 L513.1,504.1 L513.7,501.6 L514.3,502.6 L514.9,502.5 L515.5,503.1 L516.1,502.8 L516.7,502.2 L517.3,501.3 L517.9,502.8 L518.5,503.7 L519.1,502.4 L519.6,502.6 L520.2,501.7 L520.8,501.3 L521.4,501.2 L522.0,501.4 L522.6,500.6 L523.2,502.3 L523.8,502.4 L524.4,501.5 L525.0,500.6 L525.6,500.1 L526.2,501.2 L526.8,498.8 L527.4,500.9 L528.0,499.1 L528.6,500.6 L529.2,500.3 L529.8,501.4 L530.4,501.4 L530.9,499.4 L531.5,500.3 L532.1,498.4 L532.7,499.9 L533.3,499.9 L533.9,499.7 L534.5,498.8 L535.1,497.8 L535.7,498.1 L536.3,498.6 L536.9,498.6 L537.5,499.0 L538.1,498.4 L538.7,497.6 L539.3,498.5 L539.9,497.5 L540.5,499.1 L541.1,498.1 L541.7,498.6 L542.2,498.7 L542.8,496.2 L543.4,497.3 L544.0,497.9 L544.6,498.0 L545.2,497.3 L545.8,497.3 L546.4,498.6 L547.0,496.2 L547.6,497.1 L548.2,497.7 L548.8,497.4 L549.4,496.9 L550.0,496.8 L550.6,495.8 L551.2,496.5 L551.8,495.9 L552.4,496.4 L552.9,496.1 L553.5,496.9 L554.1,497.0 L554.7,496.0 L555.3,495.8 L555.9,496.4 L556.5,496.6 L557.1,497.0 L557.7,495.0 L558.3,496.2 L558.9,493.4 L559.5,494.1 L560.1,495.9 L560.7,494.6 L561.3,495.4 L561.9,495.7 L562.5,495.4 L563.1,494.5 L563.7,493.8 L564.2,494.8 L564.8,494.7 L565.4,494.1 L566.0,492.5 L566.6,492.0 L567.2,495.8 L567.8,494.4 L568.4,495.2 L569.0,495.1 L569.6,494.5 L570.2,494.6 L570.8,494.3 L571.4,495.1 L572.0,494.4 L572.6,493.9 L573.2,493.3 L573.8,492.5 L574.4,494.1 L575.0,494.2 L575.5,496.1 L576.1,494.1 L576.7,493.7 L577.3,493.4 L577.9,493.6 L578.5,493.9 L579.1,492.5 L579.7,492.4 L580.3,493.6 L580.9,491.6 L581.5,492.7 L582.1,492.6 L582.7,491.6 L583.3,490.9 L583.9,492.0 L584.5,492.4 L585.1,490.9 L585.7,492.5 L586.2,492.0 L586.8,491.7 L587.4,491.0 L588.0,491.9 L588.6,491.6 L589.2,490.6 L589.8,489.3 L590.4,491.9 L591.0,491.6 L591.6,491.1 L592.2,491.9 L592.8,491.7 L593.4,491.0 L594.0,491.0 L594.6,490.5 L595.2,490.9 L595.8,488.9 L596.4,490.2 L597.0,489.1 L597.5,489.5 L598.1,489.4 L598.7,488.6 L599.3,489.0 L599.9,488.7 L600.5,490.3 L601.1,490.3 L601.7,490.4 L602.3,488.7 L602.9,490.8 L603.5,489.1 L604.1,490.4 L604.7,489.2 L605.3,489.1 L605.9,488.8 L606.5,488.6 L607.1,489.6 L607.7,488.9 L608.2,489.7 L608.8,488.5 L609.4,488.7 L610.0,487.9 L610.6,487.8 L611.2,487.6 L611.8,487.9 L612.4,488.5 L613.0,487.1 L613.6,487.9 L614.2,488.5 L614.8,487.7 L615.4,486.5 L616.0,487.0 L616.6,484.7 L617.2,488.0 L617.8,485.8 L618.4,487.5 L619.0,487.8 L619.5,488.7 L620.1,486.5 L620.7,485.5 L621.3,487.8 L621.9,486.9 L622.5,487.2 L623.1,485.5 L623.7,488.0 L624.3,487.6 L624.9,488.2 L625.5,485.1 L626.1,485.2 L626.7,485.9 L627.3,485.9 L627.9,486.3 L628.5,485.7 L629.1,486.0 L629.7,485.5 L630.3,486.1 L630.8,486.3 L631.4,486.4 L632.0,485.4 L632.6,484.1 L633.2,485.6 L633.8,486.1 L634.4,485.8 L635.0,485.0 L635.6,483.5 L636.2,484.5 L636.8,486.1 L637.4,484.8 L638.0,484.2 L638.6,483.0 L639.2,483.6 L639.8,483.6 L640.4,485.2 L641.0,482.9 L641.5,485.1 L642.1,483.8 L642.7,483.8 L643.3,483.2 L643.9,484.1 L644.5,482.0 L645.1,484.0 L645.7,483.6 L646.3,481.8 L646.9,483.7 L647.5,482.7 L648.1,484.2 L648.7,482.0 L649.3,482.3 L649.9,484.2 L650.5,482.6 L651.1,481.9 L651.7,483.4 L652.3,482.8 L652.8,482.1 L653.4,483.5 L654.0,481.3 L654.6,481.9 L655.2,482.9 L655.8,482.3 L656.4,481.2 L657.0,481.7 L657.6,483.0 L658.2,481.4 L658.8,481.9 L659.4,481.5 L660.0,481.2 L660.6,481.8 L661.2,479.5 L661.8,480.7 L662.4,479.8 L663.0,480.1 L663.6,481.3 L664.1,481.0 L664.7,481.4 L665.3,479.2 L665.9,481.8 L666.5,481.4 L667.1,480.3 L667.7,481.9 L668.3,481.3 L668.9,481.4 L669.5,480.1 L670.1,481.2 L670.7,482.0 L671.3,480.9 L671.9,478.9 L672.5,479.7 L673.1,480.4 L673.7,480.1 L674.3,481.1 L674.9,480.0 L675.4,480.7 L676.0,479.7 L676.6,480.1 L677.2,480.4 L677.8,481.0 L678.4,481.3 L679.0,478.9 L679.6,477.6 L680.2,480.5 L680.8,480.2 L681.4,478.4 L682.0,480.0 L682.6,478.3 L683.2,478.7 L683.8,480.0 L684.4,476.7 L685.0,479.0 L685.6,478.2 L686.1,477.9 L686.7,477.8 L687.3,478.5 L687.9,477.4 L688.5,477.6 L689.1,478.9 L689.7,476.7 L690.3,477.1 L690.9,478.8 L691.5,478.5 L692.1,476.8 L692.7,477.2 L693.3,477.0 L693.9,476.8 L694.5,476.9 L695.1,476.7 L695.7,477.0 L696.3,477.3 L696.9,475.5 L697.4,478.0 L698.0,477.9 L698.6,477.2 L699.2,476.6 L699.8,478.3 L700.4,477.1 L701.0,476.8 L701.6,477.3 L702.2,477.7 L702.8,476.4 L703.4,475.3 L704.0,476.9 L704.6,476.7 L705.2,474.9 L705.8,474.4 L706.4,476.5 L707.0,475.6 L707.6,473.7 L708.2,475.6 L708.7,475.8 L709.3,474.6 L709.9,475.7 L710.5,475.8 L711.1,475.4 L711.7,476.2 L712.3,476.8 L712.9,475.6 L713.5,474.6 L714.1,474.5 L714.7,474.8 L715.3,474.9 L715.9,475.1 L716.5,473.8 L717.1,472.3 L717.7,473.3 L718.3,474.3 L718.9,473.8 L719.4,472.8 L720.0,475.4 L720.6,474.0 L721.2,475.4 L721.8,475.3 L722.4,476.6 L723.0,474.2 L723.6,474.6 L724.2,475.5 L724.8,474.6 L725.4,473.1 L726.0,475.0 L726.6,473.7 L727.2,472.3 L727.8,472.6 L728.4,472.1 L729.0,476.1 L729.6,473.6 L730.2,473.6 L730.7,475.3 L731.3,474.0 L731.9,473.5 L732.5,475.6 L733.1,474.7 L733.7,474.3 L734.3,472.2 L734.9,472.8 L735.5,473.3 L736.1,473.8 L736.7,473.7 L737.3,473.2 L737.9,472.5 L738.5,473.1 L739.1,473.2 L739.7,473.4 L740.3,474.7 L740.9,473.8 L741.5,472.2 L742.0,472.5 L742.6,473.1 L743.2,472.4 L743.8,472.9 L744.4,472.5 L745.0,473.0 L745.6,472.6 L746.2,472.1 L746.8,472.5 L747.4,472.2 L748.0,471.7 L748.6,471.5 L749.2,473.6 L749.8,472.4 L750.4,471.6 L751.0,471.6 L751.6,472.5 L752.2,471.1 L752.7,473.4 L753.3,471.6 L753.9,472.9 L754.5,470.6 L755.1,472.1 L755.7,472.1 L756.3,472.4 L756.9,471.9 L757.5,469.4 L758.1,470.2 L758.7,469.4 L759.3,470.9 L759.9,469.8 L760.5,470.5 L761.1,470.7 L761.7,469.5 L762.3,470.8 L762.9,471.2 L763.5,469.9 L764.0,471.4 L764.6,471.7 L765.2,471.0 L765.8,471.0 L766.4,470.4 L767.0,469.4 L767.6,470.4 L768.2,469.6 L768.8,469.9 L769.4,469.1 L770.0,469.4 L770.6,470.7 L771.2,470.5 L771.8,469.7 L772.4,470.1 L773.0,472.2 L773.6,469.9 L774.2,471.0 L774.8,469.7 L775.3,470.0 L775.9,469.0 L776.5,470.0 L777.1,470.3 L777.7,471.2 L778.3,470.4 L778.9,470.0 L779.5,470.2 L780.1,468.7 L780.7,470.3 L781.3,470.4 L781.9,469.1 L782.5,469.6 L783.1,470.1 L783.7,469.2 L784.3,469.1 L784.9,469.2 L785.5,469.6 L786.0,468.9 L786.6,469.2 L787.2,469.5 L787.8,469.1 L788.4,468.5 L789.0,468.7 L789.6,469.9 L790.2,468.0 L790.8,469.0 L791.4,468.2 L792.0,467.9 L792.6,466.9 L793.2,468.0 L793.8,466.5 L794.4,467.9 L795.0,468.5 L795.6,468.5 L796.2,468.3 L796.8,468.0 L797.3,468.1 L797.9,467.9 L798.5,467.2 L799.1,466.2 L799.7,468.6 L800.3,467.2 L800.9,466.5 L801.5,466.9 L802.1,467.1 L802.7,466.7 L803.3,467.6 L803.9,466.6 L804.5,466.0 L805.1,466.2 L805.7,466.5 L806.3,468.8 L806.9,468.1 L807.5,467.4 L808.0,467.4 L808.6,467.4 L809.2,467.4 L809.8,467.7 L810.4,467.0 L811.0,466.2 L811.6,465.0 L812.2,465.9 L812.8,467.1 L813.4,466.8 L814.0,467.2 L814.6,465.2 L815.2,465.6 L815.8,466.6 L816.4,466.7 L817.0,465.4 L817.6,465.6 L818.2,466.3 L818.8,465.3 L819.3,464.9 L819.9,467.7 L820.5,465.9 L821.1,465.8 L821.7,466.7 L822.3,466.5 L822.9,466.7 L823.5,466.7 L824.1,466.9 L824.7,468.6 L825.3,466.2 L825.9,467.2 L826.5,465.1 L827.1,465.9 L827.7,465.5 L828.3,466.6 L828.9,467.6 L829.5,465.0 L830.1,467.1 L830.6,466.0 L831.2,465.7 L831.8,466.3 L832.4,464.8 L833.0,466.6 L833.6,466.3 L834.2,466.2 L834.8,466.1 L835.4,465.0 L836.0,465.5 L836.6,465.4 L837.2,464.5 L837.8,464.6 L838.4,464.8 L839.0,464.2 L839.6,464.5 L840.2,463.9 L840.8,463.2 L841.4,464.9 L841.9,464.7 L842.5,465.0 L843.1,464.8 L843.7,464.0 L844.3,463.2 L844.9,465.3 L845.5,466.1 L846.1,463.5 L846.7,465.3 L847.3,465.2 L847.9,464.5 L848.5,465.4 L849.1,464.8 L849.7,464.7 L850.3,463.4 L850.9,463.1 L851.5,462.0 L852.1,463.3 L852.6,461.9 L853.2,463.0 L853.8,462.7 L854.4,464.4 L855.0,461.1 L855.6,462.6 L856.2,463.2 L856.8,463.8 L857.4,464.0 L858.0,463.3 L858.6,462.9 L859.2,463.4 L859.8,463.2 L860.4,464.9 L861.0,462.8 L861.6,464.2 L862.2,463.1 L862.8,462.8 L863.4,463.8 L863.9,463.8 L864.5,462.7 L865.1,463.3 L865.7,465.2 L866.3,464.3 L866.9,462.0 L867.5,463.1 L868.1,463.9 L868.7,463.4 L869.3,463.3 L869.9,461.9 L870.5,462.8 L871.1,462.8 L871.7,461.7 L872.3,462.2 L872.9,461.8 L873.5,462.3 L874.1,463.1 L874.7,461.1 L875.2,462.4 L875.8,462.5 L876.4,463.1 L877.0,461.3 L877.6,461.7 L878.2,461.5 L878.8,461.4 L879.4,461.2 L880.0,461.6 L880.6,460.9 L881.2,461.5 L881.8,461.9 L882.4,461.9 L883.0,461.1 L883.6,459.7 L884.2,461.4 L884.8,460.0 L885.4,460.1 L885.9,462.1 L886.5,460.6 L887.1,461.2 L887.7,461.4 L888.3,460.8 L888.9,461.8 L889.5,459.7 L890.1,461.2 L890.7,460.5 L891.3,461.0 L891.9,460.1 L892.5,460.3 L893.1,461.8 L893.7,459.3 L894.3,461.2 L894.9,461.8 L895.5,460.3 L896.1,459.9 L896.7,459.8 L897.2,460.2 L897.8,459.9 L898.4,460.8 L899.0,460.1 L899.6,459.6 L900.2,460.6 L900.8,461.0 L901.4,460.1 L902.0,460.7 L902.6,460.3 L903.2,460.8 L903.8,460.8 L904.4,460.9 L905.0,460.6 L905.6,461.8 L906.2,462.9 L906.8,461.1 L907.4,461.5 L908.0,461.6 L908.5,459.9 L909.1,460.1 L909.7,461.3 L910.3,458.5 L910.9,459.2 L911.5,459.6 L912.1,459.9 L912.7,460.0 L913.3,460.3 L913.9,461.1 L914.5,459.6 L915.1,459.0 L915.7,460.2 L916.3,459.5 L916.9,459.1 L917.5,460.5 L918.1,458.2 L918.7,459.9 L919.2,460.2 L919.8,459.9 L920.4,459.5 L921.0,459.3 L921.6,459.2 L922.2,458.7 L922.8,460.4 L923.4,459.0 L924.0,460.4 L924.6,459.0 L925.2,459.5 L925.8,460.7 L926.4,459.7 L927.0,458.9 L927.6,458.8 L928.2,457.0 L928.8,458.6 L929.4,457.6 L930.0,460.0 L930.5,458.7 L931.1,459.2 L931.7,457.5 L932.3,459.5 L932.9,459.3 L933.5,458.2 L934.1,457.7 L934.7,458.6 L935.3,458.3 L935.9,457.4 L936.5,459.8 L937.1,458.2 L937.7,459.3 L938.3,459.8 L938.9,459.9 L939.5,459.4 L940.1,458.4 L940.7,457.2 L941.2,458.0 L941.8,457.9 L942.4,459.5 L943.0,458.5 L943.6,458.7 L944.2,457.5 L944.8,459.9 L945.4,457.9 L946.0,458.9 L946.6,458.3 L947.2,457.3 L947.8,457.1 L948.4,458.3 L949.0,458.4 L949.6,457.8 L950.2,457.6 L950.8,459.3 L951.4,459.6 L952.0,457.1 L952.5,458.5 L953.1,457.1 L953.7,458.4 L954.3,458.9 L954.9,458.6 L955.5,457.9 L956.1,458.3 L956.7,459.0 L957.3,458.2 L957.9,458.5 L958.5,458.0 L959.1,456.5 L959.7,458.0 L960.3,457.1 L960.9,457.1 L961.5,457.8 L962.1,457.6 L962.7,456.2 L963.3,457.4 L963.8,458.3 L964.4,456.4 L965.0,459.6 L965.6,457.4 L966.2,459.5 L966.8,458.6 L967.4,457.6 L968.0,456.9 L968.6,457.3 L969.2,457.7 L969.8,458.7 L970.4,457.8 L971.0,458.9 L971.6,458.0 L972.2,458.0 L972.8,457.7 L973.4,457.1 L974.0,459.3 L974.5,456.8 L975.1,458.3 L975.7,457.1 L976.3,458.8 L976.9,458.0 L977.5,457.6 L978.1,459.2 L978.7,457.5 L979.3,457.0 L979.9,457.1 L980.5,457.3 L981.1,458.1 L981.7,460.8 L982.3,458.2 L982.9,458.6 L983.5,457.5 L984.1,456.2 L984.7,457.4 L985.3,457.7 L985.8,457.2 L986.4,458.1 L987.0,458.6 L987.6,457.2 L988.2,458.9 L988.8,457.1 L989.4,456.4 L990.0,455.9 L990.6,457.6 L991.2,457.9" stroke="#a0a0a0" stroke-width="6.4"/>
<path d="M158.7,573.2 L159.3,572.3 L159.9,572.7 L160.5,572.6 L161.1,572.5 L161.7,573.9 L162.3,573.1 L162.9,570.1 L163.5,571.8 L164.1,570.9 L164.6,570.2 L165.2,570.9 L165.8,570.6 L166.4,569.2 L167.0,570.6 L167.6,569.0 L168.2,568.4 L168.8,567.8 L169.4,566.4 L170.0,568.1 L170.6,567.6 L171.2,566.5 L171.8,566.9 L172.4,565.9 L173.0,567.1 L173.6,566.1 L174.2,564.8 L174.8,564.5 L175.3,566.1 L175.9,564.6 L176.5,565.4 L177.1,565.4 L177.7,565.2 L178.3,563.9 L178.9,564.2 L179.5,563.9 L180.1,562.0 L180.7,564.4 L181.3,562.3 L181.9,562.3 L182.5,561.9 L183.1,561.9 L183.7,561.8 L184.3,560.9 L184.9,560.9 L185.5,561.0 L186.1,558.9 L186.6,561.2 L187.2,559.7 L187.8,560.2 L188.4,559.2 L189.0,558.7 L189.6,557.7 L190.2,558.4 L190.8,558.6 L191.4,559.0 L192.0,556.5 L192.6,557.1 L193.2,557.3 L193.8,557.3 L194.4,556.6 L195.0,556.0 L195.6,555.4 L196.2,555.6 L196.8,554.4 L197.4,553.1 L197.9,555.6 L198.5,553.1 L199.1,554.5 L199.7,553.6 L200.3,552.6 L200.9,553.4 L201.5,552.3 L202.1,553.2 L202.7,552.0 L203.3,551.9 L203.9,551.6 L204.5,552.3 L205.1,551.5 L205.7,550.7 L206.3,550.2 L206.9,551.6 L207.5,551.4 L208.1,550.2 L208.6,550.0 L209.2,549.4 L209.8,548.5 L210.4,549.0 L211.0,550.1 L211.6,549.6 L212.2,548.3 L212.8,546.6 L213.4,547.9 L214.0,548.5 L214.6,547.2 L215.2,546.2 L215.8,545.1 L216.4,547.7 L217.0,545.3 L217.6,545.6 L218.2,546.3 L218.8,545.6 L219.4,545.2 L219.9,544.2 L220.5,545.5 L221.1,545.5 L221.7,544.7 L222.3,543.5 L222.9,543.9 L223.5,543.9 L224.1,543.7 L224.7,542.7 L225.3,542.4 L225.9,543.2 L226.5,541.6 L227.1,541.1 L227.7,540.5 L228.3,540.5 L228.9,540.5 L229.5,542.0 L230.1,539.3 L230.7,541.8 L231.2,540.2 L231.8,539.3 L232.4,540.5 L233.0,540.2 L233.6,540.1 L234.2,539.3 L234.8,539.4 L235.4,538.5 L236.0,539.6 L236.6,536.7 L237.2,538.9 L237.8,538.2 L238.4,536.7 L239.0,536.2 L239.6,538.7 L240.2,537.3 L240.8,536.7 L241.4,537.0 L241.9,533.8 L242.5,535.4 L243.1,534.3 L243.7,536.2 L244.3,535.2 L244.9,534.8 L245.5,535.4 L246.1,534.4 L246.7,535.7 L247.3,534.1 L247.9,535.1 L248.5,535.7 L249.1,532.7 L249.7,532.2 L250.3,533.2 L250.9,532.5 L251.5,533.9 L252.1,532.6 L252.7,532.0 L253.2,532.2 L253.8,531.6 L254.4,532.7 L255.0,531.9 L255.6,532.1 L256.2,531.4 L256.8,531.3 L257.4,530.4 L258.0,531.0 L258.6,532.5 L259.2,528.9 L259.8,530.1 L260.4,529.5 L261.0,529.8 L261.6,528.9 L262.2,529.7 L262.8,529.7 L263.4,526.7 L264.0,527.2 L264.5,529.4 L265.1,529.3 L265.7,527.1 L266.3,526.5 L266.9,527.3 L267.5,527.3 L268.1,525.0 L268.7,525.8 L269.3,525.8 L269.9,525.2 L270.5,527.4 L271.1,525.3 L271.7,526.8 L272.3,524.6 L272.9,526.0 L273.5,526.3 L274.1,522.0 L274.7,523.5 L275.2,524.2 L275.8,525.0 L276.4,522.9 L277.0,522.4 L277.6,523.2 L278.2,522.5 L278.8,522.5 L279.4,524.4 L280.0,524.0 L280.6,521.4 L281.2,521.5 L281.8,522.3 L282.4,522.9 L283.0,521.6 L283.6,519.8 L284.2,520.8 L284.8,520.8 L285.4,519.9 L286.0,520.5 L286.5,519.5 L287.1,521.8 L287.7,519.7 L288.3,521.2 L288.9,519.9 L289.5,519.0 L290.1,518.4 L290.7,519.1 L291.3,520.2 L291.9,518.8 L292.5,518.4 L293.1,518.0 L293.7,518.3 L294.3,517.5 L294.9,518.2 L295.5,517.8 L296.1,517.3 L296.7,515.3 L297.3,516.4 L297.8,516.7 L298.4,517.0 L299.0,515.8 L299.6,516.4 L300.2,516.1 L300.8,516.3 L301.4,516.1 L302.0,513.8 L302.6,516.5 L303.2,514.6 L303.8,514.0 L304.4,514.2 L305.0,514.0 L305.6,514.7 L306.2,513.3 L306.8,514.1 L307.4,514.6 L308.0,513.8 L308.6,513.4 L309.1,514.7 L309.7,512.1 L310.3,513.5 L310.9,513.0 L311.5,511.8 L312.1,511.2 L312.7,512.8 L313.3,512.8 L313.9,512.3 L314.5,513.1 L315.1,513.0 L315.7,511.2 L316.3,510.6 L316.9,511.7 L317.5,511.0 L318.1,511.5 L318.7,510.0 L319.3,510.8 L319.8,511.0 L320.4,509.7 L321.0,510.2 L321.6,509.5 L322.2,509.1 L322.8,509.3 L323.4,511.2 L324.0,508.7 L324.6,509.2 L325.2,509.6 L325.8,508.3 L326.4,509.8 L327.0,511.3 L327.6,506.9 L328.2,509.0 L328.8,508.4 L329.4,507.0 L330.0,508.6 L330.6,509.0 L331.1,507.3 L331.7,507.1 L332.3,506.7 L332.9,505.6 L333.5,507.1 L334.1,505.5 L334.7,507.9 L335.3,506.2 L335.9,504.4 L336.5,505.8 L337.1,505.2 L337.7,505.5 L338.3,504.9 L338.9,504.4 L339.5,504.2 L340.1,504.5 L340.7,505.5 L341.3,504.1 L341.8,505.6 L342.4,503.7 L343.0,504.3 L343.6,504.1 L344.2,505.3 L344.8,503.6 L345.4,503.5 L346.0,504.8 L346.6,503.0 L347.2,504.0 L347.8,502.9 L348.4,502.4 L349.0,502.1 L349.6,502.7 L350.2,504.2 L350.8,502.3 L351.4,501.9 L352.0,502.0 L352.6,502.1 L353.1,502.1 L353.7,500.9 L354.3,501.2 L354.9,500.7 L355.5,500.9 L356.1,500.3 L356.7,500.3 L357.3,501.0 L357.9,499.2 L358.5,499.7 L359.1,498.9 L359.7,498.7 L360.3,497.5 L360.9,499.6 L361.5,497.9 L362.1,498.1 L362.7,498.9 L363.3,497.4 L363.9,497.0 L364.4,498.7 L365.0,498.2 L365.6,498.2 L366.2,498.2 L366.8,498.3 L367.4,497.3 L368.0,496.9 L368.6,497.5 L369.2,496.6 L369.8,496.3 L370.4,496.0 L371.0,496.6 L371.6,496.0 L372.2,496.2 L372.8,496.9 L373.4,496.1 L374.0,495.4 L374.6,496.4 L375.1,495.5 L375.7,495.2 L376.3,495.0 L376.9,494.0 L377.5,494.4 L378.1,495.2 L378.7,493.7 L379.3,493.6 L379.9,492.2 L380.5,493.9 L381.1,492.4 L381.7,492.4 L382.3,493.1 L382.9,492.8 L383.5,492.9 L384.1,492.0 L384.7,491.4 L385.3,492.8 L385.9,492.0 L386.4,491.8 L387.0,491.9 L387.6,490.0 L388.2,492.7 L388.8,492.2 L389.4,490.3 L390.0,490.8 L390.6,488.8 L391.2,490.2 L391.8,488.5 L392.4,489.6 L393.0,488.6 L393.6,489.4 L394.2,490.3 L394.8,490.4 L395.4,488.9 L396.0,488.0 L396.6,487.9 L397.2,488.3 L397.7,488.9 L398.3,489.2 L398.9,488.7 L399.5,488.4 L400.1,487.7 L400.7,487.4 L401.3,487.4 L401.9,485.2 L402.5,487.6 L403.1,488.1 L403.7,485.9 L404.3,487.3 L404.9,485.0 L405.5,486.7 L406.1,485.0 L406.7,484.9 L407.3,484.3 L407.9,483.2 L408.4,485.2 L409.0,485.5 L409.6,485.3 L410.2,484.1 L410.8,482.8 L411.4,484.5 L412.0,482.4 L412.6,483.3 L413.2,482.9 L413.8,482.6 L414.4,481.5 L415.0,482.7 L415.6,482.8 L416.2,484.0 L416.8,481.9 L417.4,482.3 L418.0,483.0 L418.6,483.4 L419.2,481.7 L419.7,482.3 L420.3,481.9 L420.9,481.7 L421.5,480.4 L422.1,482.1 L422.7,480.6 L423.3,480.6 L423.9,481.4 L424.5,480.1 L425.1,480.1 L425.7,481.8 L426.3,478.9 L426.9,480.5 L427.5,478.8 L428.1,480.1 L428.7,479.2 L429.3,478.6 L429.9,478.3 L430.5,478.4 L431.0,477.2 L431.6,476.8 L432.2,476.4 L432.8,477.1 L433.4,477.6 L434.0,476.7 L434.6,478.3 L435.2,476.9 L435.8,477.5 L436.4,476.5 L437.0,476.4 L437.6,475.9 L438.2,475.9 L438.8,477.0 L439.4,476.9 L440.0,476.8 L440.6,476.3 L441.2,474.7 L441.7,476.2 L442.3,475.8 L442.9,475.0 L443.5,475.9 L444.1,474.8 L444.7,475.1 L445.3,474.7 L445.9,476.5 L446.5,475.5 L447.1,474.4 L447.7,473.8 L448.3,474.3 L448.9,472.8 L449.5,471.8 L450.1,474.5 L450.7,474.4 L451.3,474.3 L451.9,473.5 L452.5,471.8 L453.0,474.4 L453.6,472.4 L454.2,471.4 L454.8,471.2 L455.4,471.5 L456.0,473.4 L456.6,471.8 L457.2,471.8 L457.8,470.0 L458.4,473.2 L459.0,470.5 L459.6,470.9 L460.2,470.0 L460.8,469.9 L461.4,471.5 L462.0,469.7 L462.6,470.7 L463.2,470.7 L463.8,469.7 L464.3,468.5 L464.9,469.7 L465.5,468.6 L466.1,468.8 L466.7,468.1 L467.3,469.1 L467.9,467.9 L468.5,468.3 L469.1,468.0 L469.7,469.8 L470.3,468.0 L470.9,468.6 L471.5,469.3 L472.1,466.8 L472.7,467.6 L473.3,467.7 L473.9,466.7 L474.5,467.8 L475.1,467.8 L475.6,466.6 L476.2,468.5 L476.8,466.6 L477.4,465.5 L478.0,466.0 L478.6,467.6 L479.2,465.9 L479.8,465.1 L480.4,465.4 L481.0,466.1 L481.6,467.0 L482.2,464.3 L482.8,464.9 L483.4,465.5 L484.0,463.4 L484.6,465.0 L485.2,465.1 L485.8,464.0 L486.3,465.2 L486.9,463.8 L487.5,463.3 L488.1,464.1 L488.7,463.5 L489.3,462.6 L489.9,462.5 L490.5,463.4 L491.1,462.4 L491.7,462.6 L492.3,461.7 L492.9,461.6 L493.5,462.8 L494.1,464.2 L494.7,462.3 L495.3,461.0 L495.9,462.1 L496.5,460.6 L497.1,463.0 L497.6,460.9 L498.2,462.2 L498.8,461.1 L499.4,462.7 L500.0,460.4 L500.6,461.2 L501.2,460.6 L501.8,460.4 L502.4,461.4 L503.0,458.6 L503.6,458.8 L504.2,459.5 L504.8,460.5 L505.4,459.6 L506.0,459.7 L506.6,459.2 L507.2,459.8 L507.8,458.8 L508.3,458.4 L508.9,459.4 L509.5,458.5 L510.1,459.0 L510.7,460.3 L511.3,456.9 L511.9,457.4 L512.5,457.6 L513.1,457.0 L513.7,458.3 L514.3,457.2 L514.9,457.2 L515.5,456.6 L516.1,456.5 L516.7,457.0 L517.3,456.2 L517.9,457.8 L518.5,458.0 L519.1,457.1 L519.6,457.1 L520.2,458.0 L520.8,455.6 L521.4,457.5 L522.0,456.3 L522.6,456.2 L523.2,454.5 L523.8,456.2 L524.4,455.2 L525.0,455.8 L525.6,455.7 L526.2,454.4 L526.8,454.3 L527.4,453.7 L528.0,455.1 L528.6,453.1 L529.2,453.0 L529.8,453.9 L530.4,453.1 L530.9,452.7 L531.5,452.7 L532.1,452.2 L532.7,452.0 L533.3,452.5 L533.9,451.7 L534.5,452.5 L535.1,451.6 L535.7,450.6 L536.3,451.1 L536.9,454.0 L537.5,453.4 L538.1,452.3 L538.7,451.3 L539.3,452.0 L539.9,451.5 L540.5,451.3 L541.1,452.1 L541.7,451.4 L542.2,450.8 L542.8,451.8 L543.4,450.9 L544.0,451.4 L544.6,451.6 L545.2,451.2 L545.8,451.9 L546.4,450.9 L547.0,449.0 L547.6,451.3 L548.2,449.3 L548.8,448.8 L549.4,450.9 L550.0,449.2 L550.6,449.2 L551.2,448.8 L551.8,450.2 L552.4,448.2 L552.9,447.5 L553.5,447.2 L554.1,448.7 L554.7,446.8 L555.3,448.2 L555.9,446.9 L556.5,447.6 L557.1,448.0 L557.7,448.4 L558.3,447.7 L558.9,448.8 L559.5,448.0 L560.1,446.6 L560.7,448.1 L561.3,445.9 L561.9,446.7 L562.5,446.9 L563.1,444.3 L563.7,445.9 L564.2,447.7 L564.8,445.8 L565.4,445.4 L566.0,445.9 L566.6,445.6 L567.2,445.8 L567.8,445.8 L568.4,446.6 L569.0,445.9 L569.6,444.0 L570.2,444.8 L570.8,444.9 L571.4,443.7 L572.0,444.6 L572.6,443.7 L573.2,444.6 L573.8,442.5 L574.4,443.3 L575.0,443.7 L575.5,443.8 L576.1,443.8 L576.7,442.1 L577.3,442.4 L577.9,442.9 L578.5,442.7 L579.1,442.4 L579.7,441.4 L580.3,442.7 L580.9,442.9 L581.5,442.9 L582.1,441.0 L582.7,440.1 L583.3,440.7 L583.9,441.7 L584.5,441.0 L585.1,440.7 L585.7,440.1 L586.2,439.9 L586.8,440.0 L587.4,441.0 L588.0,437.9 L588.6,439.2 L589.2,438.4 L589.8,439.4 L590.4,439.1 L591.0,440.3 L591.6,439.4 L592.2,439.4 L592.8,439.1 L593.4,439.9 L594.0,439.5 L594.6,439.4 L595.2,439.0 L595.8,437.8 L596.4,438.0 L597.0,437.8 L597.5,437.3 L598.1,438.1 L598.7,437.7 L599.3,436.8 L599.9,438.0 L600.5,438.6 L601.1,437.8 L601.7,438.2 L602.3,437.2 L602.9,437.2 L603.5,438.2 L604.1,436.5 L604.7,437.2 L605.3,438.0 L605.9,435.2 L606.5,437.7 L607.1,436.6 L607.7,435.8 L608.2,435.9 L608.8,435.8 L609.4,436.7 L610.0,436.0 L610.6,435.0 L611.2,435.7 L611.8,434.0 L612.4,435.5 L613.0,435.9 L613.6,434.3 L614.2,433.9 L614.8,432.8 L615.4,435.4 L616.0,434.2 L616.6,433.9 L617.2,432.6 L617.8,432.9 L618.4,431.7 L619.0,432.8 L619.5,434.1 L620.1,433.3 L620.7,433.5 L621.3,433.2 L621.9,432.5 L622.5,433.7 L623.1,433.6 L623.7,432.6 L624.3,433.4 L624.9,431.0 L625.5,432.5 L626.1,433.7 L626.7,433.6 L627.3,434.2 L627.9,432.9 L628.5,432.7 L629.1,433.2 L629.7,432.7 L630.3,433.1 L630.8,432.8 L631.4,430.8 L632.0,432.1 L632.6,433.4 L633.2,431.5 L633.8,430.7 L634.4,429.5 L635.0,429.6 L635.6,431.0 L636.2,430.8 L636.8,428.4 L637.4,429.9 L638.0,430.6 L638.6,430.4 L639.2,431.3 L639.8,430.3 L640.4,430.1 L641.0,428.7 L641.5,431.2 L642.1,429.5 L642.7,430.9 L643.3,429.9 L643.9,429.9 L644.5,428.8 L645.1,429.9 L645.7,429.6 L646.3,430.0 L646.9,429.9 L647.5,429.5 L648.1,430.3 L648.7,431.1 L649.3,428.5 L649.9,428.7 L650.5,428.7 L651.1,429.0 L651.7,427.4 L652.3,429.1 L652.8,428.5 L653.4,428.7 L654.0,427.5 L654.6,427.5 L655.2,429.2 L655.8,427.3 L656.4,428.3 L657.0,427.6 L657.6,427.5 L658.2,427.8 L658.8,427.7 L659.4,427.3 L660.0,426.7 L660.6,426.6 L661.2,425.6 L661.8,427.1 L662.4,425.6 L663.0,427.2 L663.6,425.9 L664.1,426.7 L664.7,425.7 L665.3,426.6 L665.9,426.7 L666.5,424.7 L667.1,427.0 L667.7,425.1 L668.3,424.3 L668.9,426.6 L669.5,426.5 L670.1,426.7 L670.7,425.0 L671.3,425.3 L671.9,425.8 L672.5,426.4 L673.1,426.3 L673.7,425.2 L674.3,424.4 L674.9,424.3 L675.4,423.7 L676.0,424.0 L676.6,425.0 L677.2,424.3 L677.8,423.2 L678.4,423.8 L679.0,423.3 L679.6,422.7 L680.2,423.8 L680.8,422.2 L681.4,422.9 L682.0,423.5 L682.6,423.2 L683.2,423.7 L683.8,422.6 L684.4,424.1 L685.0,424.0 L685.6,423.7 L686.1,422.6 L686.7,423.7 L687.3,421.0 L687.9,423.2 L688.5,422.7 L689.1,421.6 L689.7,423.0 L690.3,421.5 L690.9,422.2 L691.5,422.6 L692.1,423.1 L692.7,423.4 L693.3,422.0 L693.9,424.1 L694.5,422.9 L695.1,422.5 L695.7,422.6 L696.3,421.7 L696.9,422.0 L697.4,422.8 L698.0,420.2 L698.6,421.3 L699.2,423.3 L699.8,422.4 L700.4,420.1 L701.0,422.8 L701.6,421.8 L702.2,421.4 L702.8,421.4 L703.4,421.4 L704.0,422.0 L704.6,420.6 L705.2,420.8 L705.8,421.4 L706.4,420.1 L707.0,419.6 L707.6,422.6 L708.2,420.2 L708.7,419.0 L709.3,419.5 L709.9,419.7 L710.5,420.2 L711.1,419.3 L711.7,420.9 L712.3,418.5 L712.9,419.5 L713.5,418.5 L714.1,418.6 L714.7,416.1 L715.3,420.1 L715.9,418.3 L716.5,419.8 L717.1,421.0 L717.7,418.0 L718.3,419.4 L718.9,418.5 L719.4,418.7 L720.0,417.8 L720.6,418.2 L721.2,418.1 L721.8,417.7 L722.4,419.0 L723.0,417.4 L723.6,418.0 L724.2,417.4 L724.8,416.5 L725.4,417.3 L726.0,416.8 L726.6,417.1 L727.2,416.4 L727.8,417.8 L728.4,416.4 L729.0,416.8 L729.6,416.1 L730.2,416.8 L730.7,416.1 L731.3,416.4 L731.9,418.2 L732.5,415.6 L733.1,416.7 L733.7,414.8 L734.3,417.2 L734.9,416.3 L735.5,415.7 L736.1,415.6 L736.7,415.9 L737.3,415.6 L737.9,415.1 L738.5,416.8 L739.1,417.3 L739.7,416.5 L740.3,416.7 L740.9,415.4 L741.5,414.6 L742.0,415.2 L742.6,416.5 L743.2,414.5 L743.8,416.5 L744.4,416.0 L745.0,414.9 L745.6,414.8 L746.2,413.9 L746.8,416.8 L747.4,414.7 L748.0,415.4 L748.6,416.1 L749.2,414.8 L749.8,415.7 L750.4,415.9 L751.0,414.6 L751.6,416.7 L752.2,414.5 L752.7,415.4 L753.3,414.7 L753.9,412.5 L754.5,413.6 L755.1,415.5 L755.7,411.9 L756.3,413.8 L756.9,412.7 L757.5,414.2 L758.1,415.1 L758.7,412.5 L759.3,413.8 L759.9,414.1 L760.5,413.4 L761.1,415.0 L761.7,412.8 L762.3,414.0 L762.9,411.8 L763.5,414.0 L764.0,413.7 L764.6,414.7 L765.2,412.7 L765.8,412.2 L766.4,412.3 L767.0,412.0 L767.6,412.4 L768.2,410.8 L768.8,413.5 L769.4,411.4 L770.0,414.2 L770.6,412.4 L771.2,411.5 L771.8,411.9 L772.4,411.9 L773.0,411.9 L773.6,413.9 L774.2,412.6 L774.8,410.9 L775.3,413.3 L775.9,412.6 L776.5,412.3 L777.1,411.3 L777.7,411.6 L778.3,411.1 L778.9,412.2 L779.5,411.8 L780.1,412.5 L780.7,411.0 L781.3,412.2 L781.9,410.7 L782.5,411.2 L783.1,409.5 L783.7,411.6 L784.3,409.8 L784.9,410.6 L785.5,410.7 L786.0,409.6 L786.6,410.0 L787.2,410.8 L787.8,410.2 L788.4,410.5 L789.0,410.7 L789.6,410.7 L790.2,411.0 L790.8,409.8 L791.4,409.7 L792.0,410.3 L792.6,409.2 L793.2,409.4 L793.8,410.8 L794.4,409.1 L795.0,409.7 L795.6,408.0 L796.2,409.1 L796.8,408.3 L797.3,409.9 L797.9,409.5 L798.5,410.6 L799.1,408.4 L799.7,408.2 L800.3,410.5 L800.9,410.3 L801.5,409.7 L802.1,409.5 L802.7,409.3 L803.3,408.7 L803.9,408.6 L804.5,408.2 L805.1,408.1 L805.7,408.7 L806.3,407.0 L806.9,408.4 L807.5,407.7 L808.0,407.6 L808.6,407.4 L809.2,408.5 L809.8,408.6 L810.4,407.2 L811.0,406.2 L811.6,407.0 L812.2,407.6 L812.8,408.5 L813.4,406.5 L814.0,407.7 L814.6,406.7 L815.2,407.8 L815.8,406.4 L816.4,408.1 L817.0,407.3 L817.6,408.1 L818.2,407.7 L818.8,406.1 L819.3,406.8 L819.9,406.6 L820.5,407.0 L821.1,405.4 L821.7,406.4 L822.3,407.3 L822.9,406.2 L823.5,406.6 L824.1,406.4 L824.7,405.3 L825.3,405.9 L825.9,406.6 L826.5,405.8 L827.1,406.5 L827.7,406.8 L828.3,406.2 L828.9,405.2 L829.5,405.8 L830.1,406.5 L830.6,404.4 L831.2,406.8 L831.8,407.2 L832.4,405.1 L833.0,405.7 L833.6,407.3 L834.2,405.5 L834.8,405.9 L835.4,405.4 L836.0,406.5 L836.6,404.5 L837.2,406.1 L837.8,405.2 L838.4,404.7 L839.0,406.7 L839.6,405.2 L840.2,406.3 L840.8,404.6 L841.4,405.7 L841.9,405.6 L842.5,404.3 L843.1,403.9 L843.7,403.6 L844.3,404.8 L844.9,404.6 L845.5,405.3 L846.1,405.2 L846.7,403.5 L847.3,405.2 L847.9,405.6 L848.5,405.3 L849.1,403.5 L849.7,403.9 L850.3,404.1 L850.9,403.3 L851.5,405.8 L852.1,404.1 L852.6,404.3 L853.2,402.8 L853.8,403.5 L854.4,401.6 L855.0,402.5 L855.6,403.8 L856.2,402.7 L856.8,402.9 L857.4,403.7 L858.0,402.1 L858.6,401.4 L859.2,402.2 L859.8,404.8 L860.4,401.8 L861.0,403.4 L861.6,403.2 L862.2,404.4 L862.8,401.6 L863.4,402.6 L863.9,402.4 L864.5,403.1 L865.1,403.1 L865.7,401.3 L866.3,403.2 L866.9,404.5 L867.5,404.3 L868.1,402.7 L868.7,401.0 L869.3,401.2 L869.9,401.9 L870.5,401.0 L871.1,403.3 L871.7,401.2 L872.3,400.2 L872.9,402.3 L873.5,400.7 L874.1,401.6 L874.7,400.6 L875.2,402.0 L875.8,399.8 L876.4,400.8 L877.0,400.6 L877.6,401.3 L878.2,402.7 L878.8,400.8 L879.4,400.8 L880.0,399.3 L880.6,401.1 L881.2,401.5 L881.8,401.5 L882.4,400.0 L883.0,401.6 L883.6,401.7 L884.2,402.1 L884.8,400.3 L885.4,401.9 L885.9,401.8 L886.5,400.3 L887.1,400.2 L887.7,400.3 L888.3,400.8 L888.9,401.8 L889.5,401.1 L890.1,400.1 L890.7,401.3 L891.3,399.8 L891.9,401.5 L892.5,401.1 L893.1,399.3 L893.7,400.6 L894.3,399.6 L894.9,399.3 L895.5,401.0 L896.1,399.1 L896.7,398.2 L897.2,399.7 L897.8,399.2 L898.4,401.5 L899.0,398.7 L899.6,399.4 L900.2,398.0 L900.8,398.3 L901.4,399.1 L902.0,400.5 L902.6,400.4 L903.2,400.2 L903.8,398.0 L904.4,399.2 L905.0,400.1 L905.6,401.2 L906.2,399.6 L906.8,399.5 L907.4,398.1 L908.0,400.3 L908.5,399.1 L909.1,400.1 L909.7,398.8 L910.3,399.4 L910.9,399.8 L911.5,398.9 L912.1,398.7 L912.7,396.7 L913.3,399.6 L913.9,397.7 L914.5,398.6 L915.1,397.6 L915.7,399.1 L916.3,396.9 L916.9,398.8 L917.5,397.3 L918.1,398.2 L918.7,398.9 L919.2,397.6 L919.8,399.7 L920.4,397.3 L921.0,399.0 L921.6,399.0 L922.2,397.5 L922.8,398.4 L923.4,398.3 L924.0,397.9 L924.6,398.4 L925.2,398.7 L925.8,399.2 L926.4,397.8 L927.0,398.2 L927.6,396.9 L928.2,398.1 L928.8,398.4 L929.4,399.5 L930.0,397.0 L930.5,396.4 L931.1,397.0 L931.7,396.5 L932.3,396.4 L932.9,398.0 L933.5,397.3 L934.1,397.8 L934.7,396.0 L935.3,396.3 L935.9,397.5 L936.5,395.1 L937.1,397.0 L937.7,397.3 L938.3,397.2 L938.9,396.8 L939.5,397.8 L940.1,394.9 L940.7,396.5 L941.2,397.1 L941.8,396.4 L942.4,396.2 L943.0,396.0 L943.6,395.5 L944.2,394.9 L944.8,395.1 L945.4,396.1 L946.0,396.2 L946.6,397.0 L947.2,396.3 L947.8,393.9 L948.4,394.0 L949.0,393.8 L949.6,395.8 L950.2,394.5 L950.8,394.6 L951.4,395.1 L952.0,394.8 L952.5,395.7 L953.1,396.8 L953.7,397.5 L954.3,397.3 L954.9,395.6 L955.5,395.5 L956.1,395.0 L956.7,395.2 L957.3,396.0 L957.9,396.9 L958.5,395.1 L959.1,395.1 L959.7,394.2 L960.3,394.4 L960.9,395.5 L961.5,396.2 L962.1,396.7 L962.7,395.7 L963.3,395.4 L963.8,395.4 L964.4,394.0 L965.0,394.9 L965.6,394.6 L966.2,394.9 L966.8,394.8 L967.4,393.4 L968.0,394.8 L968.6,395.7 L969.2,396.2 L969.8,393.5 L970.4,394.4 L971.0,394.0 L971.6,395.5 L972.2,394.8 L972.8,394.3 L973.4,395.7 L974.0,395.5 L974.5,395.5 L975.1,394.5 L975.7,396.4 L976.3,394.9 L976.9,395.0 L977.5,394.7 L978.1,393.3 L978.7,394.0 L979.3,395.0 L979.9,393.5 L980.5,392.3 L981.1,394.3 L981.7,395.0 L982.3,394.0 L982.9,393.0 L983.5,392.7 L984.1,393.5 L984.7,395.1 L985.3,392.8 L985.8,393.5 L986.4,394.8 L987.0,395.4 L987.6,394.6 L988.2,395.6 L988.8,394.1 L989.4,394.7 L990.0,394.6 L990.6,393.1 L991.2,395.2" stroke="#8a8a8a" stroke-width="6.4"/>
<path d="M158.7,574.0 L159.3,573.4 L159.9,572.8 L160.5,572.7 L161.1,570.6 L161.7,571.8 L162.3,570.7 L162.9,568.3 L163.5,570.5 L164.1,569.6 L164.6,569.8 L165.2,569.2 L165.8,568.7 L166.4,567.8 L167.0,568.0 L167.6,566.1 L168.2,567.2 L168.8,565.4 L169.4,566.2 L170.0,565.4 L170.6,565.6 L171.2,565.1 L171.8,565.0 L172.4,565.5 L173.0,564.1 L173.6,562.6 L174.2,562.8 L174.8,561.9 L175.3,561.1 L175.9,561.6 L176.5,562.1 L177.1,560.6 L177.7,560.0 L178.3,558.7 L178.9,559.4 L179.5,559.3 L180.1,560.0 L180.7,558.4 L181.3,558.8 L181.9,557.5 L182.5,556.4 L183.1,556.0 L183.7,558.1 L184.3,556.6 L184.9,556.5 L185.5,555.4 L186.1,554.8 L186.6,554.3 L187.2,553.6 L187.8,554.3 L188.4,552.4 L189.0,551.1 L189.6,551.3 L190.2,552.2 L190.8,550.6 L191.4,552.2 L192.0,551.1 L192.6,550.3 L193.2,550.6 L193.8,549.7 L194.4,550.0 L195.0,547.0 L195.6,548.8 L196.2,547.8 L196.8,548.5 L197.4,547.3 L197.9,548.1 L198.5,546.3 L199.1,546.7 L199.7,545.2 L200.3,545.4 L200.9,546.4 L201.5,544.0 L202.1,542.4 L202.7,544.0 L203.3,542.1 L203.9,542.8 L204.5,541.7 L205.1,542.6 L205.7,543.8 L206.3,541.4 L206.9,540.9 L207.5,541.5 L208.1,540.4 L208.6,541.4 L209.2,539.4 L209.8,540.0 L210.4,539.4 L211.0,539.0 L211.6,537.8 L212.2,538.3 L212.8,539.1 L213.4,536.2 L214.0,537.4 L214.6,536.0 L215.2,535.7 L215.8,535.2 L216.4,536.8 L217.0,534.6 L217.6,534.1 L218.2,534.5 L218.8,533.2 L219.4,534.2 L219.9,533.3 L220.5,532.0 L221.1,531.2 L221.7,532.0 L222.3,531.6 L222.9,531.6 L223.5,528.9 L224.1,530.8 L224.7,530.7 L225.3,529.6 L225.9,528.1 L226.5,529.0 L227.1,526.7 L227.7,528.3 L228.3,526.7 L228.9,526.6 L229.5,524.5 L230.1,525.4 L230.7,524.3 L231.2,525.6 L231.8,524.9 L232.4,524.3 L233.0,523.3 L233.6,522.0 L234.2,522.8 L234.8,523.2 L235.4,523.8 L236.0,520.5 L236.6,521.4 L237.2,520.8 L237.8,520.0 L238.4,521.5 L239.0,519.7 L239.6,521.9 L240.2,518.3 L240.8,518.6 L241.4,518.1 L241.9,518.4 L242.5,517.8 L243.1,516.7 L243.7,518.1 L244.3,516.1 L244.9,516.9 L245.5,516.1 L246.1,515.8 L246.7,515.2 L247.3,516.0 L247.9,515.5 L248.5,514.1 L249.1,513.9 L249.7,512.8 L250.3,513.8 L250.9,512.6 L251.5,511.6 L252.1,511.9 L252.7,513.0 L253.2,510.2 L253.8,509.7 L254.4,510.1 L255.0,509.5 L255.6,508.8 L256.2,509.2 L256.8,507.0 L257.4,507.6 L258.0,507.9 L258.6,507.7 L259.2,507.0 L259.8,506.9 L260.4,505.3 L261.0,506.0 L261.6,505.7 L262.2,505.0 L262.8,506.4 L263.4,503.3 L264.0,505.3 L264.5,504.3 L265.1,504.6 L265.7,502.4 L266.3,503.3 L266.9,502.6 L267.5,504.1 L268.1,502.9 L268.7,501.1 L269.3,501.5 L269.9,502.0 L270.5,501.2 L271.1,499.2 L271.7,499.3 L272.3,499.7 L272.9,499.0 L273.5,498.0 L274.1,498.3 L274.7,499.2 L275.2,497.2 L275.8,498.2 L276.4,497.2 L277.0,498.6 L277.6,497.8 L278.2,497.7 L278.8,496.4 L279.4,495.2 L280.0,495.1 L280.6,494.6 L281.2,493.9 L281.8,493.5 L282.4,495.2 L283.0,493.2 L283.6,494.7 L284.2,493.4 L284.8,492.3 L285.4,492.7 L286.0,491.0 L286.5,489.8 L287.1,490.9 L287.7,489.9 L288.3,491.4 L288.9,491.1 L289.5,489.2 L290.1,490.5 L290.7,489.9 L291.3,489.3 L291.9,490.9 L292.5,488.7 L293.1,489.5 L293.7,489.1 L294.3,488.0 L294.9,487.4 L295.5,487.2 L296.1,485.9 L296.7,485.8 L297.3,485.9 L297.8,484.6 L298.4,486.3 L299.0,485.7 L299.6,484.2 L300.2,485.3 L300.8,483.7 L301.4,483.9 L302.0,482.9 L302.6,482.6 L303.2,483.7 L303.8,483.2 L304.4,483.0 L305.0,482.0 L305.6,480.5 L306.2,482.6 L306.8,480.4 L307.4,480.2 L308.0,481.1 L308.6,480.5 L309.1,478.9 L309.7,478.9 L310.3,480.2 L310.9,480.1 L311.5,478.9 L312.1,479.9 L312.7,476.9 L313.3,477.8 L313.9,478.9 L314.5,477.6 L315.1,475.7 L315.7,476.9 L316.3,476.6 L316.9,476.9 L317.5,477.7 L318.1,476.5 L318.7,475.8 L319.3,475.9 L319.8,475.7 L320.4,475.1 L321.0,475.5 L321.6,473.1 L322.2,474.1 L322.8,475.2 L323.4,473.1 L324.0,474.4 L324.6,471.8 L325.2,472.3 L325.8,472.4 L326.4,471.8 L327.0,471.6 L327.6,470.1 L328.2,470.4 L328.8,471.3 L329.4,470.5 L330.0,469.2 L330.6,468.8 L331.1,468.1 L331.7,467.5 L332.3,467.8 L332.9,467.6 L333.5,466.2 L334.1,467.3 L334.7,466.8 L335.3,467.6 L335.9,466.1 L336.5,466.0 L337.1,466.0 L337.7,466.6 L338.3,465.8 L338.9,464.4 L339.5,466.3 L340.1,464.9 L340.7,465.2 L341.3,465.2 L341.8,463.9 L342.4,464.8 L343.0,463.7 L343.6,463.8 L344.2,463.9 L344.8,463.2 L345.4,462.0 L346.0,461.5 L346.6,460.5 L347.2,461.6 L347.8,461.0 L348.4,461.3 L349.0,460.7 L349.6,461.0 L350.2,460.0 L350.8,461.4 L351.4,460.7 L352.0,460.1 L352.6,459.8 L353.1,459.0 L353.7,459.2 L354.3,458.6 L354.9,459.3 L355.5,458.3 L356.1,457.9 L356.7,458.2 L357.3,456.9 L357.9,456.6 L358.5,456.4 L359.1,456.4 L359.7,456.0 L360.3,456.3 L360.9,456.3 L361.5,455.1 L362.1,456.5 L362.7,456.9 L363.3,454.5 L363.9,454.7 L364.4,455.0 L365.0,453.0 L365.6,452.5 L366.2,454.4 L366.8,453.6 L367.4,452.9 L368.0,454.4 L368.6,453.3 L369.2,450.3 L369.8,450.4 L370.4,452.5 L371.0,452.8 L371.6,449.4 L372.2,450.3 L372.8,449.2 L373.4,450.8 L374.0,449.2 L374.6,449.9 L375.1,449.3 L375.7,449.4 L376.3,448.4 L376.9,450.6 L377.5,447.9 L378.1,448.5 L378.7,448.7 L379.3,448.1 L379.9,447.6 L380.5,447.6 L381.1,447.9 L381.7,448.1 L382.3,446.2 L382.9,447.6 L383.5,446.3 L384.1,447.8 L384.7,446.9 L385.3,446.6 L385.9,446.0 L386.4,445.1 L387.0,444.3 L387.6,445.3 L388.2,444.1 L388.8,443.7 L389.4,441.2 L390.0,444.7 L390.6,442.0 L391.2,442.5 L391.8,442.3 L392.4,442.7 L393.0,442.5 L393.6,441.2 L394.2,443.0 L394.8,440.4 L395.4,437.9 L396.0,438.9 L396.6,439.0 L397.2,439.7 L397.7,439.9 L398.3,438.5 L398.9,439.4 L399.5,440.7 L400.1,438.2 L400.7,436.0 L401.3,439.2 L401.9,437.8 L402.5,437.2 L403.1,438.3 L403.7,437.5 L404.3,437.2 L404.9,436.0 L405.5,436.3 L406.1,436.5 L406.7,436.5 L407.3,435.3 L407.9,435.3 L408.4,434.5 L409.0,434.3 L409.6,435.3 L410.2,436.9 L410.8,435.4 L411.4,434.8 L412.0,433.7 L412.6,434.8 L413.2,434.1 L413.8,435.0 L414.4,433.1 L415.0,431.6 L415.6,432.1 L416.2,431.5 L416.8,432.0 L417.4,430.7 L418.0,429.8 L418.6,430.3 L419.2,430.2 L419.7,431.0 L420.3,430.6 L420.9,429.4 L421.5,430.1 L422.1,430.3 L422.7,428.8 L423.3,429.8 L423.9,430.7 L424.5,430.2 L425.1,428.6 L425.7,427.6 L426.3,428.1 L426.9,428.0 L427.5,427.5 L428.1,427.0 L428.7,427.4 L429.3,425.8 L429.9,426.3 L430.5,425.0 L431.0,426.6 L431.6,425.1 L432.2,424.2 L432.8,422.8 L433.4,424.5 L434.0,422.4 L434.6,423.2 L435.2,424.2 L435.8,424.9 L436.4,422.3 L437.0,422.9 L437.6,422.8 L438.2,422.1 L438.8,422.3 L439.4,423.4 L440.0,422.1 L440.6,422.1 L441.2,423.7 L441.7,420.5 L442.3,422.1 L442.9,420.8 L443.5,422.1 L444.1,420.4 L444.7,418.3 L445.3,419.2 L445.9,420.3 L446.5,420.4 L447.1,420.3 L447.7,419.9 L448.3,417.9 L448.9,419.6 L449.5,417.1 L450.1,418.4 L450.7,417.1 L451.3,418.0 L451.9,416.0 L452.5,417.2 L453.0,416.7 L453.6,415.1 L454.2,414.8 L454.8,415.4 L455.4,414.5 L456.0,415.4 L456.6,415.0 L457.2,416.0 L457.8,414.3 L458.4,414.0 L459.0,415.0 L459.6,413.3 L460.2,412.2 L460.8,414.7 L461.4,413.4 L462.0,414.2 L462.6,412.5 L463.2,413.4 L463.8,412.2 L464.3,412.4 L464.9,411.3 L465.5,411.4 L466.1,411.8 L466.7,412.5 L467.3,410.6 L467.9,410.7 L468.5,411.8 L469.1,410.7 L469.7,409.7 L470.3,409.7 L470.9,409.9 L471.5,411.1 L472.1,409.0 L472.7,409.1 L473.3,410.2 L473.9,411.0 L474.5,408.3 L475.1,407.6 L475.6,410.5 L476.2,408.0 L476.8,409.3 L477.4,408.2 L478.0,407.6 L478.6,407.2 L479.2,407.6 L479.8,407.7 L480.4,407.8 L481.0,406.7 L481.6,407.2 L482.2,405.2 L482.8,406.5 L483.4,406.8 L484.0,405.5 L484.6,405.2 L485.2,404.8 L485.8,404.8 L486.3,406.0 L486.9,405.0 L487.5,403.1 L488.1,406.3 L488.7,403.9 L489.3,402.8 L489.9,403.8 L490.5,402.1 L491.1,404.0 L491.7,404.3 L492.3,403.2 L492.9,403.5 L493.5,403.2 L494.1,403.7 L494.7,401.7 L495.3,402.9 L495.9,401.7 L496.5,402.8 L497.1,402.5 L497.6,399.5 L498.2,400.5 L498.8,400.4 L499.4,400.0 L500.0,400.9 L500.6,401.4 L501.2,398.8 L501.8,399.0 L502.4,399.0 L503.0,397.9 L503.6,397.6 L504.2,397.3 L504.8,398.2 L505.4,397.0 L506.0,397.5 L506.6,397.5 L507.2,396.3 L507.8,395.7 L508.3,398.5 L508.9,395.5 L509.5,397.1 L510.1,397.7 L510.7,396.2 L511.3,396.6 L511.9,395.9 L512.5,396.7 L513.1,396.0 L513.7,395.8 L514.3,396.2 L514.9,394.2 L515.5,395.2 L516.1,392.7 L516.7,393.3 L517.3,393.7 L517.9,392.5 L518.5,397.3 L519.1,393.8 L519.6,394.6 L520.2,393.2 L520.8,396.0 L521.4,393.4 L522.0,393.5 L522.6,392.2 L523.2,392.1 L523.8,393.0 L524.4,393.3 L525.0,394.0 L525.6,391.1 L526.2,390.6 L526.8,390.6 L527.4,391.3 L528.0,390.7 L528.6,390.7 L529.2,391.0 L529.8,391.1 L530.4,391.0 L530.9,390.1 L531.5,390.0 L532.1,388.1 L532.7,389.9 L533.3,389.4 L533.9,388.2 L534.5,390.9 L535.1,389.4 L535.7,390.0 L536.3,389.1 L536.9,388.9 L537.5,387.7 L538.1,386.3 L538.7,388.1 L539.3,388.6 L539.9,386.8 L540.5,388.6 L541.1,387.9 L541.7,388.1 L542.2,386.2 L542.8,386.1 L543.4,384.4 L544.0,384.6 L544.6,386.1 L545.2,386.6 L545.8,385.1 L546.4,385.1 L547.0,384.9 L547.6,385.5 L548.2,385.5 L548.8,383.0 L549.4,385.4 L550.0,384.7 L550.6,385.2 L551.2,383.9 L551.8,384.8 L552.4,385.4 L552.9,384.7 L553.5,383.7 L554.1,383.9 L554.7,383.3 L555.3,384.2 L555.9,382.2 L556.5,383.2 L557.1,383.7 L557.7,383.1 L558.3,383.1 L558.9,382.6 L559.5,382.3 L560.1,381.7 L560.7,381.5 L561.3,380.7 L561.9,382.4 L562.5,382.5 L563.1,382.5 L563.7,382.0 L564.2,381.7 L564.8,382.9 L565.4,379.8 L566.0,380.7 L566.6,380.8 L567.2,379.5 L567.8,378.9 L568.4,379.3 L569.0,379.9 L569.6,379.6 L570.2,378.3 L570.8,378.5 L571.4,380.1 L572.0,378.8 L572.6,378.3 L573.2,378.1 L573.8,377.6 L574.4,379.4 L575.0,377.8 L575.5,377.7 L576.1,377.8 L576.7,375.9 L577.3,377.6 L577.9,377.3 L578.5,376.1 L579.1,374.9 L579.7,376.4 L580.3,375.4 L580.9,376.8 L581.5,375.7 L582.1,374.5 L582.7,375.3 L583.3,373.9 L583.9,375.6 L584.5,373.6 L585.1,375.6 L585.7,375.2 L586.2,375.3 L586.8,373.5 L587.4,373.2 L588.0,371.8 L588.6,372.8 L589.2,373.3 L589.8,373.0 L590.4,371.3 L591.0,374.7 L591.6,373.0 L592.2,372.8 L592.8,372.2 L593.4,371.8 L594.0,373.4 L594.6,372.3 L595.2,371.5 L595.8,372.2 L596.4,371.5 L597.0,369.8 L597.5,371.1 L598.1,371.5 L598.7,370.5 L599.3,370.1 L599.9,371.0 L600.5,370.4 L601.1,370.7 L601.7,369.4 L602.3,369.3 L602.9,370.1 L603.5,370.1 L604.1,369.5 L604.7,370.4 L605.3,368.1 L605.9,369.0 L606.5,366.6 L607.1,368.7 L607.7,368.6 L608.2,369.2 L608.8,367.6 L609.4,367.2 L610.0,369.2 L610.6,367.6 L611.2,367.4 L611.8,366.5 L612.4,366.7 L613.0,366.7 L613.6,365.5 L614.2,365.6 L614.8,368.9 L615.4,365.0 L616.0,366.8 L616.6,365.1 L617.2,365.8 L617.8,366.2 L618.4,365.7 L619.0,364.5 L619.5,367.4 L620.1,363.9 L620.7,364.7 L621.3,365.6 L621.9,365.0 L622.5,365.8 L623.1,364.7 L623.7,365.0 L624.3,363.7 L624.9,363.4 L625.5,364.1 L626.1,363.6 L626.7,363.3 L627.3,362.3 L627.9,361.9 L628.5,361.3 L629.1,362.6 L629.7,363.1 L630.3,361.8 L630.8,363.0 L631.4,360.5 L632.0,363.2 L632.6,363.4 L633.2,362.5 L633.8,362.7 L634.4,362.9 L635.0,360.3 L635.6,361.5 L636.2,362.2 L636.8,359.9 L637.4,361.9 L638.0,361.5 L638.6,363.3 L639.2,360.9 L639.8,360.7 L640.4,360.3 L641.0,360.6 L641.5,362.1 L642.1,360.8 L642.7,360.7 L643.3,358.0 L643.9,360.8 L644.5,359.7 L645.1,359.2 L645.7,359.4 L646.3,357.8 L646.9,359.4 L647.5,359.6 L648.1,357.5 L648.7,358.3 L649.3,358.4 L649.9,357.8 L650.5,360.4 L651.1,357.1 L651.7,356.1 L652.3,357.3 L652.8,357.0 L653.4,357.8 L654.0,358.2 L654.6,356.4 L655.2,357.4 L655.8,358.3 L656.4,356.3 L657.0,356.8 L657.6,358.2 L658.2,356.1 L658.8,356.1 L659.4,355.9 L660.0,356.0 L660.6,357.6 L661.2,355.2 L661.8,356.5 L662.4,355.4 L663.0,355.0 L663.6,355.0 L664.1,357.4 L664.7,355.1 L665.3,354.9 L665.9,354.7 L666.5,355.6 L667.1,355.3 L667.7,355.3 L668.3,355.0 L668.9,355.7 L669.5,354.5 L670.1,354.1 L670.7,353.9 L671.3,356.5 L671.9,354.2 L672.5,354.3 L673.1,353.8 L673.7,354.4 L674.3,354.7 L674.9,353.8 L675.4,352.8 L676.0,353.5 L676.6,353.6 L677.2,352.6 L677.8,352.5 L678.4,352.3 L679.0,353.6 L679.6,353.8 L680.2,352.8 L680.8,351.3 L681.4,352.2 L682.0,351.1 L682.6,352.5 L683.2,352.1 L683.8,354.7 L684.4,351.6 L685.0,350.8 L685.6,353.5 L686.1,353.0 L686.7,352.4 L687.3,352.4 L687.9,351.3 L688.5,352.5 L689.1,351.4 L689.7,353.2 L690.3,353.5 L690.9,351.6 L691.5,350.6 L692.1,350.0 L692.7,352.1 L693.3,352.1 L693.9,351.2 L694.5,352.3 L695.1,350.3 L695.7,350.1 L696.3,352.1 L696.9,353.4 L697.4,349.5 L698.0,349.9 L698.6,349.6 L699.2,349.8 L699.8,351.3 L700.4,348.4 L701.0,350.0 L701.6,348.2 L702.2,350.7 L702.8,350.8 L703.4,351.4 L704.0,348.5 L704.6,349.3 L705.2,349.1 L705.8,348.1 L706.4,349.9 L707.0,348.8 L707.6,347.3 L708.2,346.7 L708.7,347.9 L709.3,348.8 L709.9,347.0 L710.5,347.8 L711.1,348.1 L711.7,347.3 L712.3,347.0 L712.9,347.1 L713.5,348.6 L714.1,345.8 L714.7,346.3 L715.3,347.3 L715.9,345.9 L716.5,345.1 L717.1,346.7 L717.7,346.9 L718.3,346.4 L718.9,345.1 L719.4,345.3 L720.0,346.8 L720.6,345.4 L721.2,345.6 L721.8,345.9 L722.4,347.0 L723.0,345.0 L723.6,345.0 L724.2,345.6 L724.8,345.8 L725.4,346.4 L726.0,344.9 L726.6,344.0 L727.2,347.2 L727.8,346.0 L728.4,345.9 L729.0,347.1 L729.6,346.3 L730.2,345.0 L730.7,345.2 L731.3,345.5 L731.9,344.8 L732.5,344.2 L733.1,346.0 L733.7,344.7 L734.3,344.4 L734.9,344.8 L735.5,344.1 L736.1,342.6 L736.7,342.3 L737.3,342.7 L737.9,343.3 L738.5,342.7 L739.1,344.4 L739.7,343.7 L740.3,343.5 L740.9,344.8 L741.5,343.0 L742.0,343.2 L742.6,345.2 L743.2,343.1 L743.8,343.6 L744.4,343.6 L745.0,343.6 L745.6,344.0 L746.2,344.1 L746.8,342.2 L747.4,342.8 L748.0,342.1 L748.6,343.3 L749.2,342.6 L749.8,344.6 L750.4,343.1 L751.0,345.0 L751.6,343.9 L752.2,342.2 L752.7,342.9 L753.3,342.0 L753.9,341.7 L754.5,342.8 L755.1,341.8 L755.7,343.5 L756.3,341.9 L756.9,343.1 L757.5,342.2 L758.1,340.9 L758.7,342.1 L759.3,342.3 L759.9,343.7 L760.5,342.5 L761.1,339.7 L761.7,343.0 L762.3,343.1 L762.9,341.3 L763.5,341.6 L764.0,341.4 L764.6,339.8 L765.2,340.9 L765.8,340.8 L766.4,341.4 L767.0,340.9 L767.6,341.1 L768.2,341.1 L768.8,340.7 L769.4,339.8 L770.0,340.1 L770.6,340.1 L771.2,339.3 L771.8,340.0 L772.4,341.4 L773.0,340.3 L773.6,339.7 L774.2,339.4 L774.8,339.7 L775.3,338.8 L775.9,339.1 L776.5,339.9 L777.1,339.4 L777.7,339.3 L778.3,337.8 L778.9,338.8 L779.5,340.0 L780.1,339.2 L780.7,338.4 L781.3,338.7 L781.9,340.1 L782.5,338.5 L783.1,338.7 L783.7,337.7 L784.3,339.1 L784.9,338.3 L785.5,339.6 L786.0,338.4 L786.6,338.0 L787.2,337.3 L787.8,337.1 L788.4,338.2 L789.0,336.0 L789.6,338.3 L790.2,336.8 L790.8,337.0 L791.4,337.9 L792.0,337.8 L792.6,337.5 L793.2,337.5 L793.8,337.4 L794.4,335.5 L795.0,335.5 L795.6,335.7 L796.2,335.1 L796.8,334.6 L797.3,337.5 L797.9,335.9 L798.5,335.7 L799.1,336.1 L799.7,334.9 L800.3,335.5 L800.9,335.3 L801.5,335.1 L802.1,335.3 L802.7,335.0 L803.3,336.3 L803.9,333.7 L804.5,335.3 L805.1,335.6 L805.7,334.8 L806.3,335.9 L806.9,334.0 L807.5,334.3 L808.0,335.1 L808.6,335.2 L809.2,333.2 L809.8,335.1 L810.4,333.7 L811.0,334.5 L811.6,335.3 L812.2,334.2 L812.8,335.5 L813.4,333.1 L814.0,333.1 L814.6,333.4 L815.2,333.5 L815.8,333.4 L816.4,334.6 L817.0,334.9 L817.6,334.3 L818.2,333.0 L818.8,333.6 L819.3,333.0 L819.9,334.8 L820.5,333.5 L821.1,334.5 L821.7,333.6 L822.3,333.1 L822.9,334.3 L823.5,332.4 L824.1,333.4 L824.7,333.7 L825.3,333.9 L825.9,331.5 L826.5,336.3 L827.1,334.0 L827.7,333.1 L828.3,331.1 L828.9,333.0 L829.5,333.0 L830.1,332.7 L830.6,332.2 L831.2,332.9 L831.8,332.7 L832.4,332.3 L833.0,333.7 L833.6,333.2 L834.2,331.2 L834.8,332.3 L835.4,331.9 L836.0,332.7 L836.6,331.7 L837.2,332.4 L837.8,330.4 L838.4,331.8 L839.0,330.7 L839.6,331.9 L840.2,332.9 L840.8,333.7 L841.4,333.3 L841.9,332.3 L842.5,331.7 L843.1,332.8 L843.7,333.7 L844.3,332.5 L844.9,332.6 L845.5,330.6 L846.1,332.0 L846.7,332.8 L847.3,331.1 L847.9,332.0 L848.5,331.4 L849.1,330.6 L849.7,331.7 L850.3,330.8 L850.9,330.4 L851.5,331.8 L852.1,330.2 L852.6,330.9 L853.2,329.9 L853.8,330.4 L854.4,331.4 L855.0,329.8 L855.6,329.6 L856.2,331.3 L856.8,330.2 L857.4,330.0 L858.0,330.3 L858.6,328.1 L859.2,331.0 L859.8,329.6 L860.4,329.2 L861.0,329.2 L861.6,329.2 L862.2,331.4 L862.8,329.9 L863.4,330.5 L863.9,327.6 L864.5,327.6 L865.1,329.7 L865.7,329.9 L866.3,328.3 L866.9,329.8 L867.5,328.5 L868.1,330.8 L868.7,331.7 L869.3,330.5 L869.9,329.5 L870.5,329.6 L871.1,329.5 L871.7,330.3 L872.3,327.6 L872.9,328.7 L873.5,328.9 L874.1,328.3 L874.7,328.1 L875.2,328.6 L875.8,330.5 L876.4,328.8 L877.0,330.7 L877.6,327.8 L878.2,329.0 L878.8,326.9 L879.4,328.4 L880.0,327.2 L880.6,329.0 L881.2,327.8 L881.8,329.2 L882.4,328.5 L883.0,330.3 L883.6,329.1 L884.2,328.5 L884.8,328.2 L885.4,328.9 L885.9,328.4 L886.5,327.9 L887.1,327.6 L887.7,327.1 L888.3,326.7 L888.9,327.5 L889.5,327.7 L890.1,326.4 L890.7,328.8 L891.3,327.3 L891.9,326.1 L892.5,326.8 L893.1,327.8 L893.7,328.6 L894.3,327.8 L894.9,326.6 L895.5,327.9 L896.1,326.5 L896.7,328.2 L897.2,326.6 L897.8,326.4 L898.4,325.6 L899.0,326.7 L899.6,326.8 L900.2,326.5 L900.8,328.3 L901.4,326.6 L902.0,326.7 L902.6,326.6 L903.2,326.4 L903.8,328.0 L904.4,325.0 L905.0,324.9 L905.6,327.2 L906.2,326.7 L906.8,326.2 L907.4,325.8 L908.0,325.6 L908.5,324.0 L909.1,326.9 L909.7,325.2 L910.3,326.8 L910.9,325.7 L911.5,326.3 L912.1,323.5 L912.7,324.0 L913.3,326.2 L913.9,324.8 L914.5,325.6 L915.1,325.6 L915.7,323.9 L916.3,326.2 L916.9,326.2 L917.5,324.6 L918.1,326.4 L918.7,324.3 L919.2,324.2 L919.8,324.6 L920.4,324.3 L921.0,325.6 L921.6,325.8 L922.2,325.4 L922.8,323.1 L923.4,325.0 L924.0,323.5 L924.6,325.9 L925.2,324.7 L925.8,323.9 L926.4,324.5 L927.0,324.3 L927.6,322.4 L928.2,323.3 L928.8,324.6 L929.4,324.6 L930.0,323.8 L930.5,324.5 L931.1,322.5 L931.7,325.3 L932.3,321.6 L932.9,323.6 L933.5,324.9 L934.1,324.7 L934.7,323.0 L935.3,323.8 L935.9,325.3 L936.5,325.7 L937.1,323.8 L937.7,322.8 L938.3,323.2 L938.9,325.3 L939.5,324.5 L940.1,322.3 L940.7,323.6 L941.2,322.8 L941.8,322.9 L942.4,324.8 L943.0,322.7 L943.6,323.5 L944.2,323.2 L944.8,322.3 L945.4,323.5 L946.0,323.2 L946.6,323.7 L947.2,323.4 L947.8,322.9 L948.4,323.2 L949.0,324.3 L949.6,323.2 L950.2,322.0 L950.8,323.9 L951.4,323.5 L952.0,322.5 L952.5,324.5 L953.1,324.0 L953.7,323.1 L954.3,324.2 L954.9,324.3 L955.5,324.4 L956.1,323.1 L956.7,323.3 L957.3,324.3 L957.9,323.3 L958.5,323.0 L959.1,321.8 L959.7,324.7 L960.3,321.6 L960.9,322.4 L961.5,323.6 L962.1,321.7 L962.7,322.2 L963.3,323.9 L963.8,321.8 L964.4,322.6 L965.0,321.8 L965.6,322.6 L966.2,320.7 L966.8,322.4 L967.4,322.2 L968.0,322.7 L968.6,322.8 L969.2,321.3 L969.8,322.9 L970.4,323.5 L971.0,323.2 L971.6,322.6 L972.2,321.5 L972.8,321.9 L973.4,323.4 L974.0,321.5 L974.5,322.8 L975.1,323.1 L975.7,323.3 L976.3,322.7 L976.9,323.0 L977.5,321.9 L978.1,322.6 L978.7,320.5 L979.3,323.9 L979.9,322.2 L980.5,320.5 L981.1,321.1 L981.7,321.0 L982.3,322.0 L982.9,322.6 L983.5,322.7 L984.1,321.4 L984.7,322.4 L985.3,322.1 L985.8,320.7 L986.4,321.3 L987.0,321.0 L987.6,320.7 L988.2,321.8 L988.8,321.2 L989.4,321.6 L990.0,322.4 L990.6,322.4 L991.2,321.0" stroke="#747474" stroke-width="6.4"/>
<path d="M158.7,574.1 L159.3,573.0 L159.9,571.7 L160.5,570.7 L161.1,570.6 L161.7,569.8 L162.3,568.3 L162.9,569.1 L163.5,567.8 L164.1,565.4 L164.6,566.0 L165.2,565.8 L165.8,564.2 L166.4,564.0 L167.0,562.5 L167.6,560.9 L168.2,561.5 L168.8,561.0 L169.4,561.1 L170.0,561.0 L170.6,558.7 L171.2,557.9 L171.8,557.0 L172.4,557.5 L173.0,556.1 L173.6,555.0 L174.2,553.7 L174.8,552.4 L175.3,553.1 L175.9,550.3 L176.5,553.5 L177.1,550.0 L177.7,549.3 L178.3,548.9 L178.9,547.9 L179.5,548.2 L180.1,545.3 L180.7,546.3 L181.3,544.9 L181.9,544.1 L182.5,544.8 L183.1,543.6 L183.7,544.0 L184.3,541.2 L184.9,542.9 L185.5,540.0 L186.1,540.0 L186.6,541.5 L187.2,538.7 L187.8,538.5 L188.4,537.3 L189.0,536.9 L189.6,535.8 L190.2,535.9 L190.8,535.8 L191.4,532.4 L192.0,533.4 L192.6,533.2 L193.2,531.5 L193.8,532.0 L194.4,530.6 L195.0,530.0 L195.6,529.3 L196.2,529.1 L196.8,528.8 L197.4,527.8 L197.9,526.3 L198.5,526.9 L199.1,524.9 L199.7,525.4 L200.3,523.6 L200.9,523.0 L201.5,523.5 L202.1,521.1 L202.7,520.2 L203.3,521.3 L203.9,520.7 L204.5,519.8 L205.1,519.1 L205.7,518.3 L206.3,516.3 L206.9,516.4 L207.5,515.4 L208.1,515.5 L208.6,514.0 L209.2,514.3 L209.8,513.4 L210.4,513.1 L211.0,511.6 L211.6,513.1 L212.2,510.6 L212.8,509.8 L213.4,510.6 L214.0,509.9 L214.6,508.4 L215.2,508.8 L215.8,507.3 L216.4,507.4 L217.0,505.7 L217.6,505.5 L218.2,506.1 L218.8,506.0 L219.4,503.1 L219.9,503.6 L220.5,502.6 L221.1,503.1 L221.7,501.1 L222.3,500.3 L222.9,500.5 L223.5,499.4 L224.1,500.2 L224.7,498.1 L225.3,499.5 L225.9,496.2 L226.5,498.4 L227.1,495.2 L227.7,494.7 L228.3,495.8 L228.9,493.5 L229.5,494.2 L230.1,491.3 L230.7,492.5 L231.2,491.9 L231.8,490.4 L232.4,492.0 L233.0,489.4 L233.6,489.5 L234.2,487.9 L234.8,488.7 L235.4,487.9 L236.0,486.9 L236.6,486.6 L237.2,486.5 L237.8,485.9 L238.4,486.2 L239.0,484.8 L239.6,485.2 L240.2,485.5 L240.8,483.7 L241.4,484.1 L241.9,481.3 L242.5,483.5 L243.1,481.3 L243.7,481.6 L244.3,480.9 L244.9,480.6 L245.5,478.7 L246.1,478.8 L246.7,477.5 L247.3,477.3 L247.9,477.4 L248.5,475.8 L249.1,476.6 L249.7,475.1 L250.3,476.4 L250.9,475.7 L251.5,472.3 L252.1,472.1 L252.7,473.0 L253.2,471.6 L253.8,471.3 L254.4,470.6 L255.0,470.6 L255.6,469.2 L256.2,470.0 L256.8,468.7 L257.4,467.6 L258.0,467.5 L258.6,466.2 L259.2,466.8 L259.8,465.5 L260.4,466.6 L261.0,466.2 L261.6,464.0 L262.2,462.0 L262.8,463.6 L263.4,463.7 L264.0,462.7 L264.5,461.7 L265.1,460.5 L265.7,460.9 L266.3,460.4 L266.9,458.7 L267.5,460.2 L268.1,459.1 L268.7,458.2 L269.3,457.0 L269.9,458.7 L270.5,456.6 L271.1,457.0 L271.7,455.5 L272.3,456.4 L272.9,455.9 L273.5,454.8 L274.1,453.5 L274.7,452.9 L275.2,451.5 L275.8,451.6 L276.4,450.1 L277.0,450.8 L277.6,449.2 L278.2,447.5 L278.8,448.5 L279.4,446.7 L280.0,447.4 L280.6,449.2 L281.2,446.7 L281.8,447.7 L282.4,446.2 L283.0,445.9 L283.6,444.5 L284.2,444.3 L284.8,443.2 L285.4,443.4 L286.0,443.4 L286.5,442.0 L287.1,442.9 L287.7,440.6 L288.3,441.2 L288.9,439.7 L289.5,438.2 L290.1,438.3 L290.7,438.8 L291.3,437.5 L291.9,437.8 L292.5,436.6 L293.1,435.5 L293.7,434.5 L294.3,435.3 L294.9,434.2 L295.5,434.7 L296.1,433.2 L296.7,432.4 L297.3,432.9 L297.8,431.7 L298.4,431.4 L299.0,430.7 L299.6,430.6 L300.2,430.2 L300.8,429.3 L301.4,427.9 L302.0,427.8 L302.6,428.4 L303.2,428.8 L303.8,426.2 L304.4,426.0 L305.0,425.4 L305.6,424.6 L306.2,423.1 L306.8,424.6 L307.4,422.7 L308.0,423.1 L308.6,422.2 L309.1,420.5 L309.7,420.5 L310.3,419.3 L310.9,419.2 L311.5,418.3 L312.1,419.2 L312.7,417.6 L313.3,417.1 L313.9,417.4 L314.5,416.1 L315.1,416.5 L315.7,415.0 L316.3,413.4 L316.9,414.9 L317.5,414.4 L318.1,414.7 L318.7,413.4 L319.3,412.7 L319.8,409.7 L320.4,411.5 L321.0,411.4 L321.6,410.1 L322.2,409.6 L322.8,409.7 L323.4,409.3 L324.0,409.2 L324.6,408.1 L325.2,407.1 L325.8,407.3 L326.4,406.9 L327.0,406.0 L327.6,405.1 L328.2,404.0 L328.8,404.3 L329.4,402.4 L330.0,403.5 L330.6,402.9 L331.1,402.2 L331.7,403.2 L332.3,402.1 L332.9,402.2 L333.5,400.3 L334.1,400.1 L334.7,397.7 L335.3,398.6 L335.9,396.9 L336.5,398.9 L337.1,397.1 L337.7,397.4 L338.3,396.0 L338.9,396.5 L339.5,394.7 L340.1,394.1 L340.7,393.8 L341.3,392.7 L341.8,392.1 L342.4,392.4 L343.0,392.3 L343.6,391.7 L344.2,390.9 L344.8,389.0 L345.4,390.3 L346.0,389.7 L346.6,387.9 L347.2,388.4 L347.8,386.8 L348.4,387.2 L349.0,388.0 L349.6,386.3 L350.2,387.6 L350.8,386.4 L351.4,385.4 L352.0,383.4 L352.6,385.7 L353.1,384.2 L353.7,383.9 L354.3,383.0 L354.9,382.2 L355.5,383.1 L356.1,381.4 L356.7,380.6 L357.3,380.8 L357.9,379.4 L358.5,380.7 L359.1,378.8 L359.7,378.3 L360.3,377.9 L360.9,377.1 L361.5,376.2 L362.1,377.0 L362.7,375.1 L363.3,375.3 L363.9,375.1 L364.4,374.4 L365.0,376.4 L365.6,374.1 L366.2,373.4 L366.8,372.5 L367.4,370.7 L368.0,371.1 L368.6,372.1 L369.2,371.6 L369.8,367.4 L370.4,369.0 L371.0,368.7 L371.6,369.8 L372.2,368.4 L372.8,367.6 L373.4,368.7 L374.0,366.2 L374.6,366.1 L375.1,366.5 L375.7,365.1 L376.3,365.7 L376.9,364.3 L377.5,365.6 L378.1,363.9 L378.7,362.2 L379.3,363.7 L379.9,362.2 L380.5,362.3 L381.1,360.5 L381.7,359.7 L382.3,358.6 L382.9,361.4 L383.5,358.6 L384.1,359.6 L384.7,359.6 L385.3,357.9 L385.9,359.0 L386.4,356.7 L387.0,356.7 L387.6,356.6 L388.2,357.3 L388.8,356.1 L389.4,355.0 L390.0,353.9 L390.6,355.9 L391.2,354.2 L391.8,353.0 L392.4,353.5 L393.0,354.7 L393.6,353.4 L394.2,353.6 L394.8,352.4 L395.4,350.7 L396.0,351.9 L396.6,351.2 L397.2,351.4 L397.7,351.3 L398.3,348.7 L398.9,349.6 L399.5,349.3 L400.1,350.4 L400.7,348.5 L401.3,348.0 L401.9,347.2 L402.5,347.6 L403.1,347.0 L403.7,346.4 L404.3,345.8 L404.9,345.6 L405.5,346.6 L406.1,344.5 L406.7,345.2 L407.3,343.7 L407.9,343.8 L408.4,343.0 L409.0,341.5 L409.6,343.6 L410.2,340.9 L410.8,340.6 L411.4,343.2 L412.0,340.7 L412.6,339.0 L413.2,339.7 L413.8,340.7 L414.4,340.2 L415.0,338.6 L415.6,338.9 L416.2,339.1 L416.8,335.9 L417.4,336.4 L418.0,335.9 L418.6,335.5 L419.2,335.2 L419.7,336.2 L420.3,337.8 L420.9,334.7 L421.5,333.6 L422.1,333.6 L422.7,333.5 L423.3,334.0 L423.9,334.2 L424.5,334.4 L425.1,333.7 L425.7,333.0 L426.3,332.5 L426.9,332.1 L427.5,331.5 L428.1,331.4 L428.7,332.7 L429.3,330.4 L429.9,330.7 L430.5,331.1 L431.0,331.7 L431.6,328.9 L432.2,328.8 L432.8,329.8 L433.4,328.8 L434.0,327.1 L434.6,326.5 L435.2,327.3 L435.8,326.3 L436.4,325.6 L437.0,326.2 L437.6,326.2 L438.2,326.1 L438.8,325.0 L439.4,324.5 L440.0,324.3 L440.6,324.1 L441.2,324.9 L441.7,325.1 L442.3,323.9 L442.9,322.4 L443.5,322.9 L444.1,324.6 L444.7,323.2 L445.3,323.1 L445.9,321.7 L446.5,321.9 L447.1,322.2 L447.7,321.1 L448.3,318.1 L448.9,318.6 L449.5,320.5 L450.1,319.2 L450.7,318.8 L451.3,318.1 L451.9,318.5 L452.5,318.9 L453.0,317.3 L453.6,317.6 L454.2,318.3 L454.8,316.8 L455.4,318.6 L456.0,317.1 L456.6,318.3 L457.2,315.0 L457.8,316.0 L458.4,315.4 L459.0,315.6 L459.6,316.9 L460.2,315.7 L460.8,315.0 L461.4,316.5 L462.0,314.2 L462.6,313.4 L463.2,313.9 L463.8,313.2 L464.3,313.5 L464.9,313.6 L465.5,312.3 L466.1,313.2 L466.7,311.7 L467.3,311.7 L467.9,310.2 L468.5,312.1 L469.1,311.3 L469.7,310.0 L470.3,310.7 L470.9,311.0 L471.5,310.0 L472.1,308.3 L472.7,309.5 L473.3,308.5 L473.9,308.0 L474.5,307.8 L475.1,309.2 L475.6,308.6 L476.2,309.4 L476.8,307.5 L477.4,307.7 L478.0,305.8 L478.6,307.1 L479.2,306.1 L479.8,305.2 L480.4,306.3 L481.0,305.7 L481.6,306.0 L482.2,305.5 L482.8,305.9 L483.4,305.6 L484.0,303.2 L484.6,305.1 L485.2,302.4 L485.8,304.0 L486.3,303.0 L486.9,303.3 L487.5,304.1 L488.1,303.0 L488.7,301.2 L489.3,301.5 L489.9,303.5 L490.5,301.7 L491.1,300.8 L491.7,299.7 L492.3,301.2 L492.9,299.3 L493.5,298.4 L494.1,299.3 L494.7,299.9 L495.3,299.2 L495.9,299.4 L496.5,297.5 L497.1,299.2 L497.6,298.3 L498.2,297.6 L498.8,295.4 L499.4,297.0 L500.0,297.5 L500.6,296.7 L501.2,298.4 L501.8,297.0 L502.4,296.8 L503.0,297.2 L503.6,297.4 L504.2,295.9 L504.8,295.9 L505.4,296.1 L506.0,296.0 L506.6,295.9 L507.2,297.2 L507.8,294.7 L508.3,295.5 L508.9,294.6 L509.5,294.1 L510.1,296.1 L510.7,293.1 L511.3,292.3 L511.9,292.7 L512.5,291.4 L513.1,291.0 L513.7,292.2 L514.3,290.2 L514.9,292.0 L515.5,290.8 L516.1,292.0 L516.7,291.1 L517.3,289.5 L517.9,290.0 L518.5,289.2 L519.1,288.2 L519.6,287.8 L520.2,287.5 L520.8,288.7 L521.4,287.0 L522.0,288.2 L522.6,286.9 L523.2,289.3 L523.8,287.5 L524.4,285.9 L525.0,286.7 L525.6,287.0 L526.2,286.2 L526.8,288.0 L527.4,284.0 L528.0,285.3 L528.6,285.8 L529.2,283.3 L529.8,283.0 L530.4,283.3 L530.9,284.9 L531.5,283.1 L532.1,282.8 L532.7,283.2 L533.3,281.7 L533.9,282.2 L534.5,281.7 L535.1,284.1 L535.7,282.7 L536.3,282.6 L536.9,282.6 L537.5,281.5 L538.1,281.7 L538.7,282.3 L539.3,281.3 L539.9,281.3 L540.5,279.5 L541.1,281.4 L541.7,280.4 L542.2,280.3 L542.8,279.4 L543.4,278.4 L544.0,278.8 L544.6,279.4 L545.2,279.6 L545.8,279.8 L546.4,277.7 L547.0,279.4 L547.6,278.4 L548.2,276.8 L548.8,277.5 L549.4,277.1 L550.0,277.5 L550.6,277.0 L551.2,278.3 L551.8,276.2 L552.4,277.9 L552.9,275.8 L553.5,276.2 L554.1,275.1 L554.7,276.3 L555.3,276.0 L555.9,275.5 L556.5,274.7 L557.1,274.8 L557.7,275.2 L558.3,274.3 L558.9,275.5 L559.5,274.8 L560.1,274.3 L560.7,273.3 L561.3,274.2 L561.9,274.4 L562.5,272.9 L563.1,272.6 L563.7,272.8 L564.2,273.1 L564.8,272.1 L565.4,271.5 L566.0,273.1 L566.6,271.5 L567.2,271.0 L567.8,271.2 L568.4,271.2 L569.0,271.8 L569.6,270.9 L570.2,270.4 L570.8,270.2 L571.4,270.7 L572.0,271.8 L572.6,268.5 L573.2,271.0 L573.8,270.2 L574.4,268.9 L575.0,269.1 L575.5,269.6 L576.1,268.6 L576.7,268.2 L577.3,268.8 L577.9,266.5 L578.5,267.3 L579.1,266.1 L579.7,267.4 L580.3,266.8 L580.9,266.4 L581.5,265.9 L582.1,266.0 L582.7,266.1 L583.3,267.7 L583.9,264.5 L584.5,265.5 L585.1,265.5 L585.7,264.3 L586.2,267.4 L586.8,265.0 L587.4,264.6 L588.0,264.2 L588.6,264.1 L589.2,264.9 L589.8,264.2 L590.4,264.3 L591.0,264.7 L591.6,265.3 L592.2,263.2 L592.8,264.6 L593.4,264.2 L594.0,263.9 L594.6,262.5 L595.2,262.5 L595.8,263.5 L596.4,262.4 L597.0,262.6 L597.5,263.4 L598.1,261.7 L598.7,262.6 L599.3,261.4 L599.9,262.9 L600.5,261.3 L601.1,260.2 L601.7,261.5 L602.3,260.6 L602.9,260.4 L603.5,258.7 L604.1,261.9 L604.7,259.8 L605.3,260.1 L605.9,260.0 L606.5,260.7 L607.1,258.4 L607.7,259.4 L608.2,260.0 L608.8,259.6 L609.4,259.1 L610.0,260.5 L610.6,259.5 L611.2,257.6 L611.8,259.6 L612.4,259.3 L613.0,258.4 L613.6,259.3 L614.2,256.8 L614.8,257.8 L615.4,258.2 L616.0,257.7 L616.6,258.1 L617.2,258.0 L617.8,259.0 L618.4,258.5 L619.0,256.5 L619.5,257.0 L620.1,257.3 L620.7,257.7 L621.3,255.9 L621.9,256.4 L622.5,255.5 L623.1,255.4 L623.7,256.5 L624.3,256.7 L624.9,254.6 L625.5,256.9 L626.1,254.7 L626.7,255.5 L627.3,255.8 L627.9,253.8 L628.5,254.8 L629.1,254.1 L629.7,252.6 L630.3,254.1 L630.8,253.9 L631.4,254.2 L632.0,254.5 L632.6,254.4 L633.2,254.1 L633.8,254.0 L634.4,254.9 L635.0,255.4 L635.6,254.9 L636.2,254.3 L636.8,253.4 L637.4,254.3 L638.0,252.9 L638.6,253.4 L639.2,253.6 L639.8,253.3 L640.4,253.3 L641.0,255.3 L641.5,251.4 L642.1,252.7 L642.7,253.5 L643.3,252.9 L643.9,252.4 L644.5,252.5 L645.1,252.5 L645.7,251.7 L646.3,253.5 L646.9,253.0 L647.5,253.1 L648.1,251.6 L648.7,251.4 L649.3,249.9 L649.9,249.9 L650.5,250.8 L651.1,252.1 L651.7,251.1 L652.3,252.6 L652.8,252.1 L653.4,251.7 L654.0,250.7 L654.6,249.6 L655.2,250.5 L655.8,251.4 L656.4,250.5 L657.0,250.1 L657.6,249.9 L658.2,250.1 L658.8,250.7 L659.4,249.4 L660.0,248.0 L660.6,250.4 L661.2,250.1 L661.8,250.1 L662.4,248.0 L663.0,249.0 L663.6,247.3 L664.1,249.4 L664.7,247.4 L665.3,248.0 L665.9,249.2 L666.5,248.6 L667.1,247.1 L667.7,248.2 L668.3,248.2 L668.9,248.4 L669.5,246.9 L670.1,247.5 L670.7,248.8 L671.3,248.2 L671.9,247.7 L672.5,248.8 L673.1,247.3 L673.7,249.1 L674.3,248.4 L674.9,248.5 L675.4,249.7 L676.0,248.3 L676.6,248.2 L677.2,247.6 L677.8,246.3 L678.4,248.0 L679.0,247.9 L679.6,248.5 L680.2,247.8 L680.8,247.4 L681.4,248.0 L682.0,248.3 L682.6,245.3 L683.2,246.7 L683.8,245.7 L684.4,246.5 L685.0,246.9 L685.6,246.5 L686.1,246.2 L686.7,245.1 L687.3,245.4 L687.9,244.3 L688.5,245.2 L689.1,244.9 L689.7,244.6 L690.3,244.3 L690.9,244.4 L691.5,244.4 L692.1,244.0 L692.7,246.0 L693.3,245.0 L693.9,245.1 L694.5,245.7 L695.1,245.3 L695.7,244.7 L696.3,243.6 L696.9,243.7 L697.4,242.9 L698.0,244.6 L698.6,244.0 L699.2,245.1 L699.8,245.0 L700.4,244.8 L701.0,242.7 L701.6,242.9 L702.2,244.5 L702.8,243.6 L703.4,245.1 L704.0,244.5 L704.6,244.2 L705.2,244.6 L705.8,244.7 L706.4,243.6 L707.0,243.3 L707.6,242.2 L708.2,243.5 L708.7,243.4 L709.3,242.7 L709.9,243.5 L710.5,243.2 L711.1,243.0 L711.7,242.1 L712.3,243.4 L712.9,243.0 L713.5,242.4 L714.1,242.7 L714.7,241.8 L715.3,243.3 L715.9,241.8 L716.5,242.9 L717.1,242.4 L717.7,241.7 L718.3,240.8 L718.9,242.7 L719.4,242.0 L720.0,242.1 L720.6,241.9 L721.2,241.9 L721.8,241.2 L722.4,241.9 L723.0,241.6 L723.6,239.9 L724.2,241.6 L724.8,240.7 L725.4,241.1 L726.0,240.9 L726.6,241.6 L727.2,241.5 L727.8,241.1 L728.4,241.0 L729.0,239.4 L729.6,241.2 L730.2,241.1 L730.7,240.1 L731.3,239.1 L731.9,240.1 L732.5,240.9 L733.1,240.1 L733.7,239.8 L734.3,240.4 L734.9,239.9 L735.5,239.0 L736.1,239.7 L736.7,240.1 L737.3,240.1 L737.9,240.5 L738.5,238.3 L739.1,239.4 L739.7,239.4 L740.3,240.7 L740.9,241.1 L741.5,238.9 L742.0,239.1 L742.6,239.1 L743.2,237.9 L743.8,238.3 L744.4,238.5 L745.0,240.0 L745.6,238.5 L746.2,238.7 L746.8,239.7 L747.4,237.7 L748.0,238.1 L748.6,238.3 L749.2,238.9 L749.8,237.8 L750.4,239.0 L751.0,237.9 L751.6,238.1 L752.2,239.2 L752.7,239.9 L753.3,238.8 L753.9,237.3 L754.5,238.2 L755.1,236.1 L755.7,236.4 L756.3,236.7 L756.9,236.8 L757.5,236.0 L758.1,236.1 L758.7,234.8 L759.3,235.6 L759.9,236.4 L760.5,236.8 L761.1,237.1 L761.7,235.4 L762.3,237.7 L762.9,236.0 L763.5,236.6 L764.0,236.0 L764.6,236.7 L765.2,236.0 L765.8,236.3 L766.4,235.8 L767.0,236.5 L767.6,236.0 L768.2,236.9 L768.8,236.1 L769.4,236.0 L770.0,235.6 L770.6,234.7 L771.2,234.5 L771.8,235.1 L772.4,234.9 L773.0,234.6 L773.6,237.7 L774.2,234.5 L774.8,235.4 L775.3,234.8 L775.9,235.0 L776.5,234.8 L777.1,235.4 L777.7,236.4 L778.3,235.6 L778.9,234.2 L779.5,235.8 L780.1,233.8 L780.7,235.5 L781.3,234.0 L781.9,234.7 L782.5,235.5 L783.1,233.9 L783.7,236.3 L784.3,234.8 L784.9,233.9 L785.5,235.3 L786.0,235.3 L786.6,233.9 L787.2,233.9 L787.8,234.5 L788.4,232.9 L789.0,232.4 L789.6,234.0 L790.2,233.7 L790.8,234.1 L791.4,233.5 L792.0,233.9 L792.6,233.3 L793.2,234.9 L793.8,234.7 L794.4,232.2 L795.0,233.9 L795.6,233.1 L796.2,232.5 L796.8,234.0 L797.3,232.8 L797.9,233.7 L798.5,233.6 L799.1,235.1 L799.7,233.6 L800.3,233.7 L800.9,233.3 L801.5,233.3 L802.1,233.3 L802.7,233.3 L803.3,233.6 L803.9,232.8 L804.5,232.7 L805.1,231.8 L805.7,231.2 L806.3,231.4 L806.9,232.9 L807.5,233.5 L808.0,231.7 L808.6,231.0 L809.2,232.7 L809.8,231.9 L810.4,232.1 L811.0,232.1 L811.6,232.2 L812.2,232.4 L812.8,232.1 L813.4,232.1 L814.0,232.5 L814.6,230.9 L815.2,231.5 L815.8,230.0 L816.4,232.9 L817.0,232.1 L817.6,231.5 L818.2,232.3 L818.8,231.8 L819.3,231.3 L819.9,231.7 L820.5,230.0 L821.1,233.3 L821.7,230.5 L822.3,231.2 L822.9,230.7 L823.5,230.4 L824.1,231.2 L824.7,231.2 L825.3,231.9 L825.9,231.2 L826.5,233.1 L827.1,230.1 L827.7,232.6 L828.3,231.1 L828.9,230.7 L829.5,231.4 L830.1,230.7 L830.6,229.8 L831.2,231.5 L831.8,230.8 L832.4,230.5 L833.0,231.2 L833.6,230.1 L834.2,232.2 L834.8,231.0 L835.4,230.3 L836.0,230.3 L836.6,233.3 L837.2,231.0 L837.8,232.3 L838.4,231.2 L839.0,230.4 L839.6,231.8 L840.2,231.8 L840.8,230.7 L841.4,232.8 L841.9,230.6 L842.5,230.7 L843.1,230.5 L843.7,230.6 L844.3,231.6 L844.9,230.9 L845.5,229.9 L846.1,230.4 L846.7,229.1 L847.3,229.7 L847.9,228.4 L848.5,228.7 L849.1,230.6 L849.7,228.6 L850.3,228.0 L850.9,227.7 L851.5,228.8 L852.1,228.9 L852.6,229.0 L853.2,227.6 L853.8,229.7 L854.4,228.8 L855.0,228.2 L855.6,228.9 L856.2,228.1 L856.8,229.5 L857.4,227.8 L858.0,228.1 L858.6,228.1 L859.2,228.0 L859.8,228.3 L860.4,227.6 L861.0,229.3 L861.6,228.1 L862.2,229.4 L862.8,229.2 L863.4,227.1 L863.9,228.6 L864.5,229.1 L865.1,228.4 L865.7,229.5 L866.3,227.5 L866.9,227.8 L867.5,229.2 L868.1,227.8 L868.7,227.7 L869.3,227.2 L869.9,229.9 L870.5,228.4 L871.1,228.8 L871.7,228.5 L872.3,228.2 L872.9,227.1 L873.5,228.7 L874.1,227.4 L874.7,227.3 L875.2,230.7 L875.8,227.7 L876.4,229.6 L877.0,230.6 L877.6,228.1 L878.2,227.9 L878.8,228.4 L879.4,230.2 L880.0,229.5 L880.6,228.5 L881.2,228.0 L881.8,227.3 L882.4,227.0 L883.0,228.1 L883.6,227.6 L884.2,227.1 L884.8,227.7 L885.4,227.3 L885.9,227.3 L886.5,226.7 L887.1,226.8 L887.7,227.0 L888.3,227.7 L888.9,226.3 L889.5,227.8 L890.1,226.7 L890.7,227.3 L891.3,227.9 L891.9,226.8 L892.5,228.1 L893.1,228.4 L893.7,226.8 L894.3,227.1 L894.9,226.3 L895.5,227.5 L896.1,226.6 L896.7,226.4 L897.2,225.8 L897.8,226.9 L898.4,227.3 L899.0,226.0 L899.6,225.2 L900.2,227.3 L900.8,228.1 L901.4,226.3 L902.0,227.9 L902.6,228.1 L903.2,226.5 L903.8,227.4 L904.4,226.5 L905.0,226.3 L905.6,226.6 L906.2,225.7 L906.8,226.1 L907.4,225.9 L908.0,226.6 L908.5,225.6 L909.1,227.2 L909.7,226.7 L910.3,228.9 L910.9,226.0 L911.5,227.3 L912.1,226.4 L912.7,226.4 L913.3,225.3 L913.9,226.3 L914.5,225.2 L915.1,225.4 L915.7,225.4 L916.3,226.3 L916.9,226.1 L917.5,225.8 L918.1,225.6 L918.7,226.3 L919.2,227.4 L919.8,226.8 L920.4,225.4 L921.0,225.5 L921.6,226.9 L922.2,226.6 L922.8,227.0 L923.4,226.0 L924.0,224.5 L924.6,226.6 L925.2,225.3 L925.8,225.6 L926.4,226.0 L927.0,226.7 L927.6,226.3 L928.2,226.5 L928.8,225.9 L929.4,227.7 L930.0,225.3 L930.5,225.9 L931.1,223.7 L931.7,225.1 L932.3,225.5 L932.9,226.0 L933.5,225.1 L934.1,225.1 L934.7,224.2 L935.3,226.5 L935.9,224.7 L936.5,225.5 L937.1,224.7 L937.7,225.3 L938.3,225.1 L938.9,224.9 L939.5,225.9 L940.1,224.4 L940.7,224.4 L941.2,224.7 L941.8,225.7 L942.4,224.8 L943.0,225.0 L943.6,224.5 L944.2,223.7 L944.8,224.3 L945.4,223.1 L946.0,225.6 L946.6,224.1 L947.2,225.4 L947.8,223.4 L948.4,224.0 L949.0,225.0 L949.6,225.0 L950.2,223.1 L950.8,223.8 L951.4,224.6 L952.0,224.4 L952.5,224.2 L953.1,223.4 L953.7,224.1 L954.3,224.2 L954.9,223.6 L955.5,224.1 L956.1,224.2 L956.7,224.4 L957.3,224.4 L957.9,225.8 L958.5,223.3 L959.1,224.4 L959.7,224.3 L960.3,224.9 L960.9,223.0 L961.5,225.3 L962.1,223.1 L962.7,223.6 L963.3,224.7 L963.8,225.1 L964.4,223.6 L965.0,224.0 L965.6,223.8 L966.2,222.3 L966.8,224.5 L967.4,222.9 L968.0,224.4 L968.6,224.7 L969.2,223.9 L969.8,222.3 L970.4,225.7 L971.0,222.6 L971.6,223.9 L972.2,225.3 L972.8,224.0 L973.4,224.3 L974.0,224.2 L974.5,224.6 L975.1,223.8 L975.7,223.9 L976.3,224.6 L976.9,225.2 L977.5,224.9 L978.1,223.8 L978.7,225.6 L979.3,224.2 L979.9,225.6 L980.5,222.3 L981.1,223.0 L981.7,224.1 L982.3,223.1 L982.9,223.5 L983.5,223.7 L984.1,222.9 L984.7,225.2 L985.3,223.2 L985.8,222.4 L986.4,223.2 L987.0,223.1 L987.6,222.0 L988.2,223.0 L988.8,224.0 L989.4,222.6 L990.0,223.6 L990.6,223.2 L991.2,222.7" stroke="#5a5a5a" stroke-width="6.4"/>
<path d="M158.7,573.0 L159.3,571.3 L159.9,568.4 L160.5,569.0 L161.1,565.0 L161.7,565.2 L162.3,563.0 L162.9,562.3 L163.5,559.4 L164.1,555.4 L164.6,555.0 L165.2,554.4 L165.8,552.8 L166.4,550.8 L167.0,547.9 L167.6,546.7 L168.2,543.5 L168.8,542.6 L169.4,540.1 L170.0,538.8 L170.6,536.8 L171.2,536.0 L171.8,535.0 L172.4,530.3 L173.0,531.1 L173.6,527.6 L174.2,525.6 L174.8,523.5 L175.3,520.4 L175.9,520.9 L176.5,517.8 L177.1,516.2 L177.7,515.9 L178.3,512.3 L178.9,512.8 L179.5,510.7 L180.1,508.7 L180.7,505.6 L181.3,504.3 L181.9,503.3 L182.5,503.5 L183.1,501.4 L183.7,497.4 L184.3,495.3 L184.9,494.6 L185.5,494.3 L186.1,493.1 L186.6,490.8 L187.2,489.0 L187.8,488.0 L188.4,486.6 L189.0,484.9 L189.6,483.0 L190.2,480.3 L190.8,479.7 L191.4,477.6 L192.0,476.4 L192.6,472.8 L193.2,473.1 L193.8,470.9 L194.4,470.2 L195.0,468.0 L195.6,465.7 L196.2,466.0 L196.8,463.3 L197.4,460.7 L197.9,460.6 L198.5,457.9 L199.1,458.0 L199.7,456.3 L200.3,455.5 L200.9,453.1 L201.5,451.6 L202.1,449.1 L202.7,446.9 L203.3,448.8 L203.9,444.1 L204.5,443.3 L205.1,443.2 L205.7,440.0 L206.3,439.8 L206.9,438.0 L207.5,433.5 L208.1,434.7 L208.6,430.9 L209.2,429.0 L209.8,429.9 L210.4,427.3 L211.0,425.6 L211.6,424.4 L212.2,425.0 L212.8,421.1 L213.4,421.1 L214.0,419.0 L214.6,418.3 L215.2,416.0 L215.8,415.2 L216.4,413.4 L217.0,411.1 L217.6,409.9 L218.2,409.1 L218.8,406.9 L219.4,407.1 L219.9,404.0 L220.5,405.0 L221.1,401.6 L221.7,402.2 L222.3,399.2 L222.9,397.6 L223.5,396.4 L224.1,394.7 L224.7,395.2 L225.3,391.4 L225.9,391.9 L226.5,389.3 L227.1,388.7 L227.7,385.4 L228.3,385.7 L228.9,383.8 L229.5,382.5 L230.1,382.6 L230.7,379.2 L231.2,379.1 L231.8,377.9 L232.4,376.2 L233.0,374.6 L233.6,372.0 L234.2,370.9 L234.8,369.9 L235.4,366.2 L236.0,367.3 L236.6,366.2 L237.2,363.0 L237.8,362.7 L238.4,359.9 L239.0,359.0 L239.6,357.7 L240.2,359.0 L240.8,356.6 L241.4,355.1 L241.9,352.4 L242.5,351.7 L243.1,351.6 L243.7,348.3 L244.3,347.0 L244.9,345.3 L245.5,344.2 L246.1,344.7 L246.7,341.9 L247.3,340.1 L247.9,340.6 L248.5,336.9 L249.1,338.5 L249.7,334.9 L250.3,334.0 L250.9,332.8 L251.5,331.8 L252.1,329.0 L252.7,329.2 L253.2,328.7 L253.8,325.3 L254.4,324.1 L255.0,323.1 L255.6,321.2 L256.2,321.0 L256.8,320.4 L257.4,319.2 L258.0,315.4 L258.6,315.4 L259.2,314.2 L259.8,314.3 L260.4,313.0 L261.0,310.6 L261.6,308.9 L262.2,307.8 L262.8,306.8 L263.4,306.7 L264.0,305.0 L264.5,304.2 L265.1,303.0 L265.7,301.2 L266.3,299.7 L266.9,300.3 L267.5,297.3 L268.1,296.8 L268.7,294.3 L269.3,295.6 L269.9,292.8 L270.5,291.0 L271.1,291.1 L271.7,289.5 L272.3,287.7 L272.9,287.4 L273.5,287.4 L274.1,285.0 L274.7,283.2 L275.2,282.7 L275.8,282.3 L276.4,281.1 L277.0,278.2 L277.6,278.8 L278.2,276.2 L278.8,275.4 L279.4,275.4 L280.0,271.6 L280.6,271.6 L281.2,271.7 L281.8,269.6 L282.4,269.6 L283.0,265.7 L283.6,265.2 L284.2,264.4 L284.8,263.4 L285.4,262.3 L286.0,261.2 L286.5,260.4 L287.1,258.8 L287.7,259.3 L288.3,257.1 L288.9,258.3 L289.5,254.9 L290.1,253.6 L290.7,253.4 L291.3,252.0 L291.9,251.0 L292.5,250.1 L293.1,249.6 L293.7,247.2 L294.3,246.2 L294.9,247.1 L295.5,246.9 L296.1,242.7 L296.7,242.7 L297.3,241.5 L297.8,240.1 L298.4,238.4 L299.0,238.7 L299.6,238.1 L300.2,235.6 L300.8,235.3 L301.4,236.0 L302.0,233.3 L302.6,231.4 L303.2,232.3 L303.8,230.5 L304.4,230.2 L305.0,229.2 L305.6,227.7 L306.2,226.6 L306.8,226.4 L307.4,226.7 L308.0,224.6 L308.6,222.8 L309.1,222.5 L309.7,222.3 L310.3,220.4 L310.9,218.7 L311.5,218.4 L312.1,218.0 L312.7,214.9 L313.3,215.0 L313.9,214.3 L314.5,214.7 L315.1,212.6 L315.7,211.0 L316.3,209.9 L316.9,210.8 L317.5,210.4 L318.1,207.4 L318.7,206.5 L319.3,205.9 L319.8,206.2 L320.4,205.6 L321.0,205.2 L321.6,203.1 L322.2,201.6 L322.8,202.8 L323.4,199.6 L324.0,200.0 L324.6,199.9 L325.2,199.3 L325.8,197.0 L326.4,197.4 L327.0,196.2 L327.6,196.6 L328.2,193.4 L328.8,194.3 L329.4,193.4 L330.0,192.4 L330.6,192.8 L331.1,189.1 L331.7,189.6 L332.3,187.8 L332.9,187.3 L333.5,187.4 L334.1,185.8 L334.7,184.2 L335.3,184.6 L335.9,185.7 L336.5,184.0 L337.1,183.4 L337.7,181.8 L338.3,180.7 L338.9,180.4 L339.5,179.9 L340.1,178.9 L340.7,178.7 L341.3,177.8 L341.8,177.5 L342.4,175.8 L343.0,175.1 L343.6,175.1 L344.2,173.0 L344.8,172.6 L345.4,171.4 L346.0,171.0 L346.6,169.8 L347.2,171.8 L347.8,170.8 L348.4,170.0 L349.0,167.9 L349.6,167.6 L350.2,166.9 L350.8,166.8 L351.4,166.2 L352.0,165.2 L352.6,164.3 L353.1,164.0 L353.7,162.4 L354.3,162.1 L354.9,161.6 L355.5,160.8 L356.1,157.6 L356.7,159.1 L357.3,159.2 L357.9,158.8 L358.5,157.1 L359.1,158.2 L359.7,156.3 L360.3,156.4 L360.9,156.2 L361.5,154.0 L362.1,154.5 L362.7,153.4 L363.3,154.5 L363.9,153.1 L364.4,152.7 L365.0,150.6 L365.6,152.0 L366.2,150.3 L366.8,147.4 L367.4,149.1 L368.0,149.8 L368.6,147.2 L369.2,146.5 L369.8,147.5 L370.4,146.6 L371.0,145.9 L371.6,145.8 L372.2,145.1 L372.8,143.8 L373.4,142.4 L374.0,142.2 L374.6,141.9 L375.1,142.0 L375.7,139.6 L376.3,140.0 L376.9,140.0 L377.5,141.0 L378.1,139.1 L378.7,138.0 L379.3,136.8 L379.9,137.6 L380.5,136.7 L381.1,134.0 L381.7,135.3 L382.3,135.1 L382.9,135.2 L383.5,134.0 L384.1,133.3 L384.7,133.1 L385.3,132.2 L385.9,130.7 L386.4,131.7 L387.0,130.6 L387.6,130.1 L388.2,131.5 L388.8,129.6 L389.4,129.6 L390.0,128.1 L390.6,129.1 L391.2,128.6 L391.8,126.5 L392.4,128.5 L393.0,127.1 L393.6,126.2 L394.2,125.2 L394.8,124.0 L395.4,124.5 L396.0,124.6 L396.6,122.9 L397.2,123.1 L397.7,122.9 L398.3,123.7 L398.9,122.4 L399.5,122.0 L400.1,123.0 L400.7,120.4 L401.3,122.6 L401.9,120.5 L402.5,120.3 L403.1,120.2 L403.7,118.5 L404.3,117.1 L404.9,117.9 L405.5,118.9 L406.1,118.5 L406.7,116.4 L407.3,115.6 L407.9,115.2 L408.4,115.5 L409.0,115.2 L409.6,115.1 L410.2,114.9 L410.8,113.1 L411.4,114.3 L412.0,113.1 L412.6,111.4 L413.2,111.8 L413.8,111.0 L414.4,109.3 L415.0,111.5 L415.6,110.2 L416.2,110.6 L416.8,109.6 L417.4,109.2 L418.0,109.2 L418.6,108.6 L419.2,109.3 L419.7,107.8 L420.3,107.4 L420.9,106.2 L421.5,106.7 L422.1,104.9 L422.7,104.9 L423.3,105.4 L423.9,105.7 L424.5,105.0 L425.1,103.9 L425.7,102.9 L426.3,103.4 L426.9,101.8 L427.5,103.6 L428.1,102.1 L428.7,102.1 L429.3,102.5 L429.9,101.5 L430.5,102.2 L431.0,101.2 L431.6,99.0 L432.2,99.3 L432.8,102.1 L433.4,100.1 L434.0,100.4 L434.6,98.0 L435.2,100.1 L435.8,100.8 L436.4,97.0 L437.0,99.8 L437.6,97.1 L438.2,97.4 L438.8,97.3 L439.4,96.5 L440.0,97.4 L440.6,95.9 L441.2,94.8 L441.7,95.3 L442.3,95.4 L442.9,95.5 L443.5,95.1 L444.1,95.0 L444.7,94.3 L445.3,94.6 L445.9,92.3 L446.5,93.8 L447.1,94.3 L447.7,91.8 L448.3,92.9 L448.9,92.6 L449.5,93.4 L450.1,92.7 L450.7,92.1 L451.3,91.4 L451.9,92.1 L452.5,91.8 L453.0,91.7 L453.6,90.6 L454.2,91.0 L454.8,89.5 L455.4,88.6 L456.0,90.3 L456.6,89.3 L457.2,89.4 L457.8,90.5 L458.4,88.8 L459.0,89.0 L459.6,88.1 L460.2,86.9 L460.8,87.2 L461.4,86.4 L462.0,85.7 L462.6,88.9 L463.2,87.4 L463.8,85.5 L464.3,87.9 L464.9,86.0 L465.5,86.3 L466.1,87.6 L466.7,86.2 L467.3,85.9 L467.9,87.1 L468.5,85.5 L469.1,84.7 L469.7,85.5 L470.3,85.0 L470.9,84.6 L471.5,85.7 L472.1,84.9 L472.7,84.2 L473.3,85.1 L473.9,83.3 L474.5,83.2 L475.1,83.2 L475.6,84.0 L476.2,83.1 L476.8,83.1 L477.4,81.9 L478.0,82.4 L478.6,82.5 L479.2,82.8 L479.8,81.7 L480.4,80.9 L481.0,82.6 L481.6,80.4 L482.2,79.9 L482.8,78.7 L483.4,78.2 L484.0,79.1 L484.6,80.0 L485.2,77.8 L485.8,78.7 L486.3,77.1 L486.9,78.0 L487.5,78.1 L488.1,77.6 L488.7,77.2 L489.3,77.8 L489.9,78.0 L490.5,76.8 L491.1,77.0 L491.7,76.6 L492.3,77.6 L492.9,76.0 L493.5,77.4 L494.1,75.8 L494.7,77.9 L495.3,78.1 L495.9,76.0 L496.5,75.6 L497.1,74.8 L497.6,75.1 L498.2,73.8 L498.8,76.7 L499.4,75.1 L500.0,74.3 L500.6,76.0 L501.2,74.8 L501.8,74.5 L502.4,74.2 L503.0,74.3 L503.6,74.4 L504.2,73.5 L504.8,72.9 L505.4,72.6 L506.0,73.1 L506.6,72.6 L507.2,73.7 L507.8,72.5 L508.3,71.6 L508.9,72.7 L509.5,72.1 L510.1,72.4 L510.7,70.8 L511.3,69.3 L511.9,70.9 L512.5,70.8 L513.1,70.4 L513.7,69.4 L514.3,68.9 L514.9,70.0 L515.5,69.6 L516.1,70.1 L516.7,69.4 L517.3,69.0 L517.9,68.0 L518.5,69.0 L519.1,68.7 L519.6,67.8 L520.2,67.1 L520.8,67.7 L521.4,68.6 L522.0,67.1 L522.6,66.8 L523.2,66.8 L523.8,66.8 L524.4,67.5 L525.0,67.1 L525.6,66.6 L526.2,66.4 L526.8,65.9 L527.4,66.2 L528.0,66.4 L528.6,65.1 L529.2,65.4 L529.8,64.3 L530.4,65.0 L530.9,64.7 L531.5,65.8 L532.1,64.7 L532.7,63.8 L533.3,65.3 L533.9,64.4 L534.5,64.2 L535.1,64.5 L535.7,63.5 L536.3,64.3 L536.9,63.5 L537.5,63.4 L538.1,64.6 L538.7,62.5 L539.3,64.0 L539.9,63.1 L540.5,61.6 L541.1,62.4 L541.7,63.5 L542.2,63.3 L542.8,64.3 L543.4,64.1 L544.0,62.8 L544.6,62.3 L545.2,61.7 L545.8,61.9 L546.4,62.2 L547.0,62.2 L547.6,62.3 L548.2,60.9 L548.8,61.7 L549.4,62.2 L550.0,62.1 L550.6,61.0 L551.2,60.7 L551.8,61.6 L552.4,60.8 L552.9,60.4 L553.5,61.8 L554.1,60.3 L554.7,61.8 L555.3,59.2 L555.9,62.4 L556.5,60.2 L557.1,59.4 L557.7,58.5 L558.3,60.4 L558.9,60.5 L559.5,60.0 L560.1,59.4 L560.7,58.4 L561.3,59.0 L561.9,57.7 L562.5,61.6 L563.1,60.2 L563.7,59.5 L564.2,59.4 L564.8,58.7 L565.4,59.9 L566.0,57.5 L566.6,57.9 L567.2,58.3 L567.8,59.8 L568.4,57.2 L569.0,59.2 L569.6,58.9 L570.2,57.7 L570.8,57.5 L571.4,56.4 L572.0,57.1 L572.6,56.7 L573.2,58.3 L573.8,57.6 L574.4,58.4 L575.0,57.2 L575.5,56.4 L576.1,57.8 L576.7,55.9 L577.3,57.3 L577.9,56.3 L578.5,58.1 L579.1,57.6 L579.7,55.9 L580.3,55.9 L580.9,56.3 L581.5,58.3 L582.1,57.9 L582.7,56.4 L583.3,55.9 L583.9,57.0 L584.5,56.0 L585.1,56.1 L585.7,55.8 L586.2,56.2 L586.8,56.5 L587.4,55.6 L588.0,56.0 L588.6,56.4 L589.2,55.9 L589.8,55.5 L590.4,56.1 L591.0,56.3 L591.6,54.9 L592.2,54.7 L592.8,53.2 L593.4,55.4 L594.0,56.3 L594.6,54.9 L595.2,55.9 L595.8,54.3 L596.4,55.8 L597.0,53.4 L597.5,55.8 L598.1,56.0 L598.7,55.7 L599.3,54.9 L599.9,53.5 L600.5,54.4 L601.1,55.5 L601.7,53.6 L602.3,54.2 L602.9,53.5 L603.5,54.1 L604.1,53.8 L604.7,55.2 L605.3,55.0 L605.9,54.2 L606.5,53.6 L607.1,54.1 L607.7,54.5 L608.2,53.6 L608.8,55.3 L609.4,53.4 L610.0,54.2 L610.6,53.6 L611.2,54.0 L611.8,56.1 L612.4,54.0 L613.0,53.1 L613.6,54.7 L614.2,53.1 L614.8,54.2 L615.4,52.4 L616.0,52.5 L616.6,53.8 L617.2,54.9 L617.8,53.4 L618.4,52.4 L619.0,53.1 L619.5,53.5 L620.1,54.5 L620.7,53.5 L621.3,54.1 L621.9,55.8 L622.5,55.7 L623.1,52.2 L623.7,51.9 L624.3,51.1 L624.9,54.7 L625.5,53.1 L626.1,52.6 L626.7,51.9 L627.3,52.3 L627.9,51.4 L628.5,52.6 L629.1,52.6 L629.7,52.2 L630.3,52.5 L630.8,52.7 L631.4,51.6 L632.0,51.4 L632.6,52.8 L633.2,53.2 L633.8,52.9 L634.4,50.2 L635.0,50.7 L635.6,51.5 L636.2,51.6 L636.8,53.3 L637.4,52.1 L638.0,53.1 L638.6,52.3 L639.2,52.0 L639.8,51.4 L640.4,51.2 L641.0,52.5 L641.5,51.8 L642.1,52.6 L642.7,51.9 L643.3,51.1 L643.9,51.4 L644.5,51.1 L645.1,51.2 L645.7,53.6 L646.3,51.8 L646.9,52.0 L647.5,53.6 L648.1,51.6 L648.7,52.4 L649.3,49.7 L649.9,50.5 L650.5,52.2 L651.1,51.2 L651.7,51.9 L652.3,50.8 L652.8,51.5 L653.4,51.9 L654.0,52.0 L654.6,51.9 L655.2,52.4 L655.8,50.6 L656.4,51.7 L657.0,50.6 L657.6,50.8 L658.2,50.6 L658.8,50.0 L659.4,50.4 L660.0,50.3 L660.6,51.5 L661.2,50.1 L661.8,52.4 L662.4,51.0 L663.0,49.8 L663.6,50.8 L664.1,50.9 L664.7,53.5 L665.3,52.0 L665.9,51.8 L666.5,52.1 L667.1,51.6 L667.7,52.2 L668.3,52.1 L668.9,49.7 L669.5,50.0 L670.1,52.2 L670.7,52.1 L671.3,50.3 L671.9,52.9 L672.5,52.0 L673.1,48.9 L673.7,51.5 L674.3,50.5 L674.9,51.5 L675.4,50.2 L676.0,49.9 L676.6,51.3 L677.2,50.1 L677.8,48.4 L678.4,49.2 L679.0,50.2 L679.6,50.6 L680.2,51.3 L680.8,51.3 L681.4,49.5 L682.0,49.6 L682.6,50.4 L683.2,49.0 L683.8,50.9 L684.4,51.9 L685.0,49.6 L685.6,51.2 L686.1,49.9 L686.7,49.7 L687.3,50.1 L687.9,50.7 L688.5,49.8 L689.1,50.3 L689.7,49.8 L690.3,51.3 L690.9,49.2 L691.5,49.8 L692.1,49.5 L692.7,49.8 L693.3,48.6 L693.9,49.4 L694.5,47.9 L695.1,50.3 L695.7,50.8 L696.3,50.3 L696.9,50.0 L697.4,49.2 L698.0,50.1 L698.6,48.3 L699.2,50.2 L699.8,48.9 L700.4,51.0 L701.0,49.0 L701.6,49.3 L702.2,50.7 L702.8,49.7 L703.4,50.5 L704.0,49.8 L704.6,49.9 L705.2,50.2 L705.8,49.9 L706.4,49.7 L707.0,48.9 L707.6,49.7 L708.2,48.8 L708.7,48.6 L709.3,50.5 L709.9,49.7 L710.5,49.3 L711.1,48.1 L711.7,48.4 L712.3,49.3 L712.9,47.9 L713.5,50.4 L714.1,47.4 L714.7,47.6 L715.3,48.4 L715.9,49.6 L716.5,50.3 L717.1,49.2 L717.7,48.0 L718.3,49.5 L718.9,49.8 L719.4,49.3 L720.0,48.7 L720.6,49.6 L721.2,48.3 L721.8,49.0 L722.4,50.2 L723.0,49.7 L723.6,48.5 L724.2,47.4 L724.8,48.3 L725.4,48.1 L726.0,47.5 L726.6,49.0 L727.2,46.7 L727.8,48.9 L728.4,47.9 L729.0,47.9 L729.6,48.9 L730.2,47.9 L730.7,48.9 L731.3,48.5 L731.9,48.0 L732.5,48.7 L733.1,47.8 L733.7,48.5 L734.3,48.6 L734.9,48.8 L735.5,48.9 L736.1,48.8 L736.7,47.3 L737.3,48.8 L737.9,49.4 L738.5,49.6 L739.1,49.0 L739.7,47.7 L740.3,49.4 L740.9,48.6 L741.5,48.2 L742.0,48.3 L742.6,48.9 L743.2,49.3 L743.8,48.0 L744.4,47.9 L745.0,46.7 L745.6,47.4 L746.2,49.0 L746.8,48.5 L747.4,48.8 L748.0,48.3 L748.6,47.9 L749.2,49.3 L749.8,48.1 L750.4,47.8 L751.0,47.8 L751.6,48.3 L752.2,47.7 L752.7,48.2 L753.3,48.2 L753.9,48.1 L754.5,48.2 L755.1,47.3 L755.7,47.2 L756.3,48.7 L756.9,48.1 L757.5,46.8 L758.1,48.8 L758.7,47.1 L759.3,47.3 L759.9,48.9 L760.5,46.8 L761.1,48.0 L761.7,47.2 L762.3,47.7 L762.9,47.7 L763.5,49.2 L764.0,48.2 L764.6,48.5 L765.2,49.0 L765.8,48.5 L766.4,49.5 L767.0,49.9 L767.6,48.5 L768.2,48.8 L768.8,48.0 L769.4,48.7 L770.0,47.8 L770.6,46.4 L771.2,49.1 L771.8,49.5 L772.4,47.2 L773.0,49.9 L773.6,48.1 L774.2,48.5 L774.8,48.8 L775.3,48.8 L775.9,45.9 L776.5,48.1 L777.1,48.1 L777.7,48.4 L778.3,48.9 L778.9,50.4 L779.5,48.8 L780.1,49.1 L780.7,48.6 L781.3,48.0 L781.9,48.1 L782.5,47.5 L783.1,48.7 L783.7,49.3 L784.3,48.2 L784.9,46.6 L785.5,48.4 L786.0,46.9 L786.6,47.1 L787.2,47.6 L787.8,47.7 L788.4,46.2 L789.0,48.8 L789.6,46.6 L790.2,46.5 L790.8,46.3 L791.4,48.0 L792.0,46.3 L792.6,47.9 L793.2,47.9 L793.8,46.9 L794.4,48.7 L795.0,48.3 L795.6,47.0 L796.2,46.9 L796.8,46.7 L797.3,46.8 L797.9,47.6 L798.5,46.9 L799.1,48.3 L799.7,46.0 L800.3,48.6 L800.9,45.7 L801.5,48.6 L802.1,47.2 L802.7,46.0 L803.3,46.9 L803.9,47.1 L804.5,46.1 L805.1,46.4 L805.7,47.4 L806.3,45.6 L806.9,48.5 L807.5,46.3 L808.0,48.4 L808.6,46.9 L809.2,46.1 L809.8,45.8 L810.4,47.7 L811.0,45.7 L811.6,45.9 L812.2,45.8 L812.8,47.4 L813.4,46.6 L814.0,47.6 L814.6,47.4 L815.2,48.3 L815.8,45.7 L816.4,46.4 L817.0,47.3 L817.6,48.2 L818.2,47.0 L818.8,46.5 L819.3,48.5 L819.9,47.9 L820.5,47.4 L821.1,47.8 L821.7,45.4 L822.3,46.5 L822.9,46.8 L823.5,46.3 L824.1,45.4 L824.7,45.9 L825.3,47.3 L825.9,46.0 L826.5,47.7 L827.1,46.3 L827.7,46.7 L828.3,45.7 L828.9,47.0 L829.5,47.2 L830.1,48.0 L830.6,46.7 L831.2,45.7 L831.8,47.1 L832.4,46.9 L833.0,46.6 L833.6,45.4 L834.2,46.9 L834.8,45.5 L835.4,46.5 L836.0,46.5 L836.6,46.3 L837.2,45.9 L837.8,46.3 L838.4,47.0 L839.0,47.0 L839.6,46.3 L840.2,47.1 L840.8,46.4 L841.4,46.7 L841.9,48.8 L842.5,44.9 L843.1,44.1 L843.7,46.0 L844.3,46.5 L844.9,48.0 L845.5,46.9 L846.1,45.6 L846.7,48.1 L847.3,45.7 L847.9,46.0 L848.5,46.5 L849.1,45.9 L849.7,47.5 L850.3,46.3 L850.9,45.4 L851.5,46.0 L852.1,47.7 L852.6,44.9 L853.2,46.9 L853.8,45.4 L854.4,46.7 L855.0,45.9 L855.6,46.2 L856.2,45.7 L856.8,46.8 L857.4,47.0 L858.0,46.4 L858.6,45.4 L859.2,46.8 L859.8,47.5 L860.4,46.2 L861.0,46.7 L861.6,45.5 L862.2,45.7 L862.8,46.7 L863.4,46.9 L863.9,46.4 L864.5,46.1 L865.1,46.5 L865.7,45.5 L866.3,47.2 L866.9,46.2 L867.5,45.4 L868.1,46.2 L868.7,45.5 L869.3,46.4 L869.9,48.1 L870.5,46.5 L871.1,46.9 L871.7,46.4 L872.3,46.7 L872.9,46.6 L873.5,45.7 L874.1,46.5 L874.7,46.9 L875.2,47.3 L875.8,45.6 L876.4,46.1 L877.0,47.3 L877.6,45.8 L878.2,46.9 L878.8,49.2 L879.4,44.8 L880.0,48.8 L880.6,46.6 L881.2,47.0 L881.8,44.7 L882.4,45.6 L883.0,47.0 L883.6,46.6 L884.2,45.9 L884.8,46.5 L885.4,47.0 L885.9,47.9 L886.5,45.8 L887.1,45.9 L887.7,47.5 L888.3,47.3 L888.9,47.2 L889.5,46.6 L890.1,46.5 L890.7,46.7 L891.3,45.3 L891.9,45.8 L892.5,46.0 L893.1,45.3 L893.7,44.5 L894.3,44.4 L894.9,45.1 L895.5,45.0 L896.1,46.0 L896.7,46.0 L897.2,46.4 L897.8,45.6 L898.4,44.7 L899.0,45.7 L899.6,44.4 L900.2,44.8 L900.8,45.3 L901.4,45.4 L902.0,46.8 L902.6,44.5 L903.2,46.6 L903.8,45.6 L904.4,46.3 L905.0,46.7 L905.6,47.2 L906.2,46.2 L906.8,44.6 L907.4,45.5 L908.0,45.3 L908.5,45.8 L909.1,46.9 L909.7,46.2 L910.3,47.8 L910.9,46.5 L911.5,45.5 L912.1,44.8 L912.7,44.6 L913.3,45.3 L913.9,45.6 L914.5,45.5 L915.1,45.5 L915.7,46.4 L916.3,45.5 L916.9,46.2 L917.5,44.1 L918.1,45.1 L918.7,45.0 L919.2,46.1 L919.8,44.8 L920.4,44.8 L921.0,47.3 L921.6,45.9 L922.2,46.7 L922.8,45.9 L923.4,46.7 L924.0,46.2 L924.6,46.0 L925.2,46.1 L925.8,45.6 L926.4,45.4 L927.0,46.6 L927.6,45.0 L928.2,46.1 L928.8,45.0 L929.4,46.2 L930.0,46.7 L930.5,46.6 L931.1,46.4 L931.7,46.6 L932.3,45.4 L932.9,45.6 L933.5,45.6 L934.1,46.0 L934.7,45.8 L935.3,46.0 L935.9,45.3 L936.5,45.2 L937.1,45.3 L937.7,45.9 L938.3,45.5 L938.9,45.2 L939.5,45.2 L940.1,46.7 L940.7,45.4 L941.2,45.7 L941.8,44.8 L942.4,45.2 L943.0,46.9 L943.6,46.1 L944.2,48.1 L944.8,46.3 L945.4,45.6 L946.0,44.8 L946.6,46.6 L947.2,47.0 L947.8,47.7 L948.4,44.9 L949.0,47.4 L949.6,43.5 L950.2,45.9 L950.8,44.6 L951.4,46.3 L952.0,45.7 L952.5,45.2 L953.1,45.0 L953.7,46.3 L954.3,46.5 L954.9,44.9 L955.5,44.6 L956.1,46.4 L956.7,45.7 L957.3,44.6 L957.9,45.6 L958.5,47.1 L959.1,45.1 L959.7,44.1 L960.3,44.7 L960.9,46.6 L961.5,45.9 L962.1,45.6 L962.7,46.0 L963.3,45.2 L963.8,44.8 L964.4,46.5 L965.0,45.4 L965.6,46.3 L966.2,46.4 L966.8,45.9 L967.4,46.9 L968.0,45.8 L968.6,45.0 L969.2,47.0 L969.8,44.8 L970.4,45.6 L971.0,45.9 L971.6,45.2 L972.2,45.0 L972.8,44.4 L973.4,46.7 L974.0,46.7 L974.5,45.3 L975.1,45.6 L975.7,46.1 L976.3,45.7 L976.9,45.0 L977.5,46.2 L978.1,46.2 L978.7,47.1 L979.3,45.4 L979.9,44.6 L980.5,45.6 L981.1,45.8 L981.7,46.3 L982.3,46.1 L982.9,45.8 L983.5,46.2 L984.1,46.5 L984.7,46.1 L985.3,46.0 L985.8,45.3 L986.4,45.4 L987.0,46.0 L987.6,46.2 L988.2,47.0 L988.8,46.1 L989.4,46.2 L990.0,46.5 L990.6,46.0 L991.2,45.7" stroke="#404040" stroke-width="6.4"/>
</g>
<g clip-path="url(#ca)" fill="none" stroke="#ff0000" stroke-width="3.0">
<path d="M158.7,573.4 L164.6,572.9 L170.6,572.3 L176.5,571.8 L182.5,571.3 L188.4,570.8 L194.4,570.3 L200.3,569.9 L206.3,569.5 L212.2,569.1 L218.2,568.8 L224.1,568.5 L230.1,568.2 L236.0,567.9 L241.9,567.7 L247.9,567.4 L253.8,567.2 L259.8,567.0 L265.7,566.8 L271.7,566.6 L277.6,566.4 L283.6,566.2 L289.5,565.9 L295.5,565.7 L301.4,565.5 L307.4,565.3 L313.3,565.1 L319.3,564.8 L325.2,564.6 L331.1,564.3 L337.1,564.1 L343.0,563.8 L349.0,563.5 L354.9,563.2 L360.9,562.9 L366.8,562.7 L372.8,562.4 L378.7,562.1 L384.7,561.8 L390.6,561.5 L396.6,561.2 L402.5,560.9 L408.4,560.6 L414.4,560.2 L420.3,559.9 L426.3,559.6 L432.2,559.3 L438.2,559.0 L444.1,558.7 L450.1,558.5 L456.0,558.2 L462.0,557.9 L467.9,557.6 L473.9,557.3 L479.8,557.0 L485.8,556.8 L491.7,556.5 L497.6,556.3 L503.6,556.0 L509.5,555.8 L515.5,555.5 L521.4,555.3 L527.4,555.0 L533.3,554.8 L539.3,554.6 L545.2,554.3 L551.2,554.1 L557.1,553.9 L563.1,553.6 L569.0,553.4 L575.0,553.2 L580.9,552.9 L586.8,552.7 L592.8,552.5 L598.7,552.3 L604.7,552.0 L610.6,551.8 L616.6,551.6 L622.5,551.4 L628.5,551.1 L634.4,550.9 L640.4,550.7 L646.3,550.4 L652.3,550.2 L658.2,550.0 L664.1,549.8 L670.1,549.6 L676.0,549.3 L682.0,549.1 L687.9,548.9 L693.9,548.7 L699.8,548.5 L705.8,548.3 L711.7,548.1 L717.7,548.0 L723.6,547.8 L729.6,547.6 L735.5,547.4 L741.5,547.3 L747.4,547.1 L753.3,546.9 L759.3,546.8 L765.2,546.6 L771.2,546.5 L777.1,546.3 L783.1,546.1 L789.0,546.0 L795.0,545.9 L800.9,545.7 L806.9,545.6 L812.8,545.4 L818.8,545.3 L824.7,545.1 L830.6,545.0 L836.6,544.9 L842.5,544.7 L848.5,544.6 L854.4,544.5 L860.4,544.3 L866.3,544.2 L872.3,544.1 L878.2,543.9 L884.2,543.8 L890.1,543.7 L896.1,543.5 L902.0,543.4 L908.0,543.3 L913.9,543.2 L919.8,543.0 L925.8,542.9 L931.7,542.8 L937.7,542.7 L943.6,542.6 L949.6,542.4 L955.5,542.3 L961.5,542.2 L967.4,542.1 L973.4,542.0 L979.3,541.9 L985.3,541.8 L991.2,541.7" stroke-dasharray="12 9.5" stroke-dashoffset="3"/>
<path d="M158.7,573.4 L164.6,572.6 L170.6,571.8 L176.5,571.0 L182.5,570.2 L188.4,569.5 L194.4,568.8 L200.3,568.1 L206.3,567.5 L212.2,567.0 L218.2,566.5 L224.1,566.0 L230.1,565.5 L236.0,565.1 L241.9,564.7 L247.9,564.3 L253.8,563.9 L259.8,563.6 L265.7,563.2 L271.7,562.9 L277.6,562.5 L283.6,562.2 L289.5,561.9 L295.5,561.5 L301.4,561.2 L307.4,560.9 L313.3,560.5 L319.3,560.2 L325.2,559.8 L331.1,559.5 L337.1,559.1 L343.0,558.7 L349.0,558.4 L354.9,558.0 L360.9,557.6 L366.8,557.3 L372.8,556.9 L378.7,556.5 L384.7,556.2 L390.6,555.8 L396.6,555.4 L402.5,555.1 L408.4,554.7 L414.4,554.3 L420.3,554.0 L426.3,553.6 L432.2,553.3 L438.2,552.9 L444.1,552.6 L450.1,552.2 L456.0,551.9 L462.0,551.6 L467.9,551.2 L473.9,550.9 L479.8,550.6 L485.8,550.2 L491.7,549.9 L497.6,549.6 L503.6,549.3 L509.5,549.0 L515.5,548.7 L521.4,548.3 L527.4,548.0 L533.3,547.7 L539.3,547.4 L545.2,547.1 L551.2,546.9 L557.1,546.6 L563.1,546.3 L569.0,546.0 L575.0,545.7 L580.9,545.4 L586.8,545.1 L592.8,544.9 L598.7,544.6 L604.7,544.3 L610.6,544.0 L616.6,543.8 L622.5,543.5 L628.5,543.2 L634.4,543.0 L640.4,542.7 L646.3,542.4 L652.3,542.2 L658.2,541.9 L664.1,541.6 L670.1,541.4 L676.0,541.1 L682.0,540.9 L687.9,540.6 L693.9,540.4 L699.8,540.2 L705.8,539.9 L711.7,539.7 L717.7,539.5 L723.6,539.3 L729.6,539.1 L735.5,538.8 L741.5,538.6 L747.4,538.4 L753.3,538.2 L759.3,538.0 L765.2,537.8 L771.2,537.6 L777.1,537.4 L783.1,537.3 L789.0,537.1 L795.0,536.9 L800.9,536.7 L806.9,536.5 L812.8,536.3 L818.8,536.1 L824.7,536.0 L830.6,535.8 L836.6,535.6 L842.5,535.4 L848.5,535.2 L854.4,535.1 L860.4,534.9 L866.3,534.7 L872.3,534.5 L878.2,534.4 L884.2,534.2 L890.1,534.0 L896.1,533.8 L902.0,533.7 L908.0,533.5 L913.9,533.3 L919.8,533.2 L925.8,533.0 L931.7,532.8 L937.7,532.7 L943.6,532.5 L949.6,532.4 L955.5,532.2 L961.5,532.0 L967.4,531.9 L973.4,531.7 L979.3,531.6 L985.3,531.4 L991.2,531.3" stroke-dasharray="12 9.5" stroke-dashoffset="11"/>
<path d="M158.7,573.4 L164.6,572.0 L170.6,570.7 L176.5,569.4 L182.5,568.1 L188.4,566.8 L194.4,565.6 L200.3,564.4 L206.3,563.2 L212.2,562.0 L218.2,560.9 L224.1,559.8 L230.1,558.7 L236.0,557.6 L241.9,556.5 L247.9,555.5 L253.8,554.5 L259.8,553.6 L265.7,552.7 L271.7,551.8 L277.6,551.0 L283.6,550.3 L289.5,549.6 L295.5,548.9 L301.4,548.2 L307.4,547.5 L313.3,546.9 L319.3,546.2 L325.2,545.5 L331.1,544.8 L337.1,544.1 L343.0,543.4 L349.0,542.7 L354.9,542.0 L360.9,541.3 L366.8,540.5 L372.8,539.8 L378.7,539.1 L384.7,538.4 L390.6,537.7 L396.6,537.0 L402.5,536.3 L408.4,535.6 L414.4,534.9 L420.3,534.2 L426.3,533.5 L432.2,532.8 L438.2,532.0 L444.1,531.3 L450.1,530.6 L456.0,529.8 L462.0,529.1 L467.9,528.3 L473.9,527.5 L479.8,526.8 L485.8,526.0 L491.7,525.3 L497.6,524.6 L503.6,523.9 L509.5,523.1 L515.5,522.4 L521.4,521.7 L527.4,521.0 L533.3,520.3 L539.3,519.6 L545.2,518.9 L551.2,518.3 L557.1,517.7 L563.1,517.1 L569.0,516.5 L575.0,515.9 L580.9,515.4 L586.8,514.8 L592.8,514.2 L598.7,513.6 L604.7,513.0 L610.6,512.3 L616.6,511.6 L622.5,510.9 L628.5,510.2 L634.4,509.5 L640.4,508.8 L646.3,508.1 L652.3,507.5 L658.2,507.0 L664.1,506.5 L670.1,506.0 L676.0,505.5 L682.0,505.1 L687.9,504.6 L693.9,504.2 L699.8,503.8 L705.8,503.4 L711.7,503.1 L717.7,502.7 L723.6,502.3 L729.6,501.9 L735.5,501.6 L741.5,501.2 L747.4,500.9 L753.3,500.5 L759.3,500.2 L765.2,499.8 L771.2,499.5 L777.1,499.2 L783.1,498.9 L789.0,498.6 L795.0,498.2 L800.9,497.9 L806.9,497.6 L812.8,497.3 L818.8,497.0 L824.7,496.7 L830.6,496.4 L836.6,496.0 L842.5,495.7 L848.5,495.4 L854.4,495.1 L860.4,494.8 L866.3,494.4 L872.3,494.1 L878.2,493.8 L884.2,493.4 L890.1,493.1 L896.1,492.8 L902.0,492.5 L908.0,492.1 L913.9,491.8 L919.8,491.5 L925.8,491.1 L931.7,490.8 L937.7,490.5 L943.6,490.1 L949.6,489.8 L955.5,489.5 L961.5,489.1 L967.4,488.8 L973.4,488.5 L979.3,488.1 L985.3,487.8 L991.2,487.4" stroke-dasharray="12 9.5" stroke-dashoffset="7"/>
<path d="M158.7,573.4 L164.6,571.3 L170.6,569.3 L176.5,567.3 L182.5,565.4 L188.4,563.5 L194.4,561.6 L200.3,559.8 L206.3,558.1 L212.2,556.3 L218.2,554.7 L224.1,553.0 L230.1,551.4 L236.0,549.8 L241.9,548.2 L247.9,546.7 L253.8,545.3 L259.8,543.9 L265.7,542.6 L271.7,541.5 L277.6,540.4 L283.6,539.4 L289.5,538.4 L295.5,537.5 L301.4,536.6 L307.4,535.8 L313.3,534.9 L319.3,534.0 L325.2,533.0 L331.1,532.0 L337.1,531.0 L343.0,530.0 L349.0,528.9 L354.9,527.9 L360.9,526.9 L366.8,525.8 L372.8,524.8 L378.7,523.8 L384.7,522.8 L390.6,521.9 L396.6,520.9 L402.5,520.0 L408.4,519.1 L414.4,518.1 L420.3,517.2 L426.3,516.3 L432.2,515.3 L438.2,514.3 L444.1,513.4 L450.1,512.4 L456.0,511.3 L462.0,510.3 L467.9,509.3 L473.9,508.3 L479.8,507.3 L485.8,506.3 L491.7,505.3 L497.6,504.4 L503.6,503.5 L509.5,502.6 L515.5,501.7 L521.4,500.8 L527.4,499.9 L533.3,499.1 L539.3,498.2 L545.2,497.3 L551.2,496.5 L557.1,495.6 L563.1,494.8 L569.0,494.0 L575.0,493.1 L580.9,492.3 L586.8,491.5 L592.8,490.7 L598.7,489.9 L604.7,489.1 L610.6,488.3 L616.6,487.5 L622.5,486.7 L628.5,485.9 L634.4,485.1 L640.4,484.3 L646.3,483.5 L652.3,482.8 L658.2,482.0 L664.1,481.3 L670.1,480.5 L676.0,479.7 L682.0,479.0 L687.9,478.3 L693.9,477.5 L699.8,476.9 L705.8,476.2 L711.7,475.5 L717.7,474.9 L723.6,474.3 L729.6,473.8 L735.5,473.2 L741.5,472.7 L747.4,472.2 L753.3,471.6 L759.3,471.1 L765.2,470.6 L771.2,470.1 L777.1,469.5 L783.1,469.0 L789.0,468.4 L795.0,467.9 L800.9,467.4 L806.9,466.9 L812.8,466.4 L818.8,465.9 L824.7,465.5 L830.6,465.1 L836.6,464.7 L842.5,464.3 L848.5,463.9 L854.4,463.5 L860.4,463.2 L866.3,462.8 L872.3,462.4 L878.2,462.1 L884.2,461.7 L890.1,461.4 L896.1,461.0 L902.0,460.7 L908.0,460.4 L913.9,460.0 L919.8,459.7 L925.8,459.4 L931.7,459.2 L937.7,458.9 L943.6,458.6 L949.6,458.4 L955.5,458.1 L961.5,457.9 L967.4,457.7 L973.4,457.5 L979.3,457.3 L985.3,457.1 L991.2,457.0" stroke-dasharray="12 9.5" stroke-dashoffset="15"/>
<path d="M158.7,573.4 L164.6,570.5 L170.6,567.6 L176.5,564.7 L182.5,561.9 L188.4,559.2 L194.4,556.4 L200.3,553.8 L206.3,551.1 L212.2,548.6 L218.2,546.0 L224.1,543.5 L230.1,541.0 L236.0,538.5 L241.9,536.1 L247.9,533.8 L253.8,531.5 L259.8,529.2 L265.7,527.1 L271.7,525.0 L277.6,523.0 L283.6,521.1 L289.5,519.3 L295.5,517.5 L301.4,515.7 L307.4,514.0 L313.3,512.2 L319.3,510.5 L325.2,508.8 L331.1,507.1 L337.1,505.4 L343.0,503.8 L349.0,502.1 L354.9,500.5 L360.9,498.9 L366.8,497.3 L372.8,495.6 L378.7,493.9 L384.7,492.2 L390.6,490.5 L396.6,488.8 L402.5,487.0 L408.4,485.2 L414.4,483.5 L420.3,481.7 L426.3,480.0 L432.2,478.3 L438.2,476.7 L444.1,475.1 L450.1,473.5 L456.0,471.9 L462.0,470.4 L467.9,468.8 L473.9,467.3 L479.8,465.8 L485.8,464.4 L491.7,462.9 L497.6,461.5 L503.6,460.1 L509.5,458.8 L515.5,457.4 L521.4,456.1 L527.4,454.8 L533.3,453.5 L539.3,452.1 L545.2,450.8 L551.2,449.3 L557.1,447.9 L563.1,446.4 L569.0,444.8 L575.0,443.3 L580.9,441.8 L586.8,440.4 L592.8,439.0 L598.7,437.7 L604.7,436.5 L610.6,435.3 L616.6,434.3 L622.5,433.2 L628.5,432.3 L634.4,431.3 L640.4,430.4 L646.3,429.4 L652.3,428.5 L658.2,427.6 L664.1,426.7 L670.1,425.8 L676.0,424.9 L682.0,424.0 L687.9,423.2 L693.9,422.3 L699.8,421.5 L705.8,420.7 L711.7,419.9 L717.7,419.1 L723.6,418.3 L729.6,417.6 L735.5,416.9 L741.5,416.2 L747.4,415.5 L753.3,414.8 L759.3,414.1 L765.2,413.4 L771.2,412.7 L777.1,412.0 L783.1,411.2 L789.0,410.5 L795.0,409.7 L800.9,409.0 L806.9,408.3 L812.8,407.6 L818.8,407.0 L824.7,406.4 L830.6,405.8 L836.6,405.3 L842.5,404.7 L848.5,404.2 L854.4,403.6 L860.4,403.1 L866.3,402.6 L872.3,402.0 L878.2,401.5 L884.2,401.0 L890.1,400.5 L896.1,400.0 L902.0,399.6 L908.0,399.1 L913.9,398.6 L919.8,398.2 L925.8,397.8 L931.7,397.3 L937.7,396.9 L943.6,396.5 L949.6,396.2 L955.5,395.8 L961.5,395.5 L967.4,395.1 L973.4,394.8 L979.3,394.5 L985.3,394.2 L991.2,394.0" stroke-dasharray="12 9.5" stroke-dashoffset="1"/>
<path d="M158.7,573.4 L164.6,569.3 L170.6,565.2 L176.5,561.1 L182.5,557.0 L188.4,553.0 L194.4,549.0 L200.3,545.1 L206.3,541.1 L212.2,537.3 L218.2,533.4 L224.1,529.5 L230.1,525.6 L236.0,521.8 L241.9,518.0 L247.9,514.2 L253.8,510.5 L259.8,506.9 L265.7,503.4 L271.7,500.0 L277.6,496.6 L283.6,493.4 L289.5,490.2 L295.5,487.0 L301.4,483.9 L307.4,480.9 L313.3,477.9 L319.3,475.0 L325.2,472.1 L331.1,469.3 L337.1,466.5 L343.0,463.7 L349.0,461.1 L354.9,458.4 L360.9,455.8 L366.8,453.2 L372.8,450.6 L378.7,448.0 L384.7,445.4 L390.6,442.8 L396.6,440.2 L402.5,437.7 L408.4,435.1 L414.4,432.6 L420.3,430.1 L426.3,427.6 L432.2,425.2 L438.2,422.9 L444.1,420.5 L450.1,418.2 L456.0,415.9 L462.0,413.6 L467.9,411.4 L473.9,409.2 L479.8,407.0 L485.8,404.9 L491.7,402.9 L497.6,400.9 L503.6,398.9 L509.5,397.0 L515.5,395.1 L521.4,393.3 L527.4,391.4 L533.3,389.6 L539.3,387.8 L545.2,386.1 L551.2,384.3 L557.1,382.5 L563.1,380.7 L569.0,378.9 L575.0,377.2 L580.9,375.5 L586.8,373.8 L592.8,372.2 L598.7,370.6 L604.7,369.0 L610.6,367.5 L616.6,366.1 L622.5,364.6 L628.5,363.2 L634.4,361.9 L640.4,360.5 L646.3,359.3 L652.3,358.0 L658.2,356.8 L664.1,355.7 L670.1,354.6 L676.0,353.6 L682.0,352.5 L687.9,351.5 L693.9,350.6 L699.8,349.6 L705.8,348.7 L711.7,347.8 L717.7,346.9 L723.6,346.1 L729.6,345.3 L735.5,344.5 L741.5,343.7 L747.4,342.9 L753.3,342.2 L759.3,341.4 L765.2,340.7 L771.2,339.9 L777.1,339.1 L783.1,338.4 L789.0,337.6 L795.0,336.8 L800.9,336.0 L806.9,335.3 L812.8,334.6 L818.8,333.9 L824.7,333.3 L830.6,332.8 L836.6,332.2 L842.5,331.7 L848.5,331.1 L854.4,330.6 L860.4,330.0 L866.3,329.5 L872.3,329.0 L878.2,328.5 L884.2,328.0 L890.1,327.5 L896.1,327.0 L902.0,326.5 L908.0,326.1 L913.9,325.6 L919.8,325.2 L925.8,324.8 L931.7,324.4 L937.7,324.0 L943.6,323.6 L949.6,323.3 L955.5,322.9 L961.5,322.6 L967.4,322.3 L973.4,322.0 L979.3,321.8 L985.3,321.5 L991.2,321.3" stroke-dasharray="12 9.5" stroke-dashoffset="9"/>
<path d="M158.7,573.4 L164.6,565.8 L170.6,558.4 L176.5,551.1 L182.5,544.0 L188.4,537.0 L194.4,530.2 L200.3,523.6 L206.3,517.1 L212.2,510.9 L218.2,504.8 L224.1,498.9 L230.1,493.2 L236.0,487.7 L241.9,482.3 L247.9,476.9 L253.8,471.6 L259.8,466.3 L265.7,461.0 L271.7,455.6 L277.6,450.2 L283.6,444.7 L289.5,439.3 L295.5,433.9 L301.4,428.5 L307.4,423.1 L313.3,417.9 L319.3,412.6 L325.2,407.5 L331.1,402.4 L337.1,397.3 L343.0,392.1 L349.0,387.1 L354.9,382.1 L360.9,377.2 L366.8,372.4 L372.8,367.8 L378.7,363.4 L384.7,359.2 L390.6,355.0 L396.6,350.9 L402.5,347.0 L408.4,343.1 L414.4,339.4 L420.3,335.7 L426.3,332.3 L432.2,328.9 L438.2,325.7 L444.1,322.6 L450.1,319.7 L456.0,316.8 L462.0,314.1 L467.9,311.4 L473.9,308.8 L479.8,306.2 L485.8,303.6 L491.7,301.0 L497.6,298.5 L503.6,295.9 L509.5,293.4 L515.5,290.9 L521.4,288.5 L527.4,286.1 L533.3,283.8 L539.3,281.5 L545.2,279.3 L551.2,277.2 L557.1,275.1 L563.1,273.0 L569.0,270.9 L575.0,268.9 L580.9,267.0 L586.8,265.2 L592.8,263.5 L598.7,261.9 L604.7,260.4 L610.6,259.1 L616.6,257.8 L622.5,256.5 L628.5,255.4 L634.4,254.2 L640.4,253.2 L646.3,252.1 L652.3,251.1 L658.2,250.2 L664.1,249.2 L670.1,248.3 L676.0,247.5 L682.0,246.6 L687.9,245.8 L693.9,245.1 L699.8,244.3 L705.8,243.5 L711.7,242.8 L717.7,242.0 L723.6,241.3 L729.6,240.6 L735.5,239.9 L741.5,239.2 L747.4,238.5 L753.3,237.9 L759.3,237.2 L765.2,236.6 L771.2,236.0 L777.1,235.4 L783.1,234.8 L789.0,234.3 L795.0,233.7 L800.9,233.2 L806.9,232.6 L812.8,232.2 L818.8,231.7 L824.7,231.3 L830.6,230.9 L836.6,230.6 L842.5,230.2 L848.5,229.8 L854.4,229.4 L860.4,229.1 L866.3,228.7 L872.3,228.4 L878.2,228.0 L884.2,227.7 L890.1,227.4 L896.1,227.1 L902.0,226.7 L908.0,226.5 L913.9,226.2 L919.8,225.9 L925.8,225.6 L931.7,225.4 L937.7,225.1 L943.6,224.9 L949.6,224.7 L955.5,224.5 L961.5,224.3 L967.4,224.2 L973.4,224.0 L979.3,223.9 L985.3,223.8 L991.2,223.7" stroke-dasharray="12 9" stroke-dashoffset="5"/>
<path d="M158.7,573.4 L164.6,554.9 L170.6,536.9 L176.5,519.3 L182.5,502.3 L188.4,485.7 L194.4,469.7 L200.3,454.1 L206.3,438.9 L212.2,424.1 L218.2,409.6 L224.1,395.1 L230.1,380.8 L236.0,366.6 L241.9,352.7 L247.9,339.1 L253.8,325.9 L259.8,313.1 L265.7,300.8 L271.7,289.1 L277.6,277.7 L283.6,266.5 L289.5,255.5 L295.5,244.9 L301.4,234.6 L307.4,224.8 L313.3,215.4 L319.3,206.6 L325.2,198.3 L331.1,190.4 L337.1,182.8 L343.0,175.5 L349.0,168.5 L354.9,161.8 L360.9,155.4 L366.8,149.4 L372.8,143.7 L378.7,138.3 L384.7,133.3 L390.6,128.4 L396.6,123.8 L402.5,119.3 L408.4,115.0 L414.4,111.0 L420.3,107.2 L426.3,103.7 L432.2,100.5 L438.2,97.5 L444.1,94.7 L450.1,92.1 L456.0,89.7 L462.0,87.4 L467.9,85.2 L473.9,83.1 L479.8,81.0 L485.8,79.1 L491.7,77.1 L497.6,75.2 L503.6,73.3 L509.5,71.4 L515.5,69.6 L521.4,67.9 L527.4,66.2 L533.3,64.7 L539.3,63.3 L545.2,62.1 L551.2,61.0 L557.1,60.0 L563.1,59.1 L569.0,58.2 L575.0,57.3 L580.9,56.6 L586.8,55.9 L592.8,55.3 L598.7,54.7 L604.7,54.2 L610.6,53.8 L616.6,53.5 L622.5,53.1 L628.5,52.8 L634.4,52.5 L640.4,52.2 L646.3,52.0 L652.3,51.7 L658.2,51.5 L664.1,51.2 L670.1,50.9 L676.0,50.7 L682.0,50.4 L687.9,50.2 L693.9,49.9 L699.8,49.7 L705.8,49.5 L711.7,49.3 L717.7,49.1 L723.6,48.9 L729.6,48.8 L735.5,48.6 L741.5,48.5 L747.4,48.3 L753.3,48.2 L759.3,48.0 L765.2,47.9 L771.2,47.7 L777.1,47.6 L783.1,47.5 L789.0,47.3 L795.0,47.2 L800.9,47.1 L806.9,46.9 L812.8,46.8 L818.8,46.7 L824.7,46.7 L830.6,46.6 L836.6,46.6 L842.5,46.5 L848.5,46.5 L854.4,46.4 L860.4,46.4 L866.3,46.4 L872.3,46.3 L878.2,46.3 L884.2,46.2 L890.1,46.2 L896.1,46.2 L902.0,46.1 L908.0,46.1 L913.9,46.1 L919.8,46.0 L925.8,46.0 L931.7,46.0 L937.7,46.0 L943.6,46.0 L949.6,45.9 L955.5,45.9 L961.5,45.9 L967.4,45.9 L973.4,45.9 L979.3,45.9 L985.3,45.9 L991.2,45.9" stroke-dasharray="12 9" stroke-dashoffset="0"/>
</g>
<g stroke="#000" stroke-width="3" fill="none" stroke-linecap="butt">
<path d="M158.7,21.9 V574.9"/>
<path d="M157.2,573.4 H992.8"/>
<path d="M144.2,573.4 H158.7M144.2,500.0 H158.7M144.2,426.6 H158.7M144.2,353.2 H158.7M144.2,279.8 H158.7M144.2,206.3 H158.7M144.2,132.9 H158.7M144.2,59.5 H158.7M150.2,536.7 H158.7M150.2,463.3 H158.7M150.2,389.9 H158.7M150.2,316.5 H158.7M150.2,243.1 H158.7M150.2,169.6 H158.7M150.2,96.2 H158.7M150.2,22.8 H158.7M158.7,573.4 V588.0M214.2,573.4 V588.0M269.7,573.4 V588.0M325.2,573.4 V588.0M380.7,573.4 V588.0M436.2,573.4 V588.0M491.7,573.4 V588.0M547.2,573.4 V588.0M602.7,573.4 V588.0M658.2,573.4 V588.0M713.7,573.4 V588.0M769.2,573.4 V588.0M824.7,573.4 V588.0M880.2,573.4 V588.0M935.7,573.4 V588.0M991.2,573.4 V588.0"/>
</g>
<g font-family="Liberation Sans, sans-serif" fill="#000">
<g font-size="34.3" text-anchor="end">
<text x="136.5" y="582.2">0.0</text>
<text x="136.5" y="508.8">0.1</text>
<text x="136.5" y="435.4">0.2</text>
<text x="136.5" y="362.0">0.3</text>
<text x="136.5" y="288.6">0.4</text>
<text x="136.5" y="215.1">0.5</text>
<text x="136.5" y="141.7">0.6</text>
<text x="136.5" y="68.3">0.7</text>
</g>
<g font-size="34.5" text-anchor="middle">
<text x="158.7" y="620.6">0</text>
<text x="214.2" y="620.6">1</text>
<text x="269.7" y="620.6">2</text>
<text x="325.2" y="620.6">3</text>
<text x="380.7" y="620.6">4</text>
<text x="436.2" y="620.6">5</text>
<text x="491.7" y="620.6">6</text>
<text x="547.2" y="620.6">7</text>
<text x="602.7" y="620.6">8</text>
<text x="658.2" y="620.6">9</text>
<text x="713.7" y="620.6">10</text>
<text x="769.2" y="620.6">11</text>
<text x="824.7" y="620.6">12</text>
<text x="880.2" y="620.6">13</text>
<text x="935.7" y="620.6">14</text>
<text x="991.2" y="620.6">15</text>
</g>
<text x="487" y="676.2" font-size="34" textLength="160" lengthAdjust="spacingAndGlyphs">Time (min)</text>
<text x="3" y="31.8" font-size="38.5" textLength="44.5" lengthAdjust="spacingAndGlyphs">(a)</text>
<text x="3" y="699.8" font-size="38.5" textLength="44.5" lengthAdjust="spacingAndGlyphs">(b)</text>
<text transform="translate(44.7,356.6) rotate(-90)" font-size="35" textLength="150.5" lengthAdjust="spacingAndGlyphs">ΔA<tspan font-size="21" dy="12">534</tspan><tspan dy="-12">−A</tspan><tspan font-size="21" dy="12">700</tspan></text>
<text x="165.5" y="48.4" font-size="27.5" textLength="146" lengthAdjust="spacingAndGlyphs">[H<tspan font-size="16.5" dy="9.3">2</tspan><tspan dy="-9.3">S] (ppm)</tspan></text>
<text x="219" y="86.4" font-size="24.5">0.5</text>
<text x="219" y="117.4" font-size="24.5">1</text>
<text x="219" y="148.4" font-size="24.5">5</text>
<text x="219" y="179.3" font-size="24.5">10</text>
<text x="219" y="210.3" font-size="24.5">25</text>
<text x="219" y="241.3" font-size="24.5">50</text>
<text x="219" y="272.3" font-size="24.5">100</text>
<text x="219" y="303.3" font-size="24.5">250</text>
<text x="219" y="334.4" font-size="24.5">fit</text>
</g>
<g fill="none" stroke-linecap="round" stroke-width="5.4">
<path d="M165.2,79.8 H213.2" stroke="#d8d8d8"/>
<path d="M165.2,110.8 H213.2" stroke="#c8c8c8"/>
<path d="M165.2,141.8 H213.2" stroke="#b4b4b4"/>
<path d="M165.2,172.7 H213.2" stroke="#a0a0a0"/>
<path d="M165.2,203.7 H213.2" stroke="#8a8a8a"/>
<path d="M165.2,234.7 H213.2" stroke="#747474"/>
<path d="M165.2,265.7 H213.2" stroke="#5a5a5a"/>
<path d="M165.2,296.7 H213.2" stroke="#404040"/>
</g>
<path d="M164,328 H202" stroke="#ff0000" stroke-width="3" stroke-dasharray="13.3 10.8" fill="none"/>
<g clip-path="url(#cb)">
<path d="M143.0,724.0 L144.4,727.8 L145.8,731.5 L147.2,735.3 L148.6,739.0 L150.0,742.8 L151.3,746.6 L152.7,750.3 L154.1,754.1 L155.4,757.9 L156.8,761.7 L158.1,765.4 L159.5,769.2 L160.8,773.0 L162.1,776.8 L163.4,780.6 L164.7,784.4 L166.0,788.2 L167.3,792.0 L168.6,795.8 L170.0,799.5 L171.4,803.3 L172.8,807.1 L174.3,810.8 L175.7,814.5 L177.2,818.3 L178.6,822.0 L180.1,825.8 L181.5,829.5 L183.0,833.2 L184.4,837.0 L185.9,840.7 L187.3,844.4 L188.8,848.2 L190.2,851.9 L191.7,855.7 L193.1,859.4 L194.5,863.2 L195.9,866.9 L197.4,870.7 L198.9,874.4 L200.4,878.1 L201.9,881.8 L203.4,885.5 L205.0,889.2 L206.5,892.9 L208.1,896.6 L209.6,900.3 L211.1,904.0 L212.6,907.8 L214.1,911.5 L215.7,915.2 L217.2,918.9 L218.8,922.6 L220.4,926.3 L222.0,929.9 L223.7,933.6 L225.3,937.3 L227.0,940.9 L228.6,944.6 L230.3,948.2 L232.0,951.8 L233.7,955.5 L235.5,959.1 L237.2,962.7 L239.0,966.3 L240.7,969.9 L242.5,973.5 L244.3,977.1 L246.1,980.7 L247.9,984.2 L249.8,987.8 L251.7,991.3 L253.6,994.9 L255.5,998.4 L257.5,1001.9 L259.4,1005.4 L261.4,1008.8 L263.5,1012.3 L265.5,1015.8 L267.6,1019.2 L269.7,1022.6 L271.9,1026.0 L274.1,1029.4 L276.3,1032.7 L278.5,1036.0 L280.8,1039.3 L283.2,1042.5 L285.5,1045.7 L288.0,1048.9 L290.5,1052.1 L292.9,1055.3 L295.4,1058.4 L298.0,1061.5 L300.5,1064.7 L303.0,1067.8 L305.4,1071.0 L307.9,1074.2 L310.3,1077.3 L312.8,1080.5 L315.2,1083.7 L317.7,1086.9 L320.1,1090.1 L322.6,1093.2 L325.1,1096.4 L327.6,1099.5 L330.1,1102.6 L332.6,1105.7 L335.2,1108.8 L337.8,1111.9 L340.3,1115.0 L342.9,1118.0 L345.6,1121.1 L348.2,1124.1 L350.9,1127.0 L353.7,1130.0 L356.4,1132.9 L359.2,1135.8 L362.0,1138.7 L364.8,1141.5 L367.7,1144.3 L370.6,1147.1 L373.5,1149.8 L376.5,1152.5 L379.6,1155.1 L382.6,1157.7 L385.7,1160.2 L388.9,1162.7 L392.1,1165.1 L395.3,1167.5 L398.5,1169.9 L401.8,1172.2 L405.1,1174.5 L408.4,1176.8 L411.7,1179.1 L415.0,1181.3 L418.3,1183.6 L421.7,1185.8 L425.0,1188.0 L428.4,1190.1 L431.9,1192.2 L435.4,1194.1 L438.9,1196.0 L442.5,1197.9 L446.0,1199.8 L449.6,1201.6 L453.2,1203.4 L456.8,1205.1 L460.4,1206.8 L464.1,1208.5 L467.7,1210.1 L471.4,1211.7 L475.1,1213.3 L478.8,1214.8 L482.6,1216.3 L486.3,1217.7 L490.1,1219.1 L493.8,1220.5 L497.6,1221.9 L501.4,1223.2 L505.2,1224.3 L509.1,1225.5 L513.0,1226.5 L516.8,1227.5 L520.7,1228.5 L524.7,1229.3 L528.6,1230.1 L532.5,1230.8 L536.5,1231.6 L540.4,1232.3 L544.4,1233.0 L548.3,1233.8 L552.3,1234.5 L556.2,1235.1 L560.2,1235.8 L564.1,1236.5 L568.1,1237.1 L572.1,1237.8 L576.0,1238.4 L580.0,1239.0 L584.0,1239.5 L587.9,1240.0 L591.9,1240.5 L595.9,1241.0 L599.9,1241.5 L603.9,1241.9 L607.9,1242.3 L611.9,1242.5 L615.9,1242.6 L619.9,1242.8 L623.9,1242.9 L627.9,1243.0 L631.9,1243.1 L635.9,1243.2 L639.9,1243.2 L643.9,1243.3 L647.9,1243.3 L652.0,1243.4 L656.0,1243.4 L660.0,1243.4 L730.0,1243.4 L726.0,1243.3 L722.0,1243.2 L718.1,1243.0 L714.1,1242.8 L710.1,1242.6 L706.1,1242.4 L702.2,1242.1 L698.2,1241.9 L694.2,1241.6 L690.3,1241.2 L686.3,1240.8 L682.3,1240.4 L678.4,1240.0 L674.4,1239.5 L670.5,1239.0 L666.6,1238.4 L662.6,1237.8 L658.7,1237.2 L654.8,1236.5 L650.9,1235.8 L646.9,1235.1 L643.0,1234.4 L639.1,1233.7 L635.2,1233.0 L631.3,1232.2 L627.4,1231.5 L623.5,1230.8 L619.5,1230.0 L615.6,1229.3 L611.7,1228.6 L607.8,1227.9 L603.9,1227.2 L600.0,1226.5 L596.1,1225.7 L592.1,1225.0 L588.2,1224.3 L584.3,1223.6 L580.4,1222.9 L576.4,1222.1 L572.6,1221.3 L568.7,1220.4 L564.8,1219.5 L561.0,1218.5 L557.2,1217.4 L553.4,1216.2 L549.5,1215.0 L545.8,1213.7 L542.0,1212.3 L538.3,1210.9 L534.6,1209.4 L531.0,1207.9 L527.4,1206.1 L523.9,1204.2 L520.4,1202.3 L516.9,1200.4 L513.4,1198.6 L509.9,1196.7 L506.4,1194.8 L502.9,1192.8 L499.5,1190.8 L496.0,1188.8 L492.6,1186.7 L489.3,1184.6 L485.9,1182.5 L482.6,1180.2 L479.4,1178.0 L476.1,1175.6 L472.9,1173.3 L469.7,1171.0 L466.4,1168.6 L463.2,1166.3 L460.1,1163.8 L457.0,1161.3 L454.0,1158.8 L451.0,1156.2 L448.0,1153.5 L445.1,1150.8 L442.3,1148.0 L439.5,1145.1 L436.7,1142.3 L433.9,1139.5 L431.1,1136.7 L428.2,1133.9 L425.4,1131.0 L422.6,1128.2 L419.9,1125.3 L417.2,1122.4 L414.5,1119.5 L411.8,1116.5 L409.2,1113.5 L406.6,1110.5 L404.1,1107.4 L401.5,1104.4 L399.0,1101.3 L396.6,1098.1 L394.2,1095.0 L391.8,1091.8 L389.4,1088.6 L387.0,1085.4 L384.7,1082.2 L382.4,1078.9 L380.1,1075.7 L377.8,1072.4 L375.6,1069.1 L373.4,1065.8 L371.2,1062.5 L369.0,1059.2 L366.8,1055.8 L364.7,1052.5 L362.6,1049.1 L360.5,1045.7 L358.5,1042.3 L356.4,1038.9 L354.4,1035.4 L352.4,1032.0 L350.4,1028.5 L348.5,1025.1 L346.5,1021.6 L344.5,1018.2 L342.6,1014.7 L340.6,1011.2 L338.7,1007.7 L336.8,1004.2 L334.9,1000.7 L333.0,997.2 L331.2,993.7 L329.3,990.2 L327.5,986.7 L325.7,983.1 L323.9,979.6 L322.1,976.0 L320.3,972.4 L318.5,968.9 L316.8,965.3 L315.0,961.7 L313.3,958.2 L311.6,954.6 L309.9,951.0 L308.2,947.4 L306.5,943.8 L304.8,940.2 L303.1,936.6 L301.4,932.9 L299.8,929.3 L298.2,925.7 L296.6,922.0 L295.1,918.3 L293.6,914.7 L292.2,910.9 L290.8,907.2 L289.3,903.5 L287.9,899.8 L286.4,896.1 L284.9,892.4 L283.3,888.8 L281.8,885.1 L280.3,881.4 L278.7,877.7 L277.2,874.1 L275.7,870.4 L274.2,866.7 L272.7,863.0 L271.2,859.3 L269.7,855.6 L268.3,851.9 L266.8,848.2 L265.4,844.5 L264.0,840.8 L262.5,837.1 L261.2,833.3 L259.8,829.6 L258.4,825.9 L257.0,822.2 L255.6,818.4 L254.2,814.7 L252.8,811.0 L251.3,807.3 L249.9,803.6 L248.4,799.9 L247.0,796.2 L245.6,792.4 L244.2,788.7 L242.9,785.0 L241.6,781.2 L240.3,777.4 L239.0,773.7 L237.7,769.9 L236.5,766.1 L235.3,762.3 L234.2,758.5 L233.0,754.7 L231.9,750.9 L230.9,747.0 L229.8,743.2 L228.7,739.3 L227.7,735.5 L226.6,731.7 L225.6,727.8 L224.5,724.0Z" fill="#c4c4c4"/>
<path d="M331.0,724.0 L331.8,726.7 L332.7,729.5 L333.8,732.2 L335.0,734.9 L336.1,737.6 L337.3,740.3 L338.5,743.0 L339.7,745.7 L340.8,748.4 L342.0,751.1 L343.2,753.8 L344.4,756.5 L345.6,759.2 L346.8,761.9 L347.9,764.6 L349.1,767.3 L350.2,770.0 L351.3,772.7 L352.3,775.4 L353.3,778.1 L354.3,780.9 L355.4,783.6 L356.4,786.3 L357.5,789.0 L358.7,791.7 L359.9,794.4 L361.2,797.0 L362.4,799.7 L363.6,802.3 L364.9,805.0 L366.0,807.7 L367.2,810.4 L368.3,813.1 L369.4,815.8 L370.5,818.5 L371.4,821.2 L372.4,823.8 L373.5,826.5 L374.6,829.2 L375.6,831.8 L376.7,834.5 L377.9,837.1 L379.0,839.8 L380.1,842.5 L381.2,845.1 L382.3,847.8 L383.3,850.4 L384.4,853.1 L385.4,855.7 L386.5,858.4 L387.5,861.0 L388.5,863.7 L389.6,866.3 L390.6,869.0 L391.6,871.7 L392.7,874.3 L393.7,877.0 L394.7,879.6 L395.7,882.3 L396.7,884.9 L397.7,887.6 L398.7,890.2 L399.8,892.8 L400.8,895.5 L401.9,898.1 L402.9,900.7 L404.0,903.4 L405.1,906.0 L406.1,908.6 L407.2,911.2 L408.3,913.8 L409.4,916.4 L410.6,919.0 L411.8,921.6 L413.0,924.2 L414.2,926.8 L415.4,929.4 L416.6,932.0 L417.8,934.5 L419.0,937.1 L420.2,939.7 L421.5,942.3 L422.7,944.8 L424.0,947.4 L425.2,949.9 L426.5,952.5 L427.8,955.0 L429.1,957.6 L430.4,960.1 L431.7,962.6 L433.0,965.2 L434.3,967.7 L435.6,970.2 L436.9,972.8 L438.2,975.3 L439.6,977.8 L440.9,980.3 L442.3,982.8 L443.7,985.3 L445.0,987.8 L446.4,990.3 L447.8,992.8 L449.1,995.3 L450.5,997.8 L451.9,1000.2 L453.3,1002.7 L454.7,1005.2 L456.1,1007.6 L457.6,1010.1 L459.0,1012.6 L460.4,1015.0 L461.8,1017.5 L463.3,1020.0 L464.7,1022.4 L466.1,1024.9 L467.6,1027.4 L469.0,1029.8 L470.5,1032.3 L472.0,1034.7 L473.4,1037.2 L474.9,1039.6 L476.4,1042.0 L477.9,1044.4 L479.5,1046.8 L481.0,1049.2 L482.5,1051.6 L484.1,1054.0 L485.6,1056.4 L487.2,1058.7 L488.8,1061.1 L490.4,1063.4 L492.0,1065.7 L493.6,1068.0 L495.3,1070.3 L496.9,1072.6 L498.6,1074.8 L500.3,1077.1 L502.0,1079.4 L503.7,1081.6 L505.4,1083.9 L507.1,1086.2 L508.9,1088.4 L510.6,1090.7 L512.4,1093.0 L514.1,1095.2 L515.9,1097.5 L517.7,1099.7 L519.5,1102.0 L521.3,1104.2 L523.2,1106.4 L525.0,1108.6 L526.8,1110.8 L528.7,1113.0 L530.6,1115.2 L532.5,1117.4 L534.4,1119.5 L536.3,1121.7 L538.2,1123.8 L540.1,1126.0 L542.0,1128.1 L544.0,1130.2 L545.9,1132.2 L547.9,1134.3 L549.9,1136.3 L551.9,1138.4 L553.9,1140.4 L555.9,1142.4 L557.9,1144.3 L560.0,1146.3 L562.0,1148.2 L564.1,1150.1 L566.2,1152.0 L568.3,1153.9 L570.3,1155.7 L572.5,1157.5 L574.6,1159.3 L576.7,1161.1 L578.9,1162.9 L581.1,1164.6 L583.3,1166.4 L585.6,1168.1 L587.8,1169.9 L590.1,1171.6 L592.4,1173.3 L594.7,1175.0 L597.1,1176.7 L599.4,1178.4 L601.8,1180.0 L604.2,1181.6 L606.6,1183.2 L609.0,1184.8 L611.4,1186.4 L613.8,1187.9 L616.3,1189.4 L618.7,1190.8 L621.2,1192.3 L623.7,1193.7 L626.2,1195.1 L628.7,1196.4 L631.1,1197.7 L633.6,1199.0 L636.2,1200.2 L638.7,1201.4 L641.2,1202.6 L643.7,1203.8 L646.3,1205.0 L648.9,1206.2 L651.5,1207.3 L654.1,1208.4 L656.7,1209.6 L659.3,1210.7 L662.0,1211.7 L664.7,1212.8 L667.3,1213.9 L670.0,1214.9 L672.7,1215.9 L675.4,1216.9 L678.1,1217.8 L680.8,1218.8 L683.5,1219.7 L686.3,1220.6 L689.0,1221.4 L691.7,1222.3 L694.4,1223.1 L697.2,1223.8 L699.9,1224.6 L702.7,1225.3 L705.4,1226.0 L708.1,1226.6 L710.9,1227.2 L713.6,1227.8 L716.4,1228.4 L719.2,1229.0 L722.0,1229.5 L724.8,1230.1 L727.6,1230.6 L730.4,1231.1 L733.2,1231.6 L736.0,1232.0 L738.8,1232.5 L741.6,1232.9 L744.5,1233.3 L747.3,1233.7 L750.1,1234.1 L752.9,1234.5 L755.7,1234.9 L758.5,1235.3 L761.3,1235.6 L764.2,1236.0 L767.0,1236.3 L769.8,1236.6 L772.6,1236.9 L775.5,1237.2 L778.3,1237.5 L781.1,1237.8 L784.0,1238.0 L786.8,1238.3 L789.6,1238.5 L792.4,1238.7 L795.3,1238.9 L798.1,1239.0 L800.9,1239.2 L803.8,1239.4 L806.6,1239.6 L809.5,1239.7 L812.3,1239.9 L815.1,1240.0 L818.0,1240.2 L820.8,1240.3 L823.6,1240.5 L826.5,1240.6 L829.3,1240.7 L832.2,1240.9 L835.0,1241.0 L837.8,1241.1 L840.7,1241.2 L843.5,1241.3 L846.4,1241.4 L849.2,1241.5 L852.0,1241.6 L854.9,1241.6 L857.7,1241.7 L860.6,1241.8 L863.4,1241.8 L866.2,1241.9 L869.1,1242.0 L871.9,1242.0 L874.8,1242.0 L877.6,1242.1 L880.4,1242.1 L883.3,1242.2 L886.1,1242.2 L889.0,1242.3 L891.8,1242.3 L894.6,1242.4 L897.5,1242.4 L900.3,1242.5 L903.2,1242.5 L906.0,1242.6 L926.0,1242.6 L923.2,1242.5 L920.3,1242.5 L917.5,1242.4 L914.6,1242.4 L911.8,1242.3 L909.0,1242.3 L906.1,1242.2 L903.3,1242.2 L900.4,1242.1 L897.6,1242.1 L894.8,1242.0 L891.9,1242.0 L889.1,1242.0 L886.2,1241.9 L883.4,1241.8 L880.6,1241.8 L877.7,1241.7 L874.9,1241.6 L872.0,1241.6 L869.2,1241.5 L866.4,1241.4 L863.5,1241.3 L860.7,1241.2 L857.8,1241.1 L855.0,1241.0 L852.2,1240.9 L849.3,1240.7 L846.5,1240.6 L843.6,1240.5 L840.8,1240.3 L838.0,1240.2 L835.1,1240.0 L832.3,1239.9 L829.5,1239.7 L826.6,1239.6 L823.8,1239.4 L820.9,1239.2 L818.1,1239.0 L815.3,1238.9 L812.4,1238.7 L809.6,1238.5 L806.8,1238.3 L804.0,1238.0 L801.1,1237.8 L798.3,1237.5 L795.5,1237.2 L792.6,1236.9 L789.8,1236.6 L787.0,1236.3 L784.2,1236.0 L781.3,1235.6 L778.5,1235.3 L775.7,1234.9 L772.9,1234.5 L770.1,1234.1 L767.3,1233.7 L764.5,1233.3 L761.6,1232.9 L758.8,1232.5 L756.0,1232.0 L753.2,1231.6 L750.4,1231.1 L747.6,1230.6 L744.8,1230.1 L742.0,1229.5 L739.2,1229.0 L736.4,1228.4 L733.6,1227.8 L730.9,1227.2 L728.1,1226.6 L725.4,1226.0 L722.7,1225.3 L719.9,1224.6 L717.2,1223.8 L714.4,1223.1 L711.7,1222.3 L709.0,1221.4 L706.3,1220.6 L703.5,1219.7 L700.8,1218.8 L698.1,1217.8 L695.4,1216.9 L692.7,1215.9 L690.0,1214.9 L687.3,1213.9 L684.7,1212.8 L682.0,1211.7 L679.3,1210.7 L676.7,1209.6 L674.1,1208.4 L671.5,1207.3 L668.9,1206.2 L666.3,1205.0 L663.7,1203.8 L661.2,1202.6 L658.7,1201.4 L656.2,1200.2 L653.6,1199.0 L651.1,1197.7 L648.7,1196.4 L646.2,1195.1 L643.7,1193.7 L641.2,1192.3 L638.7,1190.8 L636.3,1189.4 L633.8,1187.9 L631.4,1186.4 L629.0,1184.8 L626.6,1183.2 L624.2,1181.6 L621.8,1180.0 L619.4,1178.4 L617.1,1176.7 L614.7,1175.0 L612.4,1173.3 L610.1,1171.6 L607.8,1169.9 L605.6,1168.1 L603.3,1166.4 L601.1,1164.6 L598.9,1162.9 L596.7,1161.1 L594.6,1159.3 L592.5,1157.5 L590.3,1155.7 L588.3,1153.9 L586.2,1152.0 L584.1,1150.1 L582.0,1148.2 L580.0,1146.3 L577.9,1144.3 L575.9,1142.4 L573.9,1140.4 L571.9,1138.4 L569.9,1136.3 L567.9,1134.3 L565.9,1132.2 L564.0,1130.2 L562.0,1128.1 L560.1,1126.0 L558.2,1123.8 L556.3,1121.7 L554.4,1119.5 L552.5,1117.4 L550.6,1115.2 L548.7,1113.0 L546.8,1110.8 L545.0,1108.6 L543.2,1106.4 L541.3,1104.2 L539.5,1102.0 L537.7,1099.7 L535.9,1097.5 L534.1,1095.2 L532.4,1093.0 L530.6,1090.7 L528.9,1088.4 L527.1,1086.2 L525.4,1083.9 L523.7,1081.6 L522.0,1079.4 L520.3,1077.1 L518.6,1074.8 L516.9,1072.6 L515.3,1070.3 L513.6,1068.0 L512.0,1065.7 L510.4,1063.4 L508.8,1061.1 L507.2,1058.7 L505.6,1056.4 L504.1,1054.0 L502.5,1051.6 L501.0,1049.2 L499.5,1046.8 L497.9,1044.4 L496.4,1042.0 L494.9,1039.6 L493.4,1037.2 L492.0,1034.7 L490.5,1032.3 L489.0,1029.8 L487.6,1027.4 L486.1,1024.9 L484.7,1022.4 L483.3,1020.0 L481.8,1017.5 L480.4,1015.0 L479.0,1012.6 L477.6,1010.1 L476.1,1007.6 L474.7,1005.2 L473.3,1002.7 L471.9,1000.2 L470.5,997.8 L469.1,995.3 L467.8,992.8 L466.4,990.3 L465.0,987.8 L463.7,985.3 L462.4,982.8 L461.1,980.3 L459.8,977.8 L458.5,975.3 L457.3,972.8 L456.0,970.2 L454.8,967.7 L453.5,965.2 L452.3,962.6 L451.0,960.1 L449.8,957.6 L448.6,955.0 L447.4,952.5 L446.2,949.9 L445.0,947.4 L443.8,944.8 L442.6,942.3 L441.5,939.7 L440.3,937.1 L439.1,934.5 L438.0,932.0 L436.8,929.4 L435.7,926.8 L434.6,924.2 L433.5,921.6 L432.3,919.0 L431.3,916.4 L430.3,913.8 L429.3,911.2 L428.3,908.6 L427.3,906.0 L426.3,903.4 L425.4,900.7 L424.4,898.1 L423.4,895.5 L422.5,892.8 L421.6,890.2 L420.6,887.6 L419.7,884.9 L418.8,882.3 L417.9,879.6 L417.0,877.0 L416.1,874.3 L415.2,871.7 L414.3,869.0 L413.5,866.3 L412.6,863.7 L411.7,861.0 L410.9,858.4 L410.0,855.7 L409.1,853.1 L408.2,850.4 L407.3,847.8 L406.4,845.1 L405.5,842.5 L404.6,839.8 L403.7,837.1 L402.8,834.5 L401.9,831.8 L401.0,829.2 L400.1,826.5 L399.3,823.8 L398.5,821.2 L397.7,818.5 L396.9,815.8 L396.1,813.1 L395.3,810.4 L394.4,807.7 L393.5,805.0 L392.6,802.3 L391.6,799.7 L390.7,797.0 L389.7,794.4 L388.8,791.7 L387.9,789.0 L387.1,786.3 L386.3,783.6 L385.6,780.9 L384.8,778.1 L384.1,775.4 L383.3,772.7 L382.6,770.0 L381.7,767.3 L380.9,764.6 L380.0,761.9 L379.2,759.2 L378.4,756.5 L377.6,753.8 L376.9,751.1 L376.1,748.4 L375.4,745.7 L374.7,743.0 L374.0,740.3 L373.2,737.6 L372.5,734.9 L371.8,732.2 L371.1,729.5 L370.4,726.7 L369.6,724.0Z" fill="#ffaaaa" stroke="#ffaaaa" stroke-width="0.8" stroke-linejoin="round"/>
<path d="M351.0,719.7 L351.8,722.4 L352.6,725.2 L353.4,727.9 L354.3,730.6 L355.1,733.3 L356.0,736.0 L356.8,738.7 L357.7,741.4 L358.6,744.1 L359.5,746.8 L360.3,749.5 L361.2,752.2 L362.1,754.9 L363.1,757.6 L364.0,760.3 L364.9,763.0 L365.8,765.7 L366.6,768.4 L367.4,771.1 L368.2,773.8 L369.0,776.6 L369.8,779.3 L370.6,782.0 L371.5,784.7 L372.4,787.4 L373.4,790.1 L374.4,792.7 L375.5,795.4 L376.5,798.0 L377.5,800.7 L378.4,803.4 L379.3,806.1 L380.2,808.8 L381.1,811.5 L381.9,814.2 L382.8,816.9 L383.7,819.5 L384.7,822.2 L385.7,824.9 L386.7,827.5 L387.7,830.2 L388.7,832.8 L389.7,835.5 L390.8,838.2 L391.8,840.8 L392.8,843.5 L393.8,846.1 L394.8,848.8 L395.9,851.4 L396.9,854.1 L397.9,856.7 L398.9,859.4 L399.9,862.0 L400.9,864.7 L401.9,867.4 L402.9,870.0 L403.9,872.7 L404.9,875.3 L405.9,878.0 L407.0,880.6 L408.0,883.3 L409.1,885.9 L410.1,888.5 L411.2,891.2 L412.2,893.8 L413.3,896.4 L414.4,899.1 L415.5,901.7 L416.6,904.3 L417.7,906.9 L418.8,909.5 L419.9,912.1 L421.1,914.7 L422.2,917.3 L423.4,919.9 L424.6,922.5 L425.8,925.1 L427.0,927.7 L428.2,930.2 L429.4,932.8 L430.6,935.4 L431.8,938.0 L433.0,940.5 L434.3,943.1 L435.5,945.6 L436.8,948.2 L438.0,950.7 L439.3,953.3 L440.6,955.8 L441.8,958.3 L443.1,960.9 L444.4,963.4 L445.7,965.9 L447.0,968.5 L448.3,971.0 L449.6,973.5 L451.0,976.0 L452.3,978.5 L453.7,981.0 L455.0,983.5 L456.4,986.0 L457.8,988.5 L459.1,991.0 L460.5,993.5 L461.9,995.9 L463.3,998.4 L464.7,1000.9 L466.1,1003.3 L467.6,1005.8 L469.0,1008.3 L470.4,1010.7 L471.8,1013.2 L473.3,1015.7 L474.7,1018.1 L476.1,1020.6 L477.6,1023.1 L479.0,1025.5 L480.5,1028.0 L482.0,1030.4 L483.4,1032.9 L484.9,1035.3 L486.4,1037.7 L487.9,1040.1 L489.5,1042.5 L491.0,1044.9 L492.5,1047.3 L494.1,1049.7 L495.6,1052.1 L497.2,1054.4 L498.8,1056.8 L500.4,1059.1 L502.0,1061.4 L503.6,1063.7 L505.3,1066.0 L506.9,1068.3 L508.6,1070.5 L510.3,1072.8 L512.0,1075.1 L513.7,1077.3 L515.4,1079.6 L517.1,1081.9 L518.9,1084.1 L520.6,1086.4 L522.4,1088.7 L524.1,1090.9 L525.9,1093.2 L527.7,1095.4 L529.5,1097.7 L531.3,1099.9 L533.2,1102.1 L535.0,1104.3 L536.8,1106.5 L538.7,1108.7 L540.6,1110.9 L542.5,1113.1 L544.4,1115.2 L546.3,1117.4 L548.2,1119.5 L550.1,1121.7 L552.0,1123.8 L554.0,1125.9 L555.9,1127.9 L557.9,1130.0 L559.9,1132.0 L561.9,1134.1 L563.9,1136.1 L565.9,1138.1 L567.9,1140.0 L570.0,1142.0 L572.0,1143.9 L574.1,1145.8 L576.2,1147.7 L578.3,1149.6 L580.3,1151.4 L582.5,1153.2 L584.6,1155.0 L586.7,1156.8 L588.9,1158.6 L591.1,1160.3 L593.3,1162.1 L595.6,1163.8 L597.8,1165.6 L600.1,1167.3 L602.4,1169.0 L604.7,1170.7 L607.1,1172.4 L609.4,1174.1 L611.8,1175.7 L614.2,1177.3 L616.6,1178.9 L619.0,1180.5 L621.4,1182.1 L623.8,1183.6 L626.3,1185.1 L628.7,1186.5 L631.2,1188.0 L633.7,1189.4 L636.2,1190.8 L638.7,1192.1 L641.1,1193.4 L643.6,1194.7 L646.2,1195.9 L648.7,1197.1 L651.2,1198.3 L653.7,1199.5 L656.3,1200.7 L658.9,1201.9 L661.5,1203.0 L664.1,1204.1 L666.7,1205.3 L669.3,1206.4 L672.0,1207.4 L674.7,1208.5 L677.3,1209.6 L680.0,1210.6 L682.7,1211.6 L685.4,1212.6 L688.1,1213.5 L690.8,1214.5 L693.5,1215.4 L696.3,1216.3 L699.0,1217.1 L701.7,1218.0 L704.4,1218.8 L707.2,1219.5 L709.9,1220.3 L712.7,1221.0 L715.4,1221.7 L718.1,1222.3 L720.9,1222.9 L723.6,1223.5 L726.4,1224.1 L729.2,1224.7 L732.0,1225.2 L734.8,1225.8 L737.6,1226.3 L740.4,1226.8 L743.2,1227.3 L746.0,1227.7 L748.8,1228.2 L751.6,1228.6 L754.5,1229.0 L757.3,1229.4 L760.1,1229.8 L762.9,1230.2 L765.7,1230.6 L768.5,1231.0 L771.3,1231.3 L774.2,1231.7 L777.0,1232.0 L779.8,1232.3 L782.6,1232.6 L785.5,1232.9 L788.3,1233.2 L791.1,1233.5 L794.0,1233.9 L796.8,1234.2 L799.6,1234.5 L802.4,1234.8 L805.3,1235.1 L808.1,1235.4 L810.9,1235.7 L813.8,1236.0 L816.6,1236.3 L819.5,1236.5 L822.3,1236.8 L825.1,1237.0 L828.0,1237.3 L830.8,1237.6 L833.6,1237.8 L836.5,1238.0 L839.3,1238.3 L842.2,1238.5 L845.0,1238.7 L847.8,1238.9 L850.7,1239.2 L853.5,1239.4 L856.4,1239.6 L859.2,1239.8 L862.0,1240.0 L864.9,1240.1 L867.7,1240.3 L870.6,1240.5 L873.4,1240.7 L876.2,1240.8 L879.1,1241.0 L881.9,1241.1 L884.8,1241.3 L887.6,1241.4 L890.4,1241.6 L893.3,1241.7 L896.1,1241.9 L899.0,1242.0 L901.8,1242.2 L904.6,1242.3 L907.5,1242.4 L910.3,1242.5 L913.2,1242.5 L916.0,1242.6 L916.0,1242.6 L913.2,1242.5 L910.3,1242.5 L907.5,1242.4 L904.6,1242.4 L901.8,1242.4 L899.0,1242.5 L896.1,1242.5 L893.3,1242.6 L890.4,1242.7 L887.6,1242.7 L884.8,1242.8 L881.9,1242.9 L879.1,1242.9 L876.2,1243.0 L873.4,1243.0 L870.6,1243.1 L867.7,1243.1 L864.9,1243.1 L862.0,1243.2 L859.2,1243.2 L856.4,1243.2 L853.5,1243.2 L850.7,1243.2 L847.8,1243.2 L845.0,1243.2 L842.2,1243.2 L839.3,1243.2 L836.5,1243.2 L833.6,1243.1 L830.8,1243.1 L828.0,1243.1 L825.1,1243.0 L822.3,1243.0 L819.5,1242.9 L816.6,1242.9 L813.8,1242.8 L810.9,1242.7 L808.1,1242.7 L805.3,1242.6 L802.4,1242.5 L799.6,1242.4 L796.8,1242.3 L794.0,1242.2 L791.1,1242.0 L788.3,1241.8 L785.5,1241.5 L782.6,1241.2 L779.8,1240.9 L777.0,1240.6 L774.2,1240.3 L771.3,1239.9 L768.5,1239.6 L765.7,1239.2 L762.9,1238.8 L760.1,1238.4 L757.3,1238.0 L754.5,1237.6 L751.6,1237.2 L748.8,1236.8 L746.0,1236.3 L743.2,1235.9 L740.4,1235.4 L737.6,1234.9 L734.8,1234.4 L732.0,1233.8 L729.2,1233.3 L726.4,1232.7 L723.6,1232.1 L720.9,1231.5 L718.1,1230.9 L715.4,1230.3 L712.7,1229.6 L709.9,1228.9 L707.2,1228.1 L704.4,1227.4 L701.7,1226.6 L699.0,1225.7 L696.3,1224.9 L693.5,1224.0 L690.8,1223.1 L688.1,1222.1 L685.4,1221.2 L682.7,1220.2 L680.0,1219.2 L677.3,1218.2 L674.7,1217.1 L672.0,1216.0 L669.3,1215.0 L666.7,1213.9 L664.1,1212.7 L661.5,1211.6 L658.9,1210.5 L656.3,1209.3 L653.7,1208.1 L651.2,1206.9 L648.7,1205.7 L646.2,1204.5 L643.6,1203.3 L641.1,1202.0 L638.7,1200.7 L636.2,1199.4 L633.7,1198.0 L631.2,1196.6 L628.7,1195.1 L626.3,1193.7 L623.8,1192.2 L621.4,1190.7 L619.0,1189.1 L616.6,1187.5 L614.2,1185.9 L611.8,1184.3 L609.4,1182.7 L607.1,1181.0 L604.7,1179.3 L602.4,1177.6 L600.1,1175.9 L597.8,1174.2 L595.6,1172.4 L593.3,1170.7 L591.1,1168.9 L588.9,1167.2 L586.7,1165.4 L584.6,1163.6 L582.5,1161.8 L580.3,1160.0 L578.3,1158.2 L576.2,1156.3 L574.1,1154.4 L572.0,1152.5 L570.0,1150.6 L567.9,1148.6 L565.9,1146.7 L563.9,1144.7 L561.9,1142.7 L559.9,1140.6 L557.9,1138.6 L555.9,1136.5 L554.0,1134.5 L552.0,1132.4 L550.1,1130.3 L548.2,1128.1 L546.3,1126.0 L544.4,1123.8 L542.5,1121.7 L540.6,1119.5 L538.7,1117.3 L536.8,1115.1 L535.0,1112.9 L533.2,1110.7 L531.3,1108.5 L529.5,1106.3 L527.7,1104.0 L525.9,1101.8 L524.1,1099.5 L522.4,1097.3 L520.6,1095.0 L518.9,1092.7 L517.1,1090.5 L515.4,1088.2 L513.7,1085.9 L512.0,1083.7 L510.3,1081.4 L508.6,1079.1 L506.9,1076.9 L505.3,1074.6 L503.6,1072.3 L502.0,1070.0 L500.4,1067.7 L498.8,1065.4 L497.2,1063.0 L495.6,1060.7 L494.1,1058.3 L492.5,1055.9 L491.0,1053.5 L489.5,1051.1 L487.9,1048.7 L486.4,1046.3 L484.9,1043.9 L483.4,1041.5 L482.0,1039.0 L480.5,1036.6 L479.0,1034.1 L477.6,1031.7 L476.1,1029.2 L474.7,1026.7 L473.3,1024.3 L471.8,1021.8 L470.4,1019.3 L469.0,1016.9 L467.6,1014.4 L466.1,1011.9 L464.7,1009.5 L463.3,1007.0 L461.9,1004.5 L460.5,1002.1 L459.1,999.6 L457.8,997.1 L456.4,994.6 L455.0,992.1 L453.7,989.6 L452.3,987.1 L451.0,984.6 L449.6,982.1 L448.3,979.6 L447.0,977.1 L445.7,974.5 L444.4,972.0 L443.1,969.5 L441.8,966.9 L440.6,964.4 L439.3,961.9 L438.0,959.3 L436.8,956.8 L435.5,954.2 L434.3,951.7 L433.0,949.1 L431.8,946.6 L430.6,944.0 L429.4,941.4 L428.2,938.8 L427.0,936.3 L425.8,933.7 L424.6,931.1 L423.4,928.5 L422.2,925.9 L421.1,923.3 L419.9,920.7 L418.8,918.1 L417.7,915.5 L416.6,912.9 L415.5,910.3 L414.4,907.7 L413.3,905.0 L412.2,902.4 L411.2,899.8 L410.1,897.1 L409.1,894.5 L408.0,891.9 L407.0,889.2 L405.9,886.6 L404.9,883.9 L403.9,881.3 L402.9,878.6 L401.9,876.0 L400.9,873.3 L399.9,870.6 L398.9,868.0 L397.9,865.3 L396.9,862.7 L395.9,860.0 L394.8,857.4 L393.8,854.7 L392.8,852.1 L391.8,849.4 L390.8,846.8 L389.7,844.1 L388.7,841.4 L387.7,838.8 L386.7,836.1 L385.7,833.5 L384.7,830.8 L383.7,828.1 L382.8,825.5 L381.9,822.8 L381.1,820.1 L380.2,817.4 L379.3,814.7 L378.4,812.0 L377.5,809.3 L376.5,806.6 L375.5,804.0 L374.4,801.3 L373.4,798.7 L372.4,796.0 L371.5,793.3 L370.6,790.6 L369.8,787.9 L369.0,785.2 L368.2,782.4 L367.4,779.7 L366.6,777.0 L365.8,774.3 L364.9,771.6 L364.0,768.9 L363.1,766.2 L362.1,763.5 L361.2,760.8 L360.3,758.1 L359.5,755.4 L358.6,752.7 L357.7,750.0 L356.8,747.3 L356.0,744.6 L355.1,741.9 L354.3,739.2 L353.4,736.5 L352.6,733.8 L351.8,731.0 L351.0,728.3Z" fill="#ffaaaa"/>
<path d="M192.2,731.7 L193.2,734.8 L194.2,738.0 L195.3,741.1 L196.3,744.3 L197.3,747.4 L198.3,750.6 L199.3,753.8 L200.3,756.9 L201.2,760.1 L202.2,763.3 L203.2,766.4 L204.2,769.6 L205.1,772.8 L206.1,775.9 L207.1,779.1 L208.1,782.3 L209.1,785.4 L210.2,788.6 L211.2,791.7 L212.3,794.8 L213.4,797.9 L214.5,801.1 L215.6,804.2 L216.8,807.3 L217.9,810.4 L219.0,813.6 L220.1,816.7 L221.2,819.8 L222.2,823.0 L223.3,826.1 L224.4,829.2 L225.5,832.3 L226.7,835.5 L227.8,838.6 L228.9,841.7 L230.1,844.8 L231.3,847.9 L232.4,851.0 L233.6,854.1 L234.8,857.2 L236.0,860.3 L237.2,863.4 L238.4,866.5 L239.5,869.6 L240.7,872.7 L241.9,875.8 L243.1,878.9 L244.3,881.9 L245.5,885.0 L246.7,888.1 L248.0,891.2 L249.2,894.3 L250.5,897.3 L251.7,900.4 L253.0,903.4 L254.3,906.5 L255.6,909.5 L257.0,912.6 L258.3,915.6 L259.7,918.6 L261.0,921.6 L262.4,924.6 L263.8,927.6 L265.2,930.6 L266.7,933.6 L268.1,936.6 L269.5,939.6 L271.0,942.6 L272.4,945.6 L273.9,948.6 L275.3,951.6 L276.8,954.5 L278.2,957.5 L279.7,960.5 L281.2,963.5 L282.6,966.4 L284.1,969.4 L285.6,972.4 L287.1,975.3 L288.6,978.3 L290.1,981.2 L291.6,984.2 L293.1,987.1 L294.7,990.1 L296.2,993.0 L297.8,995.9 L299.4,998.8 L301.0,1001.7 L302.6,1004.6 L304.2,1007.5 L305.9,1010.3 L307.6,1013.2 L309.3,1016.0 L311.0,1018.9 L312.7,1021.8 L314.3,1024.6 L316.0,1027.5 L317.7,1030.4 L319.3,1033.2 L321.0,1036.1 L322.8,1038.9 L324.5,1041.7 L326.3,1044.5 L328.2,1047.2 L330.0,1050.0 L331.9,1052.7 L333.8,1055.4 L335.7,1058.2 L337.6,1060.9 L339.5,1063.6 L341.4,1066.3 L343.3,1069.1 L345.2,1071.8 L347.1,1074.5 L349.0,1077.2 L350.9,1079.9 L352.8,1082.6 L354.8,1085.3 L356.7,1087.9 L358.7,1090.6 L360.7,1093.2 L362.7,1095.9 L364.8,1098.5 L366.8,1101.1 L368.9,1103.7 L370.9,1106.3 L373.0,1108.9 L375.1,1111.5 L377.1,1114.1 L379.2,1116.7 L381.3,1119.2 L383.5,1121.7 L385.7,1124.2 L387.9,1126.7 L390.2,1129.0 L392.5,1131.4 L394.9,1133.7 L397.3,1136.0 L399.8,1138.2 L402.3,1140.4 L404.8,1142.5 L407.3,1144.7 L409.9,1146.8 L412.5,1148.9 L415.0,1151.0 L417.5,1153.2 L420.0,1155.3 L422.5,1157.5 L425.0,1159.7 L427.5,1161.9 L430.0,1164.1 L432.5,1166.3 L435.1,1168.4 L437.6,1170.5 L440.3,1172.5 L442.9,1174.5 L445.6,1176.4 L448.3,1178.4 L451.0,1180.3 L453.7,1182.2 L456.5,1184.0 L459.2,1185.8 L462.1,1187.5 L464.9,1189.2 L467.8,1190.9 L470.7,1192.6 L473.5,1194.3 L476.2,1196.2 L479.0,1198.0 L481.7,1199.9 L484.6,1201.6 L487.5,1203.2 L490.4,1204.7 L493.4,1206.2 L496.4,1207.6 L499.4,1209.0 L502.5,1210.2 L505.6,1211.3 L508.7,1212.4 L511.9,1213.3 L515.1,1214.3 L518.3,1215.3 L521.4,1216.3 L524.6,1217.3 L527.8,1218.2 L530.9,1219.2 L534.1,1220.2 L537.3,1221.2 L540.4,1222.1 L543.6,1223.1 L546.8,1224.1 L549.9,1225.2 L553.1,1226.2 L556.3,1227.1 L559.5,1227.9 L562.7,1228.6 L565.9,1229.2 L569.2,1229.8 L572.5,1230.4 L575.7,1230.9 L579.0,1231.4 L582.3,1231.9 L585.6,1232.4 L588.9,1232.8 L592.2,1233.3 L595.5,1233.7 L598.7,1234.2 L602.0,1234.6 L605.3,1235.1 L608.6,1235.5 L611.9,1235.9 L615.2,1236.3 L618.5,1236.7 L621.8,1237.1 L625.1,1237.5 L628.4,1237.8 L631.6,1238.2 L634.9,1238.6 L638.2,1239.0 L641.5,1239.3 L644.8,1239.6 L648.1,1239.9 L651.4,1240.1 L654.8,1240.3 L658.1,1240.4 L661.4,1240.6 L664.7,1240.7 L668.0,1240.9 L671.3,1241.0 L674.6,1241.1 L677.9,1241.2 L681.2,1241.3 L684.6,1241.4 L687.9,1241.5 L691.2,1241.6 L694.5,1241.7 L697.8,1241.8 L701.1,1241.9 L704.4,1241.9 L707.8,1242.0 L711.1,1242.1 L714.4,1242.2 L717.7,1242.2 L721.0,1242.3 L724.3,1242.3 L727.6,1242.4 L731.0,1242.5 L734.3,1242.5 L737.6,1242.6 L740.9,1242.6 L744.2,1242.6 L747.5,1242.7 L750.8,1242.7 L754.2,1242.8 L757.5,1242.8 L760.8,1242.9 L764.1,1242.9 L767.4,1242.9 L770.7,1243.0 L774.0,1243.0 L777.4,1243.0 L780.7,1243.1 L784.0,1243.1 L787.3,1243.1 L790.6,1243.2 L793.9,1243.2 L797.2,1243.2 L800.6,1243.2 L803.9,1243.2 L807.2,1243.2 L810.5,1243.2 L813.8,1243.2 L817.1,1243.3 L820.4,1243.3 L823.8,1243.3 L827.1,1243.3 L830.4,1243.3 L833.7,1243.3 L837.0,1243.3 L840.3,1243.3 L843.7,1243.3 L847.0,1243.3 L850.3,1243.3 L853.6,1243.4 L856.9,1243.4 L860.2,1243.4 L863.5,1243.4 L866.9,1243.4 L870.2,1243.4 L873.5,1243.4 L876.8,1243.4 L880.1,1243.4 L883.4,1243.4 L886.7,1243.4 L890.1,1243.4 L893.4,1243.4 L896.7,1243.4 L900.0,1243.4" fill="none" stroke="#000" stroke-width="3.2" stroke-dasharray="11 7.3"/>
<path d="M351.0,724.0 L351.8,726.7 L352.6,729.5 L353.4,732.2 L354.3,734.9 L355.1,737.6 L356.0,740.3 L356.8,743.0 L357.7,745.7 L358.6,748.4 L359.5,751.1 L360.3,753.8 L361.2,756.5 L362.1,759.2 L363.1,761.9 L364.0,764.6 L364.9,767.3 L365.8,770.0 L366.6,772.7 L367.4,775.4 L368.2,778.1 L369.0,780.9 L369.8,783.6 L370.6,786.3 L371.5,789.0 L372.4,791.7 L373.4,794.4 L374.4,797.0 L375.5,799.7 L376.5,802.3 L377.5,805.0 L378.4,807.7 L379.3,810.4 L380.2,813.1 L381.1,815.8 L381.9,818.5 L382.8,821.2 L383.7,823.8 L384.7,826.5 L385.7,829.2 L386.7,831.8 L387.7,834.5 L388.7,837.1 L389.7,839.8 L390.8,842.5 L391.8,845.1 L392.8,847.8 L393.8,850.4 L394.8,853.1 L395.9,855.7 L396.9,858.4 L397.9,861.0 L398.9,863.7 L399.9,866.3 L400.9,869.0 L401.9,871.7 L402.9,874.3 L403.9,877.0 L404.9,879.6 L405.9,882.3 L407.0,884.9 L408.0,887.6 L409.1,890.2 L410.1,892.8 L411.2,895.5 L412.2,898.1 L413.3,900.7 L414.4,903.4 L415.5,906.0 L416.6,908.6 L417.7,911.2 L418.8,913.8 L419.9,916.4 L421.1,919.0 L422.2,921.6 L423.4,924.2 L424.6,926.8 L425.8,929.4 L427.0,932.0 L428.2,934.5 L429.4,937.1 L430.6,939.7 L431.8,942.3 L433.0,944.8 L434.3,947.4 L435.5,949.9 L436.8,952.5 L438.0,955.0 L439.3,957.6 L440.6,960.1 L441.8,962.6 L443.1,965.2 L444.4,967.7 L445.7,970.2 L447.0,972.8 L448.3,975.3 L449.6,977.8 L451.0,980.3 L452.3,982.8 L453.7,985.3 L455.0,987.8 L456.4,990.3 L457.8,992.8 L459.1,995.3 L460.5,997.8 L461.9,1000.2 L463.3,1002.7 L464.7,1005.2 L466.1,1007.6 L467.6,1010.1 L469.0,1012.6 L470.4,1015.0 L471.8,1017.5 L473.3,1020.0 L474.7,1022.4 L476.1,1024.9 L477.6,1027.4 L479.0,1029.8 L480.5,1032.3 L482.0,1034.7 L483.4,1037.2 L484.9,1039.6 L486.4,1042.0 L487.9,1044.4 L489.5,1046.8 L491.0,1049.2 L492.5,1051.6 L494.1,1054.0 L495.6,1056.4 L497.2,1058.7 L498.8,1061.1 L500.4,1063.4 L502.0,1065.7 L503.6,1068.0 L505.3,1070.3 L506.9,1072.6 L508.6,1074.8 L510.3,1077.1 L512.0,1079.4 L513.7,1081.6 L515.4,1083.9 L517.1,1086.2 L518.9,1088.4 L520.6,1090.7 L522.4,1093.0 L524.1,1095.2 L525.9,1097.5 L527.7,1099.7 L529.5,1102.0 L531.3,1104.2 L533.2,1106.4 L535.0,1108.6 L536.8,1110.8 L538.7,1113.0 L540.6,1115.2 L542.5,1117.4 L544.4,1119.5 L546.3,1121.7 L548.2,1123.8 L550.1,1126.0 L552.0,1128.1 L554.0,1130.2 L555.9,1132.2 L557.9,1134.3 L559.9,1136.3 L561.9,1138.4 L563.9,1140.4 L565.9,1142.4 L567.9,1144.3 L570.0,1146.3 L572.0,1148.2 L574.1,1150.1 L576.2,1152.0 L578.3,1153.9 L580.3,1155.7 L582.5,1157.5 L584.6,1159.3 L586.7,1161.1 L588.9,1162.9 L591.1,1164.6 L593.3,1166.4 L595.6,1168.1 L597.8,1169.9 L600.1,1171.6 L602.4,1173.3 L604.7,1175.0 L607.1,1176.7 L609.4,1178.4 L611.8,1180.0 L614.2,1181.6 L616.6,1183.2 L619.0,1184.8 L621.4,1186.4 L623.8,1187.9 L626.3,1189.4 L628.7,1190.8 L631.2,1192.3 L633.7,1193.7 L636.2,1195.1 L638.7,1196.4 L641.1,1197.7 L643.6,1199.0 L646.2,1200.2 L648.7,1201.4 L651.2,1202.6 L653.7,1203.8 L656.3,1205.0 L658.9,1206.2 L661.5,1207.3 L664.1,1208.4 L666.7,1209.6 L669.3,1210.7 L672.0,1211.7 L674.7,1212.8 L677.3,1213.9 L680.0,1214.9 L682.7,1215.9 L685.4,1216.9 L688.1,1217.8 L690.8,1218.8 L693.5,1219.7 L696.3,1220.6 L699.0,1221.4 L701.7,1222.3 L704.4,1223.1 L707.2,1223.8 L709.9,1224.6 L712.7,1225.3 L715.4,1226.0 L718.1,1226.6 L720.9,1227.2 L723.6,1227.8 L726.4,1228.4 L729.2,1229.0 L732.0,1229.5 L734.8,1230.1 L737.6,1230.6 L740.4,1231.1 L743.2,1231.6 L746.0,1232.0 L748.8,1232.5 L751.6,1232.9 L754.5,1233.3 L757.3,1233.7 L760.1,1234.1 L762.9,1234.5 L765.7,1234.9 L768.5,1235.3 L771.3,1235.6 L774.2,1236.0 L777.0,1236.3 L779.8,1236.6 L782.6,1236.9 L785.5,1237.2 L788.3,1237.5 L791.1,1237.8 L794.0,1238.0 L796.8,1238.3 L799.6,1238.5 L802.4,1238.7 L805.3,1238.9 L808.1,1239.0 L810.9,1239.2 L813.8,1239.4 L816.6,1239.6 L819.5,1239.7 L822.3,1239.9 L825.1,1240.0 L828.0,1240.2 L830.8,1240.3 L833.6,1240.5 L836.5,1240.6 L839.3,1240.7 L842.2,1240.9 L845.0,1241.0 L847.8,1241.1 L850.7,1241.2 L853.5,1241.3 L856.4,1241.4 L859.2,1241.5 L862.0,1241.6 L864.9,1241.6 L867.7,1241.7 L870.6,1241.8 L873.4,1241.8 L876.2,1241.9 L879.1,1242.0 L881.9,1242.0 L884.8,1242.0 L887.6,1242.1 L890.4,1242.1 L893.3,1242.2 L896.1,1242.2 L899.0,1242.3 L901.8,1242.3 L904.6,1242.4 L907.5,1242.4 L910.3,1242.5 L913.2,1242.5 L916.0,1242.6" fill="none" stroke="#ff0000" stroke-width="3.3" stroke-dasharray="11 7.7"/>
</g>
<g clip-path="url(#cbm)">
<g stroke="#000" stroke-width="3" fill="#000">
<path d="M194.4,814.3 H237.0 M194.4,807.0 V821.6 M237.0,807.0 V821.6" fill="none"/>
<circle cx="215.7" cy="814.3" r="5.8"/>
<path d="M325.5,1071.8 H368.1 M325.5,1064.5 V1079.1 M368.1,1064.5 V1079.1" fill="none"/>
<circle cx="346.8" cy="1071.8" r="5.8"/>
<path d="M404.5,1157.6 H447.1 M404.5,1150.3 V1164.9 M447.1,1150.3 V1164.9" fill="none"/>
<circle cx="425.8" cy="1157.6" r="5.8"/>
<path d="M462.3,1200.5 H504.9 M462.3,1193.2 V1207.8 M504.9,1193.2 V1207.8" fill="none"/>
<circle cx="483.6" cy="1200.5" r="5.8"/>
<path d="M533.2,1226.2 H575.8 M533.2,1218.9 V1233.5 M575.8,1218.9 V1233.5" fill="none"/>
<circle cx="554.5" cy="1226.2" r="5.8"/>
<path d="M579.7,1234.8 H622.3 M579.7,1227.5 V1242.1 M622.3,1227.5 V1242.1" fill="none"/>
<circle cx="601.0" cy="1234.8" r="5.8"/>
<path d="M677.4,1241.7 H720.0 M677.4,1234.4 V1249.0 M720.0,1234.4 V1249.0" fill="none"/>
<circle cx="698.7" cy="1241.7" r="5.8"/>
<path d="M719.5,1242.5 H762.1 M719.5,1235.2 V1249.8 M762.1,1235.2 V1249.8" fill="none"/>
<circle cx="740.8" cy="1242.5" r="5.8"/>
</g>
<g stroke="#ff0000" stroke-width="2.3" fill="none">
<circle cx="370.2" cy="814.3" r="5.3" fill="#ff0000" fill-opacity="0.3"/>
<path d="M363.7,814.3 H376.7 M370.2,807.8 V820.8 M363.9,810.8 V817.8 M376.5,810.8 V817.8"/>
<circle cx="506.3" cy="1071.8" r="5.3" fill="#ff0000" fill-opacity="0.3"/>
<path d="M499.8,1071.8 H512.8 M506.3,1065.3 V1078.3 M500.0,1068.3 V1075.3 M512.6,1068.3 V1075.3"/>
<circle cx="582.8" cy="1157.6" r="5.3" fill="#ff0000" fill-opacity="0.3"/>
<path d="M576.3,1157.6 H589.3 M582.8,1151.1 V1164.1 M576.5,1154.1 V1161.1 M589.1,1154.1 V1161.1"/>
<circle cx="646.7" cy="1200.5" r="5.3" fill="#ff0000" fill-opacity="0.3"/>
<path d="M640.2,1200.5 H653.2 M646.7,1194.0 V1207.0 M640.4,1197.0 V1204.0 M653.0,1197.0 V1204.0"/>
<circle cx="716.8" cy="1226.2" r="5.3" fill="#ff0000" fill-opacity="0.3"/>
<path d="M710.3,1226.2 H723.3 M716.8,1219.7 V1232.7 M710.5,1222.7 V1229.7 M723.1,1222.7 V1229.7"/>
<circle cx="762.8" cy="1234.8" r="5.3" fill="#ff0000" fill-opacity="0.3"/>
<path d="M756.3,1234.8 H769.3 M762.8,1228.3 V1241.3 M756.5,1231.3 V1238.3 M769.1,1231.3 V1238.3"/>
<circle cx="867.1" cy="1241.7" r="5.3" fill="#ff0000" fill-opacity="0.3"/>
<path d="M860.6,1241.7 H873.6 M867.1,1235.2 V1248.2 M860.8,1238.2 V1245.2 M873.4,1238.2 V1245.2"/>
<circle cx="912.0" cy="1242.5" r="5.3" fill="#ff0000" fill-opacity="0.3"/>
<path d="M905.5,1242.5 H918.5 M912.0,1236.0 V1249.0 M905.7,1239.0 V1246.0 M918.3,1239.0 V1246.0"/>
</g>
</g>
<g stroke="#000" stroke-width="3" fill="none">
<path d="M158.5,727.0 V1244.9"/>
<path d="M157.0,1243.4 H992.0"/>
<path d="M144.3,1157.6 H158.5M144.3,1071.8 H158.5M144.3,986.0 H158.5M144.3,900.1 H158.5M144.3,814.3 H158.5M144.3,728.5 H158.5M150.2,1200.5 H158.5M150.2,1114.7 H158.5M150.2,1028.9 H158.5M150.2,943.0 H158.5M150.2,857.2 H158.5M150.2,771.4 H158.5M374.1,1243.4 V1257.4M682.5,1243.4 V1257.4M991.0,1243.4 V1257.4M158.5,1243.4 V1251.6M212.8,1243.4 V1251.6M251.4,1243.4 V1251.6M281.2,1243.4 V1251.6M305.7,1243.4 V1251.6M326.3,1243.4 V1251.6M344.2,1243.4 V1251.6M360.0,1243.4 V1251.6M466.9,1243.4 V1251.6M521.3,1243.4 V1251.6M559.8,1243.4 V1251.6M589.7,1243.4 V1251.6M614.1,1243.4 V1251.6M634.8,1243.4 V1251.6M652.7,1243.4 V1251.6M668.4,1243.4 V1251.6M775.4,1243.4 V1251.6M829.7,1243.4 V1251.6M868.3,1243.4 V1251.6M898.1,1243.4 V1251.6M922.6,1243.4 V1251.6M943.2,1243.4 V1251.6M961.1,1243.4 V1251.6M976.9,1243.4 V1251.6"/>
</g>
<g font-family="Liberation Sans, sans-serif" fill="#000">
<g font-size="34" text-anchor="end">
<text x="135.8" y="1166.9">50</text>
<text x="135.8" y="1081.1">100</text>
<text x="135.8" y="995.3">150</text>
<text x="135.8" y="909.4">200</text>
<text x="135.8" y="823.6">250</text>
<text x="135.8" y="737.8">300</text>
</g>
<g font-size="33.3" text-anchor="middle">
<text x="374.1" y="1291.3">0.1</text>
<text x="682.5" y="1291.3">1</text>
<text x="991.0" y="1291.3">10</text>
</g>
<text x="496.3" y="1323.5" font-size="34" textLength="156" lengthAdjust="spacingAndGlyphs">Time (min)</text>
<text transform="translate(52.4,1140.3) rotate(-90)" font-size="34.5" textLength="311" lengthAdjust="spacingAndGlyphs">LOD and LOQ (ppm)</text>
</g>
<g clip-path="url(#ci)">
<path d="M660.0,722.0 L660.6,723.4 L661.1,724.9 L661.6,726.4 L662.1,727.8 L662.5,729.3 L662.9,730.8 L663.2,732.3 L663.6,733.8 L663.9,735.3 L664.2,736.8 L664.6,738.3 L664.9,739.8 L665.2,741.3 L665.5,742.9 L665.8,744.4 L666.1,745.9 L666.4,747.4 L666.7,748.9 L667.0,750.4 L667.3,752.0 L667.6,753.5 L667.9,755.0 L668.1,756.5 L668.4,758.0 L668.7,759.5 L669.0,761.1 L669.3,762.6 L669.5,764.1 L669.8,765.6 L670.1,767.1 L670.4,768.7 L670.7,770.2 L671.0,771.7 L671.3,773.2 L671.6,774.7 L672.0,776.2 L672.3,777.7 L672.6,779.2 L673.0,780.7 L673.4,782.2 L673.7,783.7 L674.1,785.2 L674.5,786.7 L674.9,788.2 L675.2,789.7 L675.6,791.2 L676.0,792.7 L676.4,794.2 L676.8,795.7 L677.2,797.2 L677.6,798.7 L678.0,800.1 L678.4,801.6 L678.8,803.1 L679.3,804.6 L679.7,806.1 L680.1,807.6 L680.5,809.1 L681.0,810.5 L681.4,812.0 L681.9,813.5 L682.3,815.0 L682.7,816.5 L683.2,817.9 L683.6,819.4 L684.1,820.9 L684.5,822.4 L685.0,823.8 L685.4,825.3 L685.9,826.8 L686.3,828.3 L686.8,829.7 L687.2,831.2 L687.7,832.7 L688.1,834.2 L688.6,835.6 L689.1,837.1 L689.5,838.6 L690.0,840.1 L690.5,841.5 L691.0,843.0 L691.4,844.5 L691.9,845.9 L692.4,847.4 L692.9,848.9 L693.4,850.3 L693.9,851.8 L694.4,853.3 L694.9,854.7 L695.4,856.2 L695.9,857.6 L696.4,859.1 L696.9,860.6 L697.4,862.0 L698.0,863.5 L698.5,864.9 L699.0,866.3 L699.6,867.8 L700.2,869.2 L700.7,870.6 L701.3,872.1 L701.9,873.5 L702.5,874.9 L703.1,876.4 L703.7,877.8 L704.3,879.2 L704.9,880.7 L705.6,882.1 L706.2,883.5 L706.9,884.9 L707.6,886.2 L708.3,887.6 L709.0,889.0 L709.7,890.3 L710.5,891.6 L711.3,892.9 L712.2,894.2 L713.1,895.4 L714.1,896.7 L715.0,897.9 L715.9,899.1 L716.8,900.4 L717.7,901.7 L718.5,903.0 L719.2,904.3 L719.9,905.7 L720.6,907.1 L721.2,908.5 L721.9,909.9 L722.6,911.3 L723.3,912.7 L724.1,914.0 L724.9,915.3 L725.8,916.6 L726.7,917.8 L727.6,919.1 L728.5,920.3 L729.5,921.6 L730.4,922.8 L731.4,924.0 L732.4,925.1 L733.4,926.3 L734.5,927.4 L735.5,928.5 L736.6,929.7 L737.7,930.8 L738.8,931.8 L739.9,932.9 L741.1,933.9 L742.2,935.0 L743.4,936.0 L744.6,936.9 L745.8,937.9 L747.0,938.9 L748.2,939.8 L749.5,940.7 L750.7,941.6 L752.0,942.5 L753.3,943.4 L754.6,944.2 L755.9,945.0 L757.2,945.8 L758.6,946.6 L759.9,947.3 L761.3,948.1 L762.6,948.8 L764.0,949.5 L765.4,950.1 L766.8,950.8 L768.3,951.4 L769.7,951.9 L771.1,952.5 L772.6,953.0 L774.0,953.6 L775.5,954.1 L777.0,954.5 L778.5,955.0 L779.9,955.4 L781.4,955.7 L782.9,956.1 L784.4,956.4 L786.0,956.8 L787.5,957.1 L789.0,957.4 L790.5,957.6 L792.0,957.9 L793.6,958.1 L795.1,958.3 L796.6,958.5 L798.2,958.7 L799.7,958.8 L801.2,959.0 L802.8,959.1 L804.3,959.2 L805.8,959.4 L807.4,959.5 L808.9,959.5 L810.5,959.6 L812.0,959.6 L885.0,959.9 L883.3,959.7 L881.6,959.5 L879.9,959.3 L878.1,959.1 L876.4,959.0 L874.7,958.8 L873.0,958.7 L871.3,958.5 L869.6,958.4 L867.8,958.3 L866.1,958.2 L864.4,958.0 L862.7,957.9 L861.0,957.8 L859.2,957.7 L857.5,957.6 L855.8,957.4 L854.1,957.3 L852.4,957.2 L850.6,957.1 L848.9,956.9 L847.2,956.8 L845.5,956.6 L843.8,956.4 L842.1,956.2 L840.4,956.1 L838.6,955.9 L836.9,955.7 L835.2,955.4 L833.5,955.2 L831.8,955.0 L830.1,954.7 L828.4,954.5 L826.7,954.2 L825.0,954.0 L823.3,953.7 L821.6,953.4 L819.9,953.1 L818.2,952.8 L816.5,952.5 L814.8,952.2 L813.1,951.9 L811.4,951.6 L809.7,951.2 L808.0,950.8 L806.3,950.4 L804.7,950.0 L803.0,949.6 L801.4,949.0 L799.8,948.4 L798.2,947.7 L796.7,946.9 L795.1,946.2 L793.5,945.5 L791.9,945.0 L790.2,944.4 L788.6,943.8 L787.1,943.1 L785.6,942.2 L784.2,941.2 L782.8,940.2 L781.4,939.1 L780.1,938.0 L778.8,936.8 L777.5,935.7 L776.2,934.6 L774.9,933.4 L773.6,932.2 L772.4,931.0 L771.2,929.8 L770.0,928.5 L768.9,927.2 L767.7,925.9 L766.6,924.6 L765.5,923.3 L764.5,921.9 L763.5,920.6 L762.4,919.2 L761.4,917.8 L760.4,916.3 L759.4,914.9 L758.5,913.5 L757.5,912.1 L756.5,910.7 L755.5,909.2 L754.5,907.8 L753.6,906.3 L752.8,904.8 L752.0,903.3 L751.2,901.8 L750.6,900.2 L750.0,898.6 L749.4,897.0 L748.9,895.3 L748.3,893.7 L747.7,892.0 L747.1,890.4 L746.5,888.8 L745.8,887.3 L745.1,885.7 L744.3,884.1 L743.6,882.6 L742.9,881.0 L742.1,879.4 L741.4,877.9 L740.6,876.3 L739.9,874.8 L739.2,873.2 L738.5,871.6 L737.8,870.0 L737.1,868.5 L736.5,866.9 L735.9,865.3 L735.2,863.7 L734.6,862.1 L734.0,860.4 L733.4,858.8 L732.8,857.2 L732.2,855.6 L731.6,854.0 L731.0,852.4 L730.4,850.7 L729.8,849.1 L729.2,847.5 L728.7,845.9 L728.1,844.2 L727.5,842.6 L726.9,841.0 L726.4,839.4 L725.8,837.7 L725.2,836.1 L724.7,834.5 L724.1,832.8 L723.6,831.2 L723.0,829.6 L722.5,827.9 L722.0,826.3 L721.5,824.6 L721.0,823.0 L720.5,821.3 L720.1,819.7 L719.6,818.0 L719.2,816.3 L718.8,814.7 L718.4,813.0 L718.0,811.3 L717.5,809.6 L717.1,808.0 L716.7,806.3 L716.3,804.6 L715.9,802.9 L715.5,801.3 L715.1,799.6 L714.7,797.9 L714.3,796.2 L713.9,794.6 L713.4,792.9 L713.0,791.2 L712.6,789.6 L712.1,787.9 L711.7,786.2 L711.3,784.5 L710.8,782.9 L710.4,781.2 L710.0,779.5 L709.6,777.9 L709.2,776.2 L708.9,774.5 L708.5,772.8 L708.2,771.1 L707.8,769.4 L707.5,767.7 L707.1,766.1 L706.8,764.4 L706.5,762.7 L706.2,761.0 L705.8,759.3 L705.5,757.6 L705.2,755.9 L704.9,754.2 L704.6,752.5 L704.3,750.8 L704.0,749.1 L703.7,747.4 L703.4,745.7 L703.2,744.0 L702.9,742.3 L702.7,740.6 L702.4,738.9 L702.2,737.2 L701.9,735.5 L701.6,733.8 L701.3,732.1 L701.0,730.4 L700.7,728.7 L700.3,727.0 L699.9,725.3 L699.5,723.7 L699.0,722.0Z" fill="#c4c4c4"/>
<path d="M763.5,722.0 L763.8,723.2 L764.0,724.5 L764.3,725.7 L764.6,726.9 L764.8,728.2 L765.0,729.4 L765.3,730.7 L765.5,731.9 L765.7,733.2 L765.9,734.4 L766.1,735.7 L766.3,736.9 L766.5,738.2 L766.7,739.4 L766.9,740.7 L767.1,741.9 L767.3,743.2 L767.5,744.4 L767.7,745.7 L767.9,746.9 L768.2,748.2 L768.4,749.4 L768.6,750.6 L768.8,751.9 L769.0,753.1 L769.3,754.4 L769.5,755.6 L769.7,756.9 L770.0,758.1 L770.3,759.3 L770.5,760.6 L770.8,761.8 L771.1,763.0 L771.3,764.3 L771.6,765.5 L771.9,766.7 L772.2,768.0 L772.5,769.2 L772.8,770.4 L773.1,771.7 L773.3,772.9 L773.6,774.1 L773.9,775.4 L774.2,776.6 L774.5,777.8 L774.8,779.1 L775.1,780.3 L775.4,781.5 L775.6,782.8 L775.9,784.0 L776.2,785.2 L776.5,786.5 L776.8,787.7 L777.1,788.9 L777.4,790.2 L777.6,791.4 L777.9,792.6 L778.2,793.9 L778.5,795.1 L778.8,796.3 L779.1,797.5 L779.4,798.8 L779.7,800.0 L780.0,801.2 L780.3,802.5 L780.6,803.7 L780.9,804.9 L781.2,806.2 L781.5,807.4 L781.8,808.6 L782.1,809.8 L782.4,811.1 L782.7,812.3 L783.0,813.5 L783.3,814.7 L783.6,816.0 L783.9,817.2 L784.2,818.4 L784.6,819.6 L784.9,820.9 L785.2,822.1 L785.5,823.3 L785.9,824.5 L786.2,825.7 L786.5,827.0 L786.9,828.2 L787.2,829.4 L787.6,830.6 L787.9,831.8 L788.2,833.1 L788.6,834.3 L788.9,835.5 L789.3,836.7 L789.6,837.9 L790.0,839.1 L790.4,840.4 L790.7,841.6 L791.1,842.8 L791.4,844.0 L791.8,845.2 L792.1,846.4 L792.5,847.6 L792.9,848.9 L793.2,850.1 L793.5,851.3 L793.9,852.5 L794.2,853.8 L794.6,855.0 L794.9,856.2 L795.3,857.4 L795.6,858.7 L796.0,859.9 L796.3,861.1 L796.7,862.3 L797.1,863.5 L797.5,864.7 L797.8,866.0 L798.2,867.2 L798.6,868.4 L799.0,869.6 L799.4,870.7 L799.9,871.9 L800.3,873.1 L800.7,874.3 L801.2,875.4 L801.7,876.6 L802.1,877.7 L802.6,878.9 L803.2,880.0 L803.7,881.1 L804.3,882.3 L804.8,883.4 L805.4,884.5 L806.0,885.6 L806.6,886.7 L807.3,887.8 L807.9,888.9 L808.6,890.0 L809.2,891.1 L809.9,892.2 L810.6,893.3 L811.3,894.4 L811.9,895.4 L812.6,896.5 L813.3,897.6 L814.0,898.6 L814.7,899.7 L815.4,900.8 L816.1,901.8 L816.8,902.9 L817.5,903.9 L818.2,905.0 L818.9,906.1 L819.6,907.1 L820.3,908.2 L821.0,909.2 L821.7,910.3 L822.4,911.3 L823.2,912.3 L823.9,913.4 L824.7,914.4 L825.4,915.4 L826.2,916.4 L827.0,917.4 L827.8,918.4 L828.6,919.3 L829.4,920.3 L830.2,921.3 L831.1,922.2 L831.9,923.1 L832.8,924.1 L833.7,925.0 L834.6,925.9 L835.5,926.8 L836.4,927.6 L837.3,928.5 L838.3,929.3 L839.3,930.1 L840.2,930.9 L841.2,931.7 L842.3,932.4 L843.3,933.2 L844.3,933.9 L845.4,934.6 L846.5,935.3 L847.5,936.0 L848.6,936.6 L849.7,937.3 L850.8,937.9 L851.9,938.5 L853.0,939.2 L854.1,939.8 L855.2,940.5 L856.3,941.1 L857.4,941.8 L858.5,942.4 L859.6,943.0 L860.8,943.6 L861.9,944.2 L863.0,944.8 L864.2,945.3 L865.3,945.9 L866.5,946.4 L867.6,946.9 L868.8,947.3 L870.0,947.8 L871.1,948.2 L872.3,948.5 L873.5,948.9 L874.7,949.2 L875.9,949.5 L877.1,949.9 L878.4,950.2 L879.6,950.5 L880.8,950.7 L882.1,951.0 L883.3,951.3 L884.6,951.5 L885.8,951.8 L887.1,952.0 L888.3,952.3 L889.6,952.5 L890.8,952.7 L892.1,952.9 L893.4,953.1 L894.6,953.3 L895.9,953.5 L897.1,953.7 L898.4,953.8 L899.6,954.0 L900.9,954.2 L902.1,954.3 L903.4,954.5 L904.6,954.6 L905.9,954.8 L907.1,955.0 L908.4,955.1 L909.6,955.3 L910.9,955.4 L912.2,955.5 L913.4,955.7 L914.7,955.8 L915.9,955.9 L917.2,956.1 L918.5,956.2 L919.7,956.3 L921.0,956.4 L922.2,956.5 L923.5,956.7 L924.8,956.8 L926.0,956.9 L927.3,957.0 L928.6,957.1 L929.8,957.1 L931.1,957.2 L932.3,957.3 L933.6,957.4 L934.9,957.5 L936.1,957.5 L937.4,957.6 L938.7,957.7 L939.9,957.7 L941.2,957.8 L942.4,957.9 L943.7,957.9 L945.0,958.0 L946.2,958.1 L947.5,958.1 L948.8,958.2 L950.0,958.2 L951.3,958.3 L952.5,958.4 L953.8,958.4 L955.1,958.5 L956.3,958.5 L957.6,958.6 L958.9,958.6 L960.1,958.7 L961.4,958.7 L962.7,958.8 L963.9,958.8 L965.2,958.9 L966.4,958.9 L967.7,959.0 L969.0,959.0 L970.2,959.1 L971.5,959.1 L972.8,959.1 L974.0,959.1 L975.3,959.2 L976.6,959.2 L977.8,959.2 L979.1,959.2 L980.4,959.3 L981.6,959.3 L982.9,959.3 L984.2,959.3 L985.4,959.3 L986.7,959.3 L995.3,959.3 L994.0,959.3 L992.8,959.3 L991.5,959.3 L990.2,959.3 L989.0,959.3 L987.7,959.2 L986.4,959.2 L985.2,959.2 L983.9,959.2 L982.6,959.1 L981.4,959.1 L980.1,959.1 L978.8,959.1 L977.6,959.0 L976.3,959.0 L975.0,958.9 L973.8,958.9 L972.5,958.8 L971.3,958.8 L970.0,958.7 L968.7,958.7 L967.5,958.6 L966.2,958.6 L964.9,958.5 L963.7,958.5 L962.4,958.4 L961.1,958.4 L959.9,958.3 L958.6,958.2 L957.4,958.2 L956.1,958.1 L954.8,958.1 L953.6,958.0 L952.3,957.9 L951.0,957.9 L949.8,957.8 L948.5,957.7 L947.3,957.7 L946.0,957.6 L944.7,957.5 L943.5,957.5 L942.2,957.4 L940.9,957.3 L939.7,957.2 L938.4,957.1 L937.2,957.1 L935.9,957.0 L934.6,956.9 L933.4,956.8 L932.1,956.7 L930.8,956.5 L929.6,956.4 L928.3,956.3 L927.1,956.2 L925.8,956.1 L924.5,955.9 L923.3,955.8 L922.0,955.7 L920.8,955.5 L919.5,955.4 L918.2,955.3 L917.0,955.1 L915.7,955.0 L914.5,954.8 L913.2,954.6 L912.0,954.5 L910.7,954.3 L909.5,954.2 L908.2,954.0 L907.0,953.8 L905.7,953.7 L904.5,953.5 L903.2,953.3 L902.0,953.1 L900.7,952.9 L899.4,952.7 L898.2,952.5 L896.9,952.3 L895.7,952.0 L894.4,951.8 L893.2,951.5 L891.9,951.3 L890.7,951.0 L889.4,950.7 L888.2,950.5 L887.0,950.2 L885.7,949.9 L884.5,949.5 L883.3,949.2 L882.1,948.9 L880.9,948.5 L879.7,948.2 L878.6,947.8 L877.4,947.3 L876.2,946.9 L875.1,946.4 L873.9,945.9 L872.8,945.3 L871.6,944.8 L870.5,944.2 L869.4,943.6 L868.2,943.0 L867.1,942.4 L866.0,941.8 L864.9,941.1 L863.8,940.5 L862.7,939.8 L861.6,939.2 L860.5,938.5 L859.4,937.9 L858.3,937.3 L857.2,936.6 L856.1,936.0 L855.1,935.3 L854.0,934.6 L852.9,933.9 L851.9,933.2 L850.9,932.4 L849.8,931.7 L848.8,930.9 L847.9,930.1 L846.9,929.3 L845.9,928.5 L845.0,927.6 L844.1,926.8 L843.2,925.9 L842.3,925.0 L841.4,924.1 L840.5,923.1 L839.7,922.2 L838.8,921.3 L838.0,920.3 L837.2,919.3 L836.4,918.4 L835.6,917.4 L834.8,916.4 L834.0,915.4 L833.3,914.4 L832.5,913.4 L831.8,912.3 L831.0,911.3 L830.3,910.3 L829.6,909.2 L828.9,908.2 L828.2,907.1 L827.5,906.1 L826.8,905.0 L826.1,903.9 L825.4,902.9 L824.7,901.8 L824.0,900.8 L823.3,899.7 L822.6,898.6 L821.9,897.6 L821.2,896.5 L820.5,895.4 L819.9,894.4 L819.2,893.3 L818.5,892.2 L817.8,891.1 L817.2,890.0 L816.5,888.9 L815.9,887.8 L815.2,886.7 L814.6,885.6 L814.0,884.5 L813.4,883.4 L812.9,882.3 L812.3,881.1 L811.8,880.0 L811.2,878.9 L810.7,877.7 L810.3,876.6 L809.8,875.4 L809.3,874.3 L808.9,873.1 L808.5,871.9 L808.0,870.7 L807.6,869.6 L807.2,868.4 L806.8,867.2 L806.4,866.0 L806.1,864.7 L805.7,863.5 L805.3,862.3 L804.9,861.1 L804.6,859.9 L804.2,858.7 L803.9,857.4 L803.5,856.2 L803.2,855.0 L802.8,853.8 L802.5,852.5 L802.1,851.3 L801.8,850.1 L801.5,848.9 L801.1,847.6 L800.7,846.4 L800.4,845.2 L800.0,844.0 L799.7,842.8 L799.3,841.6 L799.0,840.4 L798.6,839.1 L798.2,837.9 L797.9,836.7 L797.5,835.5 L797.2,834.3 L796.8,833.1 L796.5,831.8 L796.2,830.6 L795.8,829.4 L795.5,828.2 L795.1,827.0 L794.8,825.7 L794.5,824.5 L794.1,823.3 L793.8,822.1 L793.5,820.9 L793.2,819.6 L792.8,818.4 L792.5,817.2 L792.2,816.0 L791.9,814.7 L791.6,813.5 L791.3,812.3 L791.0,811.1 L790.7,809.8 L790.4,808.6 L790.1,807.4 L789.8,806.2 L789.5,804.9 L789.2,803.7 L788.9,802.5 L788.6,801.2 L788.3,800.0 L788.0,798.8 L787.7,797.5 L787.4,796.3 L787.1,795.1 L786.8,793.9 L786.5,792.6 L786.2,791.4 L786.0,790.2 L785.7,788.9 L785.4,787.7 L785.1,786.5 L784.8,785.2 L784.5,784.0 L784.2,782.8 L784.0,781.5 L783.7,780.3 L783.4,779.1 L783.1,777.8 L782.8,776.6 L782.5,775.4 L782.2,774.1 L781.9,772.9 L781.7,771.7 L781.4,770.4 L781.1,769.2 L780.8,768.0 L780.5,766.7 L780.2,765.5 L779.9,764.3 L779.7,763.0 L779.4,761.8 L779.1,760.6 L778.9,759.3 L778.6,758.1 L778.3,756.9 L778.1,755.6 L777.9,754.4 L777.6,753.1 L777.4,751.9 L777.2,750.6 L777.0,749.4 L776.8,748.2 L776.5,746.9 L776.3,745.7 L776.1,744.4 L775.9,743.2 L775.7,741.9 L775.5,740.7 L775.3,739.4 L775.1,738.2 L774.9,736.9 L774.7,735.7 L774.5,734.4 L774.3,733.2 L774.1,731.9 L773.9,730.7 L773.6,729.4 L773.4,728.2 L773.2,726.9 L772.9,725.7 L772.6,724.5 L772.4,723.2 L772.1,722.0Z" fill="#ffaaaa" stroke="#ffaaaa" stroke-width="0.8" stroke-linejoin="round"/>
<path d="M767.8,719.1 L768.1,720.3 L768.3,721.6 L768.6,722.8 L768.9,724.0 L769.1,725.3 L769.3,726.5 L769.6,727.8 L769.8,729.0 L770.0,730.3 L770.2,731.5 L770.4,732.8 L770.6,734.0 L770.8,735.3 L771.0,736.5 L771.2,737.8 L771.4,739.0 L771.6,740.3 L771.8,741.5 L772.0,742.8 L772.2,744.0 L772.5,745.3 L772.7,746.5 L772.9,747.7 L773.1,749.0 L773.3,750.2 L773.6,751.5 L773.8,752.7 L774.0,754.0 L774.3,755.2 L774.6,756.4 L774.8,757.7 L775.1,758.9 L775.4,760.1 L775.6,761.4 L775.9,762.6 L776.2,763.8 L776.5,765.1 L776.8,766.3 L777.1,767.5 L777.4,768.8 L777.6,770.0 L777.9,771.2 L778.2,772.5 L778.5,773.7 L778.8,774.9 L779.1,776.2 L779.4,777.4 L779.7,778.6 L779.9,779.9 L780.2,781.1 L780.5,782.3 L780.8,783.6 L781.1,784.8 L781.4,786.0 L781.7,787.3 L781.9,788.5 L782.2,789.7 L782.5,791.0 L782.8,792.2 L783.1,793.4 L783.4,794.6 L783.7,795.9 L784.0,797.1 L784.3,798.3 L784.6,799.6 L784.9,800.8 L785.2,802.0 L785.5,803.3 L785.8,804.5 L786.1,805.7 L786.4,806.9 L786.7,808.2 L787.0,809.4 L787.3,810.6 L787.6,811.8 L787.9,813.1 L788.2,814.3 L788.5,815.5 L788.9,816.7 L789.2,818.0 L789.5,819.2 L789.8,820.4 L790.2,821.6 L790.5,822.8 L790.8,824.1 L791.2,825.3 L791.5,826.5 L791.9,827.7 L792.2,828.9 L792.5,830.2 L792.9,831.4 L793.2,832.6 L793.6,833.8 L793.9,835.0 L794.3,836.2 L794.7,837.5 L795.0,838.7 L795.4,839.9 L795.7,841.1 L796.1,842.3 L796.4,843.5 L796.8,844.7 L797.2,846.0 L797.5,847.2 L797.8,848.4 L798.2,849.6 L798.5,850.9 L798.9,852.1 L799.2,853.3 L799.6,854.5 L799.9,855.8 L800.3,857.0 L800.6,858.2 L801.0,859.4 L801.4,860.6 L801.8,861.8 L802.1,863.1 L802.5,864.3 L802.9,865.5 L803.3,866.7 L803.7,867.8 L804.2,869.0 L804.6,870.2 L805.0,871.4 L805.5,872.5 L806.0,873.7 L806.4,874.8 L806.9,876.0 L807.5,877.1 L808.0,878.2 L808.6,879.4 L809.1,880.5 L809.7,881.6 L810.3,882.7 L810.9,883.8 L811.6,884.9 L812.2,886.0 L812.9,887.1 L813.5,888.2 L814.2,889.3 L814.9,890.4 L815.6,891.5 L816.2,892.5 L816.9,893.6 L817.6,894.7 L818.3,895.7 L819.0,896.8 L819.7,897.9 L820.4,898.9 L821.1,900.0 L821.8,901.0 L822.5,902.1 L823.2,903.2 L823.9,904.2 L824.6,905.3 L825.3,906.3 L826.0,907.4 L826.7,908.4 L827.5,909.4 L828.2,910.5 L829.0,911.5 L829.7,912.5 L830.5,913.5 L831.3,914.5 L832.1,915.5 L832.9,916.4 L833.7,917.4 L834.5,918.4 L835.4,919.3 L836.2,920.2 L837.1,921.2 L838.0,922.1 L838.9,923.0 L839.8,923.9 L840.7,924.7 L841.6,925.6 L842.6,926.4 L843.6,927.2 L844.5,928.0 L845.5,928.8 L846.6,929.5 L847.6,930.3 L848.6,931.0 L849.7,931.7 L850.8,932.4 L851.8,933.1 L852.9,933.7 L854.0,934.4 L855.1,935.0 L856.2,935.6 L857.3,936.3 L858.4,936.9 L859.5,937.6 L860.6,938.2 L861.7,938.9 L862.8,939.5 L863.9,940.1 L865.1,940.7 L866.2,941.3 L867.3,941.9 L868.5,942.4 L869.6,943.0 L870.8,943.5 L871.9,944.0 L873.1,944.4 L874.3,944.9 L875.4,945.3 L876.6,945.6 L877.8,946.0 L879.0,946.3 L880.2,946.7 L881.4,947.0 L882.7,947.4 L883.9,947.8 L885.1,948.1 L886.4,948.5 L887.6,948.8 L888.9,949.2 L890.1,949.5 L891.4,949.8 L892.6,950.1 L893.9,950.4 L895.1,950.7 L896.4,951.0 L897.7,951.2 L898.9,951.5 L900.2,951.8 L901.4,952.0 L902.7,952.2 L903.9,952.5 L905.2,952.7 L906.4,953.0 L907.7,953.2 L908.9,953.4 L910.2,953.7 L911.4,953.9 L912.7,954.1 L913.9,954.3 L915.2,954.5 L916.5,954.8 L917.7,955.0 L919.0,955.2 L920.2,955.4 L921.5,955.6 L922.8,955.8 L924.0,956.0 L925.3,956.2 L926.5,956.3 L927.8,956.5 L929.1,956.7 L930.3,956.9 L931.6,957.0 L932.9,957.1 L934.1,957.1 L935.4,957.2 L936.6,957.3 L937.9,957.4 L939.2,957.5 L940.4,957.5 L941.7,957.6 L943.0,957.7 L944.2,957.7 L945.5,957.8 L946.7,957.9 L948.0,957.9 L949.3,958.0 L950.5,958.1 L951.8,958.1 L953.1,958.2 L954.3,958.2 L955.6,958.3 L956.8,958.4 L958.1,958.4 L959.4,958.5 L960.6,958.5 L961.9,958.6 L963.2,958.6 L964.4,958.7 L965.7,958.7 L967.0,958.8 L968.2,958.8 L969.5,958.9 L970.7,958.9 L972.0,959.0 L973.3,959.0 L974.5,959.1 L975.8,959.1 L977.1,959.1 L978.3,959.1 L979.6,959.2 L980.9,959.2 L982.1,959.2 L983.4,959.2 L984.7,959.3 L985.9,959.3 L987.2,959.3 L988.5,959.3 L989.7,959.3 L991.0,959.3 L991.0,959.3 L989.7,959.3 L988.5,959.3 L987.2,959.3 L985.9,959.3 L984.7,959.3 L983.4,959.2 L982.1,959.2 L980.9,959.2 L979.6,959.2 L978.3,959.1 L977.1,959.1 L975.8,959.1 L974.5,959.1 L973.3,959.0 L972.0,959.0 L970.7,958.9 L969.5,958.9 L968.2,958.8 L967.0,958.8 L965.7,958.7 L964.4,958.7 L963.2,958.6 L961.9,958.6 L960.6,958.5 L959.4,958.5 L958.1,958.4 L956.8,958.4 L955.6,958.3 L954.3,958.2 L953.1,958.2 L951.8,958.1 L950.5,958.1 L949.3,958.0 L948.0,957.9 L946.7,957.9 L945.5,957.8 L944.2,957.7 L943.0,957.7 L941.7,957.6 L940.4,957.5 L939.2,957.5 L937.9,957.4 L936.6,957.3 L935.4,957.2 L934.1,957.1 L932.9,957.1 L931.6,957.0 L930.3,956.9 L929.1,956.8 L927.8,956.8 L926.5,956.7 L925.3,956.7 L924.0,956.7 L922.8,956.6 L921.5,956.6 L920.2,956.5 L919.0,956.5 L917.7,956.4 L916.5,956.3 L915.2,956.3 L913.9,956.2 L912.7,956.1 L911.4,956.0 L910.2,956.0 L908.9,955.9 L907.7,955.8 L906.4,955.7 L905.2,955.6 L903.9,955.5 L902.7,955.4 L901.4,955.3 L900.2,955.2 L898.9,955.1 L897.7,955.0 L896.4,954.9 L895.1,954.7 L893.9,954.6 L892.6,954.4 L891.4,954.3 L890.1,954.1 L888.9,953.9 L887.6,953.7 L886.4,953.6 L885.1,953.3 L883.9,953.1 L882.7,952.9 L881.4,952.7 L880.2,952.4 L879.0,952.1 L877.8,951.8 L876.6,951.4 L875.4,951.1 L874.3,950.7 L873.1,950.2 L871.9,949.8 L870.8,949.3 L869.6,948.8 L868.5,948.2 L867.3,947.7 L866.2,947.1 L865.1,946.5 L863.9,945.9 L862.8,945.3 L861.7,944.7 L860.6,944.0 L859.5,943.4 L858.4,942.7 L857.3,942.1 L856.2,941.4 L855.1,940.8 L854.0,940.2 L852.9,939.5 L851.8,938.9 L850.8,938.2 L849.7,937.5 L848.6,936.8 L847.6,936.1 L846.6,935.3 L845.5,934.6 L844.5,933.8 L843.6,933.0 L842.6,932.2 L841.6,931.4 L840.7,930.5 L839.8,929.7 L838.9,928.8 L838.0,927.9 L837.1,927.0 L836.2,926.0 L835.4,925.1 L834.5,924.2 L833.7,923.2 L832.9,922.2 L832.1,921.3 L831.3,920.3 L830.5,919.3 L829.7,918.3 L829.0,917.3 L828.2,916.3 L827.5,915.2 L826.7,914.2 L826.0,913.2 L825.3,912.1 L824.6,911.1 L823.9,910.0 L823.2,909.0 L822.5,907.9 L821.8,906.8 L821.1,905.8 L820.4,904.7 L819.7,903.7 L819.0,902.6 L818.3,901.5 L817.6,900.5 L816.9,899.4 L816.2,898.3 L815.6,897.3 L814.9,896.2 L814.2,895.1 L813.5,894.0 L812.9,892.9 L812.2,891.8 L811.6,890.7 L810.9,889.6 L810.3,888.5 L809.7,887.4 L809.1,886.3 L808.6,885.2 L808.0,884.0 L807.5,882.9 L806.9,881.8 L806.4,880.6 L806.0,879.5 L805.5,878.3 L805.0,877.2 L804.6,876.0 L804.2,874.8 L803.7,873.6 L803.3,872.5 L802.9,871.3 L802.5,870.1 L802.1,868.9 L801.8,867.6 L801.4,866.4 L801.0,865.2 L800.6,864.0 L800.3,862.8 L799.9,861.6 L799.6,860.3 L799.2,859.1 L798.9,857.9 L798.5,856.7 L798.2,855.4 L797.8,854.2 L797.5,853.0 L797.2,851.8 L796.8,850.5 L796.4,849.3 L796.1,848.1 L795.7,846.9 L795.4,845.7 L795.0,844.5 L794.7,843.3 L794.3,842.0 L793.9,840.8 L793.6,839.6 L793.2,838.4 L792.9,837.2 L792.5,836.0 L792.2,834.7 L791.9,833.5 L791.5,832.3 L791.2,831.1 L790.8,829.9 L790.5,828.6 L790.2,827.4 L789.8,826.2 L789.5,825.0 L789.2,823.8 L788.9,822.5 L788.5,821.3 L788.2,820.1 L787.9,818.9 L787.6,817.6 L787.3,816.4 L787.0,815.2 L786.7,814.0 L786.4,812.7 L786.1,811.5 L785.8,810.3 L785.5,809.1 L785.2,807.8 L784.9,806.6 L784.6,805.4 L784.3,804.1 L784.0,802.9 L783.7,801.7 L783.4,800.4 L783.1,799.2 L782.8,798.0 L782.5,796.8 L782.2,795.5 L781.9,794.3 L781.7,793.1 L781.4,791.8 L781.1,790.6 L780.8,789.4 L780.5,788.1 L780.2,786.9 L779.9,785.7 L779.7,784.4 L779.4,783.2 L779.1,782.0 L778.8,780.7 L778.5,779.5 L778.2,778.3 L777.9,777.0 L777.6,775.8 L777.4,774.6 L777.1,773.3 L776.8,772.1 L776.5,770.9 L776.2,769.6 L775.9,768.4 L775.6,767.2 L775.4,765.9 L775.1,764.7 L774.8,763.5 L774.6,762.2 L774.3,761.0 L774.0,759.8 L773.8,758.5 L773.6,757.3 L773.3,756.0 L773.1,754.8 L772.9,753.5 L772.7,752.3 L772.5,751.1 L772.2,749.8 L772.0,748.6 L771.8,747.3 L771.6,746.1 L771.4,744.8 L771.2,743.6 L771.0,742.3 L770.8,741.1 L770.6,739.8 L770.4,738.6 L770.2,737.3 L770.0,736.1 L769.8,734.8 L769.6,733.6 L769.3,732.3 L769.1,731.1 L768.9,729.8 L768.6,728.6 L768.3,727.4 L768.1,726.1 L767.8,724.9Z" fill="#ffaaaa"/>
<path d="M682.6,722.0 L682.7,723.2 L682.9,724.4 L683.0,725.5 L683.2,726.7 L683.3,727.9 L683.5,729.1 L683.6,730.2 L683.8,731.4 L684.0,732.6 L684.1,733.8 L684.3,735.0 L684.4,736.1 L684.6,737.3 L684.8,738.5 L684.9,739.7 L685.1,740.8 L685.3,742.0 L685.4,743.2 L685.6,744.4 L685.8,745.5 L686.0,746.7 L686.2,747.9 L686.3,749.1 L686.5,750.2 L686.7,751.4 L686.9,752.6 L687.1,753.7 L687.3,754.9 L687.6,756.1 L687.8,757.3 L688.0,758.4 L688.2,759.6 L688.4,760.8 L688.7,761.9 L688.9,763.1 L689.1,764.3 L689.3,765.4 L689.6,766.6 L689.8,767.8 L690.1,768.9 L690.3,770.1 L690.5,771.2 L690.8,772.4 L691.0,773.6 L691.3,774.7 L691.5,775.9 L691.8,777.1 L692.0,778.2 L692.3,779.4 L692.5,780.5 L692.8,781.7 L693.1,782.8 L693.3,784.0 L693.6,785.2 L693.9,786.3 L694.1,787.5 L694.4,788.6 L694.7,789.8 L695.0,790.9 L695.2,792.1 L695.5,793.3 L695.8,794.4 L696.1,795.6 L696.3,796.7 L696.6,797.9 L696.9,799.0 L697.1,800.2 L697.4,801.4 L697.7,802.5 L698.0,803.7 L698.2,804.8 L698.5,806.0 L698.8,807.1 L699.1,808.3 L699.4,809.4 L699.7,810.6 L700.0,811.7 L700.3,812.9 L700.6,814.0 L700.9,815.2 L701.2,816.3 L701.5,817.5 L701.8,818.6 L702.1,819.8 L702.5,820.9 L702.8,822.0 L703.1,823.2 L703.5,824.3 L703.8,825.4 L704.2,826.6 L704.5,827.7 L704.9,828.9 L705.2,830.0 L705.6,831.1 L705.9,832.3 L706.3,833.4 L706.6,834.5 L707.0,835.7 L707.3,836.8 L707.7,837.9 L708.0,839.1 L708.3,840.2 L708.7,841.4 L709.1,842.5 L709.4,843.6 L709.8,844.7 L710.2,845.9 L710.6,847.0 L711.0,848.1 L711.4,849.2 L711.8,850.3 L712.2,851.5 L712.6,852.6 L713.0,853.7 L713.4,854.8 L713.9,855.9 L714.3,857.0 L714.7,858.1 L715.1,859.3 L715.5,860.4 L715.9,861.5 L716.3,862.6 L716.7,863.7 L717.1,864.9 L717.5,866.0 L717.8,867.1 L718.2,868.2 L718.6,869.4 L719.0,870.5 L719.3,871.6 L719.7,872.8 L720.1,873.9 L720.5,875.0 L720.9,876.1 L721.3,877.2 L721.7,878.3 L722.1,879.5 L722.6,880.6 L723.0,881.7 L723.5,882.8 L723.9,883.9 L724.4,884.9 L724.8,886.0 L725.3,887.1 L725.8,888.2 L726.3,889.3 L726.9,890.4 L727.4,891.4 L727.9,892.5 L728.5,893.5 L729.1,894.5 L729.7,895.5 L730.4,896.5 L731.1,897.5 L731.7,898.5 L732.4,899.4 L733.1,900.4 L733.8,901.4 L734.5,902.4 L735.1,903.4 L735.7,904.4 L736.3,905.4 L736.9,906.5 L737.5,907.5 L738.1,908.6 L738.7,909.6 L739.3,910.6 L739.9,911.7 L740.5,912.7 L741.1,913.7 L741.8,914.7 L742.4,915.6 L743.1,916.6 L743.8,917.5 L744.6,918.4 L745.4,919.3 L746.2,920.2 L747.0,921.1 L747.8,921.9 L748.6,922.8 L749.5,923.6 L750.3,924.5 L751.2,925.3 L752.0,926.1 L752.9,926.9 L753.8,927.8 L754.6,928.6 L755.5,929.4 L756.4,930.1 L757.3,930.9 L758.2,931.7 L759.1,932.5 L760.1,933.2 L761.0,933.9 L761.9,934.7 L762.9,935.4 L763.8,936.1 L764.8,936.8 L765.8,937.5 L766.7,938.2 L767.7,938.8 L768.7,939.5 L769.7,940.1 L770.7,940.8 L771.7,941.4 L772.8,942.0 L773.8,942.6 L774.8,943.2 L775.8,943.8 L776.9,944.4 L777.9,945.0 L779.0,945.6 L780.1,946.1 L781.1,946.7 L782.2,947.2 L783.3,947.6 L784.4,948.1 L785.5,948.5 L786.6,948.9 L787.7,949.2 L788.8,949.6 L789.9,949.9 L791.1,950.2 L792.2,950.5 L793.4,950.8 L794.5,951.1 L795.7,951.3 L796.8,951.6 L798.0,951.8 L799.2,952.1 L800.4,952.3 L801.5,952.5 L802.7,952.8 L803.9,953.0 L805.1,953.2 L806.2,953.4 L807.4,953.7 L808.6,953.9 L809.8,954.1 L810.9,954.3 L812.1,954.5 L813.3,954.7 L814.4,954.9 L815.6,955.2 L816.8,955.4 L817.9,955.6 L819.1,955.8 L820.3,956.0 L821.5,956.2 L822.6,956.3 L823.8,956.5 L825.0,956.7 L826.2,956.9 L827.3,957.0 L828.5,957.2 L829.7,957.3 L830.9,957.4 L832.1,957.5 L833.2,957.6 L834.4,957.7 L835.6,957.9 L836.8,958.0 L838.0,958.0 L839.2,958.1 L840.3,958.2 L841.5,958.3 L842.7,958.4 L843.9,958.5 L845.1,958.6 L846.3,958.6 L847.5,958.7 L848.7,958.7 L849.8,958.8 L851.0,958.9 L852.2,958.9 L853.4,958.9 L854.6,959.0 L855.8,959.0 L857.0,959.1 L858.1,959.1 L859.3,959.2 L860.5,959.2 L861.7,959.3 L862.9,959.3 L864.1,959.3 L865.3,959.4 L866.5,959.4 L867.6,959.4 L868.8,959.5 L870.0,959.5 L871.2,959.5 L872.4,959.6 L873.6,959.6 L874.8,959.6 L876.0,959.6 L877.1,959.6 L878.3,959.6 L879.5,959.6 L880.7,959.6" fill="none" stroke="#000" stroke-width="3" stroke-dasharray="13 9.6"/>
<path d="M767.8,722.0 L768.1,723.2 L768.3,724.5 L768.6,725.7 L768.9,726.9 L769.1,728.2 L769.3,729.4 L769.6,730.7 L769.8,731.9 L770.0,733.2 L770.2,734.4 L770.4,735.7 L770.6,736.9 L770.8,738.2 L771.0,739.4 L771.2,740.7 L771.4,741.9 L771.6,743.2 L771.8,744.4 L772.0,745.7 L772.2,746.9 L772.5,748.2 L772.7,749.4 L772.9,750.6 L773.1,751.9 L773.3,753.1 L773.6,754.4 L773.8,755.6 L774.0,756.9 L774.3,758.1 L774.6,759.3 L774.8,760.6 L775.1,761.8 L775.4,763.0 L775.6,764.3 L775.9,765.5 L776.2,766.7 L776.5,768.0 L776.8,769.2 L777.1,770.4 L777.4,771.7 L777.6,772.9 L777.9,774.1 L778.2,775.4 L778.5,776.6 L778.8,777.8 L779.1,779.1 L779.4,780.3 L779.7,781.5 L779.9,782.8 L780.2,784.0 L780.5,785.2 L780.8,786.5 L781.1,787.7 L781.4,788.9 L781.7,790.2 L781.9,791.4 L782.2,792.6 L782.5,793.9 L782.8,795.1 L783.1,796.3 L783.4,797.5 L783.7,798.8 L784.0,800.0 L784.3,801.2 L784.6,802.5 L784.9,803.7 L785.2,804.9 L785.5,806.2 L785.8,807.4 L786.1,808.6 L786.4,809.8 L786.7,811.1 L787.0,812.3 L787.3,813.5 L787.6,814.7 L787.9,816.0 L788.2,817.2 L788.5,818.4 L788.9,819.6 L789.2,820.9 L789.5,822.1 L789.8,823.3 L790.2,824.5 L790.5,825.7 L790.8,827.0 L791.2,828.2 L791.5,829.4 L791.9,830.6 L792.2,831.8 L792.5,833.1 L792.9,834.3 L793.2,835.5 L793.6,836.7 L793.9,837.9 L794.3,839.1 L794.7,840.4 L795.0,841.6 L795.4,842.8 L795.7,844.0 L796.1,845.2 L796.4,846.4 L796.8,847.6 L797.2,848.9 L797.5,850.1 L797.8,851.3 L798.2,852.5 L798.5,853.8 L798.9,855.0 L799.2,856.2 L799.6,857.4 L799.9,858.7 L800.3,859.9 L800.6,861.1 L801.0,862.3 L801.4,863.5 L801.8,864.7 L802.1,866.0 L802.5,867.2 L802.9,868.4 L803.3,869.6 L803.7,870.7 L804.2,871.9 L804.6,873.1 L805.0,874.3 L805.5,875.4 L806.0,876.6 L806.4,877.7 L806.9,878.9 L807.5,880.0 L808.0,881.1 L808.6,882.3 L809.1,883.4 L809.7,884.5 L810.3,885.6 L810.9,886.7 L811.6,887.8 L812.2,888.9 L812.9,890.0 L813.5,891.1 L814.2,892.2 L814.9,893.3 L815.6,894.4 L816.2,895.4 L816.9,896.5 L817.6,897.6 L818.3,898.6 L819.0,899.7 L819.7,900.8 L820.4,901.8 L821.1,902.9 L821.8,903.9 L822.5,905.0 L823.2,906.1 L823.9,907.1 L824.6,908.2 L825.3,909.2 L826.0,910.3 L826.7,911.3 L827.5,912.3 L828.2,913.4 L829.0,914.4 L829.7,915.4 L830.5,916.4 L831.3,917.4 L832.1,918.4 L832.9,919.3 L833.7,920.3 L834.5,921.3 L835.4,922.2 L836.2,923.1 L837.1,924.1 L838.0,925.0 L838.9,925.9 L839.8,926.8 L840.7,927.6 L841.6,928.5 L842.6,929.3 L843.6,930.1 L844.5,930.9 L845.5,931.7 L846.6,932.4 L847.6,933.2 L848.6,933.9 L849.7,934.6 L850.8,935.3 L851.8,936.0 L852.9,936.6 L854.0,937.3 L855.1,937.9 L856.2,938.5 L857.3,939.2 L858.4,939.8 L859.5,940.5 L860.6,941.1 L861.7,941.8 L862.8,942.4 L863.9,943.0 L865.1,943.6 L866.2,944.2 L867.3,944.8 L868.5,945.3 L869.6,945.9 L870.8,946.4 L871.9,946.9 L873.1,947.3 L874.3,947.8 L875.4,948.2 L876.6,948.5 L877.8,948.9 L879.0,949.2 L880.2,949.5 L881.4,949.9 L882.7,950.2 L883.9,950.5 L885.1,950.7 L886.4,951.0 L887.6,951.3 L888.9,951.5 L890.1,951.8 L891.4,952.0 L892.6,952.3 L893.9,952.5 L895.1,952.7 L896.4,952.9 L897.7,953.1 L898.9,953.3 L900.2,953.5 L901.4,953.7 L902.7,953.8 L903.9,954.0 L905.2,954.2 L906.4,954.3 L907.7,954.5 L908.9,954.6 L910.2,954.8 L911.4,955.0 L912.7,955.1 L913.9,955.3 L915.2,955.4 L916.5,955.5 L917.7,955.7 L919.0,955.8 L920.2,955.9 L921.5,956.1 L922.8,956.2 L924.0,956.3 L925.3,956.4 L926.5,956.5 L927.8,956.7 L929.1,956.8 L930.3,956.9 L931.6,957.0 L932.9,957.1 L934.1,957.1 L935.4,957.2 L936.6,957.3 L937.9,957.4 L939.2,957.5 L940.4,957.5 L941.7,957.6 L943.0,957.7 L944.2,957.7 L945.5,957.8 L946.7,957.9 L948.0,957.9 L949.3,958.0 L950.5,958.1 L951.8,958.1 L953.1,958.2 L954.3,958.2 L955.6,958.3 L956.8,958.4 L958.1,958.4 L959.4,958.5 L960.6,958.5 L961.9,958.6 L963.2,958.6 L964.4,958.7 L965.7,958.7 L967.0,958.8 L968.2,958.8 L969.5,958.9 L970.7,958.9 L972.0,959.0 L973.3,959.0 L974.5,959.1 L975.8,959.1 L977.1,959.1 L978.3,959.1 L979.6,959.2 L980.9,959.2 L982.1,959.2 L983.4,959.2 L984.7,959.3 L985.9,959.3 L987.2,959.3 L988.5,959.3 L989.7,959.3 L991.0,959.3" fill="none" stroke="#ff0000" stroke-width="3.5" stroke-dasharray="13 8.5"/>
</g>
<g clip-path="url(#cim)">
<g stroke="#000" stroke-width="2.8" fill="#000">
<path d="M698.7,844.3 H720.7 M698.7,837.5 V851.1 M720.7,837.5 V851.1" fill="none"/>
<circle cx="709.7" cy="844.3" r="5.8"/>
<path d="M723.1,902.1 H745.1 M723.1,895.3 V908.9 M745.1,895.3 V908.9" fill="none"/>
<circle cx="734.1" cy="902.1" r="5.8"/>
<path d="M775.9,948.3 H797.9 M775.9,941.5 V955.1 M797.9,941.5 V955.1" fill="none"/>
<circle cx="786.9" cy="948.3" r="5.8"/>
<path d="M798.2,954.1 H820.2 M798.2,947.3 V960.9 M820.2,947.3 V960.9" fill="none"/>
<circle cx="809.2" cy="954.1" r="5.8"/>
</g>
<g stroke="#ff0000" stroke-width="2.1" fill="none">
<circle cx="795.2" cy="844.3" r="5.3"/>
<path d="M789.2,844.3 H801.2 M795.2,838.3 V850.3"/>
<circle cx="820.4" cy="902.1" r="5.3"/>
<path d="M814.4,902.1 H826.4 M820.4,896.1 V908.1"/>
<circle cx="876.2" cy="948.3" r="5.3"/>
<path d="M870.2,948.3 H882.2 M876.2,942.3 V954.3"/>
<circle cx="901.0" cy="954.1" r="5.3"/>
<path d="M895.0,954.1 H907.0 M901.0,948.1 V960.1"/>
</g>
</g>
<g stroke="#000" stroke-width="2.8" fill="none">
<path d="M662.5,727.3 V961.3"/>
<path d="M661.1,959.9 H992.8"/>
<path d="M652.5,959.9 H662.5M652.5,902.1 H662.5M652.5,844.3 H662.5M652.5,786.5 H662.5M652.5,728.7 H662.5M656.5,931.0 H662.5M656.5,873.2 H662.5M656.5,815.4 H662.5M656.5,757.6 H662.5M776.9,959.9 V969.9M940.5,959.9 V969.9M662.5,959.9 V965.9M691.3,959.9 V965.9M711.7,959.9 V965.9M727.6,959.9 V965.9M740.6,959.9 V965.9M751.5,959.9 V965.9M761.0,959.9 V965.9M769.4,959.9 V965.9M826.1,959.9 V965.9M854.9,959.9 V965.9M875.3,959.9 V965.9M891.2,959.9 V965.9M904.2,959.9 V965.9M915.1,959.9 V965.9M924.6,959.9 V965.9M933.0,959.9 V965.9M989.7,959.9 V965.9"/>
</g>
<g font-family="Liberation Sans, sans-serif" fill="#000" font-size="25">
<g text-anchor="end">
<text x="648.4" y="966.7">0</text>
<text x="648.4" y="908.9">5</text>
<text x="648.4" y="851.1">10</text>
<text x="648.4" y="793.3">15</text>
<text x="648.4" y="735.5">20</text>
</g>
<text x="777.3" y="994.2" text-anchor="middle">1</text>
<text x="943.5" y="994.2" text-anchor="middle">10</text>
<text x="766" y="1027.3" textLength="122" lengthAdjust="spacingAndGlyphs">Time (min)</text>
<text transform="translate(607.9,960) rotate(-90)" textLength="229.5" lengthAdjust="spacingAndGlyphs">LOD and LOQ (ppm)</text>
</g>
<circle cx="854.4" cy="1082.2" r="6.4" fill="#000"/>
<circle cx="854.8" cy="1127" r="5" fill="none" stroke="#ff0000" stroke-width="1.8"/>
<path d="M821,1171.4 H883" stroke="#000" stroke-width="2.8" stroke-dasharray="13.8 9.8" fill="none"/>
<path d="M821,1216.2 H883" stroke="#ff0000" stroke-width="2.8" stroke-dasharray="13.8 9.8" fill="none"/>
<g font-family="Liberation Sans, sans-serif" fill="#000" font-size="27.8">
<text x="895.6" y="1091.5">t</text>
<text x="904.3" y="1102.2" font-size="17.3" textLength="36.2" lengthAdjust="spacingAndGlyphs">LOD</text>
<text x="895.6" y="1136">t</text>
<text x="904.3" y="1146.7" font-size="17.3" textLength="37.2" lengthAdjust="spacingAndGlyphs">LOQ</text>
<text x="895.6" y="1181.1">t</text>
<text x="904.3" y="1191.8" font-size="17.3" textLength="36.2" lengthAdjust="spacingAndGlyphs">LOD</text>
<text x="947.6" y="1181.1" textLength="24" lengthAdjust="spacingAndGlyphs">fit</text>
<text x="895.6" y="1225.3">t</text>
<text x="904.3" y="1236.0" font-size="17.3" textLength="37.2" lengthAdjust="spacingAndGlyphs">LOQ</text>
<text x="947.6" y="1225.3" textLength="24" lengthAdjust="spacingAndGlyphs">fit</text>
</g>
</svg>
</body></html>
